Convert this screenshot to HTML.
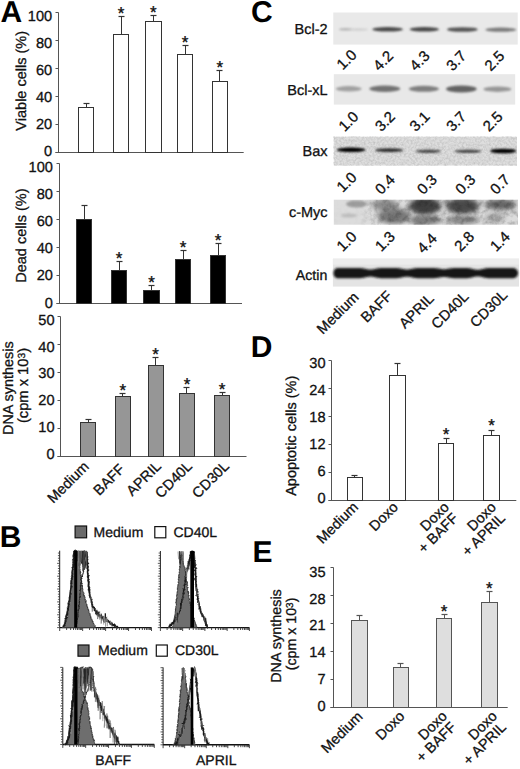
<!DOCTYPE html>
<html><head><meta charset="utf-8"><style>
html,body{margin:0;padding:0;background:#fff;overflow:hidden;}
svg{display:block;}
text{stroke:#111;stroke-width:0.3px;text-rendering:geometricPrecision;}
</style></head><body>
<svg width="520" height="769" viewBox="0 0 520 769" font-family='"Liberation Sans", sans-serif'>
<defs>
<filter id="b1" x="-20%" y="-100%" width="140%" height="300%"><feGaussianBlur stdDeviation="1.2 0.9"/></filter>
<filter id="b2" x="-20%" y="-100%" width="140%" height="300%"><feGaussianBlur stdDeviation="2.5 2"/></filter>
<filter id="b3" x="-20%" y="-50%" width="140%" height="200%"><feGaussianBlur stdDeviation="0.9"/></filter>
<filter id="nz" x="0" y="0" width="100%" height="100%"><feTurbulence type="fractalNoise" baseFrequency="0.45" numOctaves="2" seed="7"/><feColorMatrix type="matrix" values="0 0 0 0 0  0 0 0 0 0  0 0 0 0 0  1.6 0 0 0 -0.55"/></filter>
<filter id="nz2" x="0" y="0" width="100%" height="100%"><feTurbulence type="fractalNoise" baseFrequency="0.18" numOctaves="3" seed="11"/><feColorMatrix type="matrix" values="0 0 0 0 0  0 0 0 0 0  0 0 0 0 0  2.2 0 0 0 -0.85"/></filter>
</defs>
<rect width="520" height="769" fill="#fff"/>
<text x="0.5" y="22" font-size="30" font-weight="bold" fill="#000" style="stroke-width:0">A</text>
<text x="251" y="22" font-size="30" font-weight="bold" fill="#000" style="stroke-width:0">C</text>
<text x="-0.2" y="547" font-size="30" font-weight="bold" fill="#000" style="stroke-width:0">B</text>
<text x="250.8" y="357" font-size="30" font-weight="bold" fill="#000" style="stroke-width:0">D</text>
<text x="252.5" y="562" font-size="30" font-weight="bold" fill="#000" style="stroke-width:0">E</text>
<line x1="58.5" y1="12.5" x2="58.5" y2="152.5" stroke="#555" stroke-width="1"/>
<line x1="55.5" y1="152.5" x2="243.7" y2="152.5" stroke="#555" stroke-width="1"/>
<line x1="55.5" y1="152.5" x2="58.5" y2="152.5" stroke="#555" stroke-width="1"/>
<text x="52.2" y="156.1" font-size="14.6" text-anchor="end" fill="#111">0</text>
<line x1="55.5" y1="124.5" x2="58.5" y2="124.5" stroke="#555" stroke-width="1"/>
<text x="52.2" y="129.06" font-size="14.6" text-anchor="end" fill="#111">20</text>
<line x1="55.5" y1="96.5" x2="58.5" y2="96.5" stroke="#555" stroke-width="1"/>
<text x="52.2" y="102.02" font-size="14.6" text-anchor="end" fill="#111">40</text>
<line x1="55.5" y1="68.5" x2="58.5" y2="68.5" stroke="#555" stroke-width="1"/>
<text x="52.2" y="74.98" font-size="14.6" text-anchor="end" fill="#111">60</text>
<line x1="55.5" y1="40.5" x2="58.5" y2="40.5" stroke="#555" stroke-width="1"/>
<text x="52.2" y="47.94" font-size="14.6" text-anchor="end" fill="#111">80</text>
<line x1="55.5" y1="12.5" x2="58.5" y2="12.5" stroke="#555" stroke-width="1"/>
<text x="52.2" y="20.9" font-size="14.6" text-anchor="end" fill="#111">100</text>
<line x1="86.5" y1="103.5" x2="86.5" y2="107.5" stroke="#333" stroke-width="1"/>
<line x1="83.5" y1="103.5" x2="89.5" y2="103.5" stroke="#333" stroke-width="1.2"/>
<rect x="78.5" y="107.5" width="15" height="45" fill="#fff" stroke="#333" stroke-width="1.0"/>
<line x1="121.5" y1="16.5" x2="121.5" y2="34.5" stroke="#333" stroke-width="1"/>
<line x1="118.5" y1="16.5" x2="124.5" y2="16.5" stroke="#333" stroke-width="1.2"/>
<rect x="113.5" y="34.5" width="15" height="118" fill="#fff" stroke="#333" stroke-width="1.0"/>
<text x="121" y="19" font-size="17" text-anchor="middle" fill="#111" style="stroke-width:0.35px">*</text>
<line x1="153.5" y1="15.5" x2="153.5" y2="21.5" stroke="#333" stroke-width="1"/>
<line x1="150.5" y1="15.5" x2="156.5" y2="15.5" stroke="#333" stroke-width="1.2"/>
<rect x="145.5" y="21.5" width="16" height="131" fill="#fff" stroke="#333" stroke-width="1.0"/>
<text x="153.3" y="17.6" font-size="17" text-anchor="middle" fill="#111" style="stroke-width:0.35px">*</text>
<line x1="185.5" y1="45.5" x2="185.5" y2="54.5" stroke="#333" stroke-width="1"/>
<line x1="182.5" y1="45.5" x2="188.5" y2="45.5" stroke="#333" stroke-width="1.2"/>
<rect x="177.5" y="54.5" width="15" height="98" fill="#fff" stroke="#333" stroke-width="1.0"/>
<text x="185" y="47.7" font-size="17" text-anchor="middle" fill="#111" style="stroke-width:0.35px">*</text>
<line x1="219.5" y1="70.5" x2="219.5" y2="81.5" stroke="#333" stroke-width="1"/>
<line x1="216.5" y1="70.5" x2="222.5" y2="70.5" stroke="#333" stroke-width="1.2"/>
<rect x="212.5" y="81.5" width="15" height="71" fill="#fff" stroke="#333" stroke-width="1.0"/>
<text x="219.8" y="73.1" font-size="17" text-anchor="middle" fill="#111" style="stroke-width:0.35px">*</text>
<text x="26.3" y="80.8" font-size="14.5" text-anchor="middle" fill="#111" transform="rotate(-90 26.3 80.8)">Viable cells (%)</text>
<line x1="59.5" y1="163.5" x2="59.5" y2="303.5" stroke="#555" stroke-width="1"/>
<line x1="56.5" y1="303.5" x2="242" y2="303.5" stroke="#555" stroke-width="1"/>
<line x1="56.5" y1="303.5" x2="59.5" y2="303.5" stroke="#555" stroke-width="1"/>
<text x="52.9" y="307.5" font-size="14.6" text-anchor="end" fill="#111">0</text>
<line x1="56.5" y1="275.5" x2="59.5" y2="275.5" stroke="#555" stroke-width="1"/>
<text x="52.9" y="280.3" font-size="14.6" text-anchor="end" fill="#111">20</text>
<line x1="56.5" y1="247.5" x2="59.5" y2="247.5" stroke="#555" stroke-width="1"/>
<text x="52.9" y="253.1" font-size="14.6" text-anchor="end" fill="#111">40</text>
<line x1="56.5" y1="219.5" x2="59.5" y2="219.5" stroke="#555" stroke-width="1"/>
<text x="52.9" y="225.9" font-size="14.6" text-anchor="end" fill="#111">60</text>
<line x1="56.5" y1="191.5" x2="59.5" y2="191.5" stroke="#555" stroke-width="1"/>
<text x="52.9" y="198.7" font-size="14.6" text-anchor="end" fill="#111">80</text>
<line x1="56.5" y1="163.5" x2="59.5" y2="163.5" stroke="#555" stroke-width="1"/>
<text x="52.9" y="171.5" font-size="14.6" text-anchor="end" fill="#111">100</text>
<line x1="84.5" y1="205.5" x2="84.5" y2="219.5" stroke="#333" stroke-width="1"/>
<line x1="81.5" y1="205.5" x2="87.5" y2="205.5" stroke="#333" stroke-width="1.2"/>
<rect x="76.5" y="219.5" width="15" height="84" fill="#000" stroke="#333" stroke-width="1.0"/>
<line x1="119.5" y1="261.5" x2="119.5" y2="270.5" stroke="#333" stroke-width="1"/>
<line x1="116.5" y1="261.5" x2="122.5" y2="261.5" stroke="#333" stroke-width="1.2"/>
<rect x="111.5" y="270.5" width="15" height="33" fill="#000" stroke="#333" stroke-width="1.0"/>
<text x="119" y="263.6" font-size="17" text-anchor="middle" fill="#111" style="stroke-width:0.35px">*</text>
<line x1="151.5" y1="285.5" x2="151.5" y2="290.5" stroke="#333" stroke-width="1"/>
<line x1="148.5" y1="285.5" x2="154.5" y2="285.5" stroke="#333" stroke-width="1.2"/>
<rect x="143.5" y="290.5" width="16" height="13" fill="#000" stroke="#333" stroke-width="1.0"/>
<text x="151.55" y="288.1" font-size="17" text-anchor="middle" fill="#111" style="stroke-width:0.35px">*</text>
<line x1="183.5" y1="250.5" x2="183.5" y2="259.5" stroke="#333" stroke-width="1"/>
<line x1="180.5" y1="250.5" x2="186.5" y2="250.5" stroke="#333" stroke-width="1.2"/>
<rect x="175.5" y="259.5" width="15" height="44" fill="#000" stroke="#333" stroke-width="1.0"/>
<text x="183.1" y="253.3" font-size="17" text-anchor="middle" fill="#111" style="stroke-width:0.35px">*</text>
<line x1="218.5" y1="243.5" x2="218.5" y2="255.5" stroke="#333" stroke-width="1"/>
<line x1="215.5" y1="243.5" x2="221.5" y2="243.5" stroke="#333" stroke-width="1.2"/>
<rect x="210.5" y="255.5" width="15" height="48" fill="#000" stroke="#333" stroke-width="1.0"/>
<text x="218.05" y="246.3" font-size="17" text-anchor="middle" fill="#111" style="stroke-width:0.35px">*</text>
<text x="26.5" y="235.6" font-size="14.5" text-anchor="middle" fill="#111" transform="rotate(-90 26.5 235.6)">Dead cells (%)</text>
<line x1="60.5" y1="316.5" x2="60.5" y2="456.5" stroke="#555" stroke-width="1"/>
<line x1="57.5" y1="456.5" x2="246.5" y2="456.5" stroke="#555" stroke-width="1"/>
<line x1="57.5" y1="456.5" x2="60.5" y2="456.5" stroke="#555" stroke-width="1"/>
<text x="54.6" y="458.9" font-size="14.6" text-anchor="end" fill="#111">0</text>
<line x1="57.5" y1="428.5" x2="60.5" y2="428.5" stroke="#555" stroke-width="1"/>
<text x="54.6" y="432.08" font-size="14.6" text-anchor="end" fill="#111">10</text>
<line x1="57.5" y1="400.5" x2="60.5" y2="400.5" stroke="#555" stroke-width="1"/>
<text x="54.6" y="405.26" font-size="14.6" text-anchor="end" fill="#111">20</text>
<line x1="57.5" y1="372.5" x2="60.5" y2="372.5" stroke="#555" stroke-width="1"/>
<text x="54.6" y="378.44" font-size="14.6" text-anchor="end" fill="#111">30</text>
<line x1="57.5" y1="344.5" x2="60.5" y2="344.5" stroke="#555" stroke-width="1"/>
<text x="54.6" y="351.62" font-size="14.6" text-anchor="end" fill="#111">40</text>
<line x1="57.5" y1="316.5" x2="60.5" y2="316.5" stroke="#555" stroke-width="1"/>
<text x="54.6" y="324.8" font-size="14.6" text-anchor="end" fill="#111">50</text>
<line x1="88.5" y1="419.5" x2="88.5" y2="422.5" stroke="#333" stroke-width="1"/>
<line x1="85.5" y1="419.5" x2="91.5" y2="419.5" stroke="#333" stroke-width="1.2"/>
<rect x="80.5" y="422.5" width="15" height="34" fill="#969696" stroke="#333" stroke-width="1.0"/>
<line x1="122.5" y1="393.5" x2="122.5" y2="396.5" stroke="#333" stroke-width="1"/>
<line x1="119.5" y1="393.5" x2="125.5" y2="393.5" stroke="#333" stroke-width="1.2"/>
<rect x="115.5" y="396.5" width="15" height="60" fill="#969696" stroke="#333" stroke-width="1.0"/>
<text x="122.85" y="395.5" font-size="17" text-anchor="middle" fill="#111" style="stroke-width:0.35px">*</text>
<line x1="155.5" y1="357.5" x2="155.5" y2="365.5" stroke="#333" stroke-width="1"/>
<line x1="152.5" y1="357.5" x2="158.5" y2="357.5" stroke="#333" stroke-width="1.2"/>
<rect x="148.5" y="365.5" width="15" height="91" fill="#969696" stroke="#333" stroke-width="1.0"/>
<text x="155.65" y="360.1" font-size="17" text-anchor="middle" fill="#111" style="stroke-width:0.35px">*</text>
<line x1="186.5" y1="387.5" x2="186.5" y2="393.5" stroke="#333" stroke-width="1"/>
<line x1="183.5" y1="387.5" x2="189.5" y2="387.5" stroke="#333" stroke-width="1.2"/>
<rect x="179.5" y="393.5" width="15" height="63" fill="#969696" stroke="#333" stroke-width="1.0"/>
<text x="186.95" y="389.6" font-size="17" text-anchor="middle" fill="#111" style="stroke-width:0.35px">*</text>
<line x1="222.5" y1="392.5" x2="222.5" y2="395.5" stroke="#333" stroke-width="1"/>
<line x1="219.5" y1="392.5" x2="225.5" y2="392.5" stroke="#333" stroke-width="1.2"/>
<rect x="214.5" y="395.5" width="15" height="61" fill="#969696" stroke="#333" stroke-width="1.0"/>
<text x="222" y="394.7" font-size="17" text-anchor="middle" fill="#111" style="stroke-width:0.35px">*</text>
<text x="12.8" y="388.2" font-size="14.4" text-anchor="middle" fill="#111" transform="rotate(-90 12.8 388.2)">DNA synthesis</text>
<text x="27.6" y="385.5" font-size="14.7" text-anchor="middle" fill="#111" transform="rotate(-90 27.6 385.5)">(cpm x 10<tspan font-size="10.3" dy="-2.5">3</tspan><tspan dy="2.5">)</tspan></text>
<text x="89.8" y="467.5" font-size="14.5" text-anchor="end" fill="#111" transform="rotate(-45 89.8 467.5)">Medium</text>
<text x="125.5" y="470" font-size="14.5" text-anchor="end" fill="#111" transform="rotate(-45 125.5 470)">BAFF</text>
<text x="162" y="467" font-size="14.5" text-anchor="end" fill="#111" transform="rotate(-45 162 467)">APRIL</text>
<text x="193" y="467" font-size="14.5" text-anchor="end" fill="#111" transform="rotate(-45 193 467)">CD40L</text>
<text x="230" y="467" font-size="14.5" text-anchor="end" fill="#111" transform="rotate(-45 230 467)">CD30L</text>
<line x1="331.5" y1="360.5" x2="331.5" y2="500.5" stroke="#555" stroke-width="1"/>
<line x1="328.5" y1="500.5" x2="516.3" y2="500.5" stroke="#555" stroke-width="1"/>
<line x1="328.5" y1="500.5" x2="331.5" y2="500.5" stroke="#555" stroke-width="1"/>
<text x="325.6" y="503.2" font-size="14.6" text-anchor="end" fill="#111">0</text>
<line x1="328.5" y1="472.5" x2="331.5" y2="472.5" stroke="#555" stroke-width="1"/>
<text x="325.6" y="476.08" font-size="14.6" text-anchor="end" fill="#111">6</text>
<line x1="328.5" y1="444.5" x2="331.5" y2="444.5" stroke="#555" stroke-width="1"/>
<text x="325.6" y="448.96" font-size="14.6" text-anchor="end" fill="#111">12</text>
<line x1="328.5" y1="416.5" x2="331.5" y2="416.5" stroke="#555" stroke-width="1"/>
<text x="325.6" y="421.84" font-size="14.6" text-anchor="end" fill="#111">18</text>
<line x1="328.5" y1="388.5" x2="331.5" y2="388.5" stroke="#555" stroke-width="1"/>
<text x="325.6" y="394.72" font-size="14.6" text-anchor="end" fill="#111">24</text>
<line x1="328.5" y1="360.5" x2="331.5" y2="360.5" stroke="#555" stroke-width="1"/>
<text x="325.6" y="367.6" font-size="14.6" text-anchor="end" fill="#111">30</text>
<line x1="354.5" y1="475.5" x2="354.5" y2="477.5" stroke="#333" stroke-width="1"/>
<line x1="351.5" y1="475.5" x2="357.5" y2="475.5" stroke="#333" stroke-width="1.2"/>
<rect x="347.5" y="477.5" width="15" height="23" fill="#fff" stroke="#333" stroke-width="1.0"/>
<line x1="397.5" y1="363.5" x2="397.5" y2="375.5" stroke="#333" stroke-width="1"/>
<line x1="394.5" y1="363.5" x2="400.5" y2="363.5" stroke="#333" stroke-width="1.2"/>
<rect x="389.5" y="375.5" width="16" height="125" fill="#fff" stroke="#333" stroke-width="1.0"/>
<line x1="446.5" y1="438.5" x2="446.5" y2="443.5" stroke="#333" stroke-width="1"/>
<line x1="443.5" y1="438.5" x2="449.5" y2="438.5" stroke="#333" stroke-width="1.2"/>
<rect x="438.5" y="443.5" width="15" height="57" fill="#fff" stroke="#333" stroke-width="1.0"/>
<text x="446.15" y="439.8" font-size="17" text-anchor="middle" fill="#111" style="stroke-width:0.35px">*</text>
<line x1="491.5" y1="430.5" x2="491.5" y2="435.5" stroke="#333" stroke-width="1"/>
<line x1="488.5" y1="430.5" x2="494.5" y2="430.5" stroke="#333" stroke-width="1.2"/>
<rect x="483.5" y="435.5" width="16" height="65" fill="#fff" stroke="#333" stroke-width="1.0"/>
<text x="491.55" y="431.2" font-size="17" text-anchor="middle" fill="#111" style="stroke-width:0.35px">*</text>
<text x="296.3" y="435.8" font-size="14.5" text-anchor="middle" fill="#111" transform="rotate(-90 296.3 435.8)">Apoptotic cells (%)</text>
<text x="359" y="508" font-size="14.5" text-anchor="end" fill="#111" transform="rotate(-45 359 508)">Medium</text>
<text x="399" y="508" font-size="14.5" text-anchor="end" fill="#111" transform="rotate(-45 399 508)">Doxo</text>
<text x="450" y="508" font-size="14.5" text-anchor="end" fill="#111" transform="rotate(-45 450 508)">Doxo</text>
<text x="459" y="519" font-size="14.5" text-anchor="end" fill="#111" transform="rotate(-45 459 519)">+ BAFF</text>
<text x="497" y="508" font-size="14.5" text-anchor="end" fill="#111" transform="rotate(-45 497 508)">Doxo</text>
<text x="506" y="519" font-size="14.5" text-anchor="end" fill="#111" transform="rotate(-45 506 519)">+ APRIL</text>
<line x1="333.5" y1="567.5" x2="333.5" y2="707.5" stroke="#555" stroke-width="1"/>
<line x1="330.5" y1="707.5" x2="507.7" y2="707.5" stroke="#555" stroke-width="1"/>
<line x1="330.5" y1="707.5" x2="333.5" y2="707.5" stroke="#555" stroke-width="1"/>
<text x="325.6" y="710.7" font-size="14.6" text-anchor="end" fill="#111">0</text>
<line x1="330.5" y1="679.5" x2="333.5" y2="679.5" stroke="#555" stroke-width="1"/>
<text x="325.6" y="683.9" font-size="14.6" text-anchor="end" fill="#111">7</text>
<line x1="330.5" y1="651.5" x2="333.5" y2="651.5" stroke="#555" stroke-width="1"/>
<text x="325.6" y="657.1" font-size="14.6" text-anchor="end" fill="#111">14</text>
<line x1="330.5" y1="623.5" x2="333.5" y2="623.5" stroke="#555" stroke-width="1"/>
<text x="325.6" y="630.3" font-size="14.6" text-anchor="end" fill="#111">21</text>
<line x1="330.5" y1="595.5" x2="333.5" y2="595.5" stroke="#555" stroke-width="1"/>
<text x="325.6" y="603.5" font-size="14.6" text-anchor="end" fill="#111">28</text>
<line x1="330.5" y1="567.5" x2="333.5" y2="567.5" stroke="#555" stroke-width="1"/>
<text x="325.6" y="576.7" font-size="14.6" text-anchor="end" fill="#111">35</text>
<line x1="359.5" y1="615.5" x2="359.5" y2="620.5" stroke="#555" stroke-width="1"/>
<line x1="356.5" y1="615.5" x2="362.5" y2="615.5" stroke="#555" stroke-width="1.2"/>
<rect x="351.5" y="620.5" width="16" height="87" fill="#dedede" stroke="#555" stroke-width="1.0"/>
<line x1="400.5" y1="663.5" x2="400.5" y2="667.5" stroke="#555" stroke-width="1"/>
<line x1="397.5" y1="663.5" x2="403.5" y2="663.5" stroke="#555" stroke-width="1.2"/>
<rect x="393.5" y="667.5" width="15" height="40" fill="#dedede" stroke="#555" stroke-width="1.0"/>
<line x1="444.5" y1="614.5" x2="444.5" y2="618.5" stroke="#555" stroke-width="1"/>
<line x1="441.5" y1="614.5" x2="447.5" y2="614.5" stroke="#555" stroke-width="1.2"/>
<rect x="436.5" y="618.5" width="15" height="89" fill="#dedede" stroke="#555" stroke-width="1.0"/>
<text x="444" y="617.2" font-size="17" text-anchor="middle" fill="#111" style="stroke-width:0.35px">*</text>
<line x1="489.5" y1="591.5" x2="489.5" y2="602.5" stroke="#555" stroke-width="1"/>
<line x1="486.5" y1="591.5" x2="492.5" y2="591.5" stroke="#555" stroke-width="1.2"/>
<rect x="481.5" y="602.5" width="16" height="105" fill="#dedede" stroke="#555" stroke-width="1.0"/>
<text x="489.35" y="593.8" font-size="17" text-anchor="middle" fill="#111" style="stroke-width:0.35px">*</text>
<text x="281.3" y="636" font-size="14.4" text-anchor="middle" fill="#111" transform="rotate(-90 281.3 636)">DNA synthesis</text>
<text x="295.8" y="633.9" font-size="14.2" text-anchor="middle" fill="#111" transform="rotate(-90 295.8 633.9)">(cpm x 10<tspan font-size="10" dy="-2.5">3</tspan><tspan dy="2.5">)</tspan></text>
<text x="363.5" y="717.5" font-size="14.5" text-anchor="end" fill="#111" transform="rotate(-45 363.5 717.5)">Medium</text>
<text x="405.5" y="717" font-size="14.5" text-anchor="end" fill="#111" transform="rotate(-45 405.5 717)">Doxo</text>
<text x="448" y="717" font-size="14.5" text-anchor="end" fill="#111" transform="rotate(-45 448 717)">Doxo</text>
<text x="457" y="728" font-size="14.5" text-anchor="end" fill="#111" transform="rotate(-45 457 728)">+ BAFF</text>
<text x="498" y="717" font-size="14.5" text-anchor="end" fill="#111" transform="rotate(-45 498 717)">Doxo</text>
<text x="507" y="728" font-size="14.5" text-anchor="end" fill="#111" transform="rotate(-45 507 728)">+ APRIL</text>
<rect x="333.3" y="12.5" width="184.4" height="32.1" fill="#e9e9e9"/>
<g clip-path="url(#cl12)">
<ellipse cx="345.35" cy="29.3" rx="6.65" ry="1.3" fill="#b4b4b4" filter="url(#b1)"/>
<ellipse cx="358.5" cy="29.5" rx="9.5" ry="1.1" fill="#cacaca" filter="url(#b1)"/>
<ellipse cx="387.65" cy="29.3" rx="15.35" ry="2.3" fill="#4a4a4a" filter="url(#b1)"/>
<ellipse cx="424.35" cy="29.3" rx="14.65" ry="2.3" fill="#484848" filter="url(#b1)"/>
<ellipse cx="462.35" cy="29.5" rx="15.35" ry="2.3" fill="#545454" filter="url(#b1)"/>
<ellipse cx="500.8" cy="29.7" rx="15.4" ry="2.1" fill="#7a7a7a" filter="url(#b1)"/>
</g>
<clipPath id="cl12"><rect x="333.3" y="12.5" width="184.4" height="32.1"/></clipPath>
<text x="327.6" y="34.3" font-size="14.5" text-anchor="end" fill="#111">Bcl-2</text>
<rect x="333.8" y="74.2" width="181.4" height="30.4" fill="#e8e8e8"/>
<g clip-path="url(#cl74)">
<ellipse cx="348.75" cy="88.8" rx="12.95" ry="2.7" fill="#a0a0a0" filter="url(#b1)"/>
<ellipse cx="384.8" cy="88.8" rx="15.4" ry="3.2" fill="#727272" filter="url(#b1)"/>
<ellipse cx="423.9" cy="88.8" rx="15.1" ry="3" fill="#7e7e7e" filter="url(#b1)"/>
<ellipse cx="461.35" cy="89" rx="15.35" ry="3.4" fill="#646464" filter="url(#b1)"/>
<ellipse cx="497.4" cy="89.2" rx="13.9" ry="2.7" fill="#969696" filter="url(#b1)"/>
</g>
<clipPath id="cl74"><rect x="333.8" y="74.2" width="181.4" height="30.4"/></clipPath>
<text x="327.6" y="94.6" font-size="14.5" text-anchor="end" fill="#111">Bcl-xL</text>
<rect x="333.8" y="136.7" width="183.2" height="28.9" fill="#dedede"/>
<g clip-path="url(#cl136)">
<ellipse cx="351.15" cy="149.8" rx="14.45" ry="2.3" fill="#000" filter="url(#b1)"/>
<ellipse cx="389.1" cy="150.2" rx="13.9" ry="1.9" fill="#2e2e2e" filter="url(#b1)"/>
<ellipse cx="428.3" cy="151.2" rx="12.7" ry="1.7" fill="#4e4e4e" filter="url(#b1)"/>
<ellipse cx="468.05" cy="151.2" rx="13.45" ry="1.7" fill="#4e4e4e" filter="url(#b1)"/>
<ellipse cx="503.2" cy="151" rx="13" ry="2.3" fill="#050505" filter="url(#b1)"/>
</g>
<clipPath id="cl136"><rect x="333.8" y="136.7" width="183.2" height="28.9"/></clipPath>
<text x="327.6" y="155.9" font-size="14.5" text-anchor="end" fill="#111">Bax</text>
<rect x="333.8" y="136.7" width="183.2" height="28.9" filter="url(#nz)" opacity="0.14"/>
<rect x="333.8" y="199.7" width="184.2" height="25" fill="#dcdcdc"/>
<g clip-path="url(#cl199)">
<ellipse cx="356.5" cy="204" rx="10.5" ry="3.5" fill="#9c9c9c" filter="url(#b1)"/>
<ellipse cx="349" cy="215.5" rx="8" ry="2" fill="#bdbdbd" filter="url(#b1)"/>
<ellipse cx="385" cy="205" rx="13" ry="6" fill="#8c8c8c" filter="url(#b2)"/>
<ellipse cx="394" cy="216" rx="16" ry="8" fill="#787878" filter="url(#b2)"/>
<ellipse cx="425" cy="206" rx="16" ry="8.5" fill="#404040" filter="url(#b2)"/>
<ellipse cx="425" cy="220" rx="16" ry="5" fill="#7a7a7a" filter="url(#b2)"/>
<ellipse cx="462.5" cy="206" rx="16.5" ry="8" fill="#4a4a4a" filter="url(#b2)"/>
<ellipse cx="462.5" cy="220" rx="16.5" ry="4.5" fill="#8a8a8a" filter="url(#b2)"/>
<ellipse cx="500.5" cy="204.5" rx="15.5" ry="5.5" fill="#666" filter="url(#b2)"/>
<ellipse cx="495" cy="218" rx="10" ry="5" fill="#aaa" filter="url(#b2)"/>
</g>
<clipPath id="cl199"><rect x="333.8" y="199.7" width="184.2" height="25"/></clipPath>
<text x="327.6" y="216.7" font-size="14.5" text-anchor="end" fill="#111">c-Myc</text>
<linearGradient id="mg" x1="0" x2="1" y1="0" y2="0"><stop offset="0" stop-color="#fff" stop-opacity="0.08"/><stop offset="0.14" stop-color="#fff" stop-opacity="0.08"/><stop offset="0.22" stop-color="#fff" stop-opacity="1"/><stop offset="1" stop-color="#fff" stop-opacity="1"/></linearGradient><mask id="mk" maskContentUnits="userSpaceOnUse"><rect x="333.8" y="199.7" width="184.2" height="25" fill="url(#mg)"/></mask>
<rect x="333.8" y="199.7" width="184.2" height="25" filter="url(#nz2)" opacity="0.22" mask="url(#mk)"/>
<rect x="332.9" y="258.7" width="186.1" height="27.9" fill="#e4e4e4"/>
<rect x="332.9" y="258.7" width="186.1" height="6" fill="#ececec"/>
<path d="M333.5 272.02 L334.0 270.53 L334.5 269.73 L335.0 269.16 L335.5 268.73 L336.0 268.42 L336.5 268.18 L337.0 268.02 L337.5 267.93 L338.0 267.90 L338.5 267.90 L339.0 267.90 L339.5 267.90 L340.0 267.90 L340.5 267.90 L341.0 267.90 L341.5 267.90 L342.0 267.90 L342.5 267.90 L343.0 267.90 L343.5 267.90 L344.0 267.90 L344.5 267.90 L345.0 267.90 L345.5 267.90 L346.0 267.90 L346.5 267.90 L347.0 267.90 L347.5 267.90 L348.0 267.90 L348.5 267.90 L349.0 267.90 L349.5 267.90 L350.0 267.90 L350.5 267.90 L351.0 267.90 L351.5 267.90 L352.0 267.90 L352.5 267.90 L353.0 267.90 L353.5 267.90 L354.0 267.90 L354.5 267.90 L355.0 267.91 L355.5 267.91 L356.0 267.91 L356.5 267.92 L357.0 267.92 L357.5 267.93 L358.0 267.94 L358.5 267.96 L359.0 267.98 L359.5 268.00 L360.0 268.03 L360.5 268.07 L361.0 268.11 L361.5 268.16 L362.0 268.22 L362.5 268.29 L363.0 268.37 L363.5 268.45 L364.0 268.54 L364.5 268.65 L365.0 268.75 L365.5 268.86 L366.0 268.98 L366.5 269.09 L367.0 269.19 L367.5 269.29 L368.0 269.38 L368.5 269.46 L369.0 269.52 L369.5 269.57 L370.0 269.59 L370.5 269.60 L371.0 269.59 L371.5 269.55 L372.0 269.50 L372.5 269.43 L373.0 269.35 L373.5 269.25 L374.0 269.15 L374.5 269.04 L375.0 268.93 L375.5 268.82 L376.0 268.71 L376.5 268.60 L377.0 268.51 L377.5 268.42 L378.0 268.33 L378.5 268.26 L379.0 268.20 L379.5 268.14 L380.0 268.09 L380.5 268.05 L381.0 268.02 L381.5 267.99 L382.0 267.97 L382.5 267.95 L383.0 267.94 L383.5 267.93 L384.0 267.92 L384.5 267.92 L385.0 267.91 L385.5 267.91 L386.0 267.91 L386.5 267.90 L387.0 267.90 L387.5 267.90 L388.0 267.90 L388.5 267.90 L389.0 267.90 L389.5 267.90 L390.0 267.90 L390.5 267.90 L391.0 267.90 L391.5 267.91 L392.0 267.91 L392.5 267.91 L393.0 267.92 L393.5 267.92 L394.0 267.93 L394.5 267.94 L395.0 267.95 L395.5 267.97 L396.0 267.99 L396.5 268.02 L397.0 268.05 L397.5 268.09 L398.0 268.14 L398.5 268.19 L399.0 268.25 L399.5 268.32 L400.0 268.40 L400.5 268.49 L401.0 268.58 L401.5 268.68 L402.0 268.79 L402.5 268.89 L403.0 269.00 L403.5 269.10 L404.0 269.19 L404.5 269.28 L405.0 269.36 L405.5 269.42 L406.0 269.46 L406.5 269.49 L407.0 269.50 L407.5 269.49 L408.0 269.46 L408.5 269.42 L409.0 269.36 L409.5 269.28 L410.0 269.19 L410.5 269.10 L411.0 269.00 L411.5 268.89 L412.0 268.79 L412.5 268.68 L413.0 268.58 L413.5 268.49 L414.0 268.40 L414.5 268.32 L415.0 268.25 L415.5 268.19 L416.0 268.14 L416.5 268.09 L417.0 268.05 L417.5 268.02 L418.0 267.99 L418.5 267.97 L419.0 267.95 L419.5 267.94 L420.0 267.93 L420.5 267.92 L421.0 267.92 L421.5 267.91 L422.0 267.91 L422.5 267.91 L423.0 267.90 L423.5 267.90 L424.0 267.90 L424.5 267.90 L425.0 267.90 L425.5 267.90 L426.0 267.90 L426.5 267.90 L427.0 267.90 L427.5 267.90 L428.0 267.90 L428.5 267.90 L429.0 267.91 L429.5 267.91 L430.0 267.91 L430.5 267.92 L431.0 267.92 L431.5 267.93 L432.0 267.94 L432.5 267.96 L433.0 267.97 L433.5 268.00 L434.0 268.02 L434.5 268.05 L435.0 268.09 L435.5 268.14 L436.0 268.19 L436.5 268.24 L437.0 268.31 L437.5 268.38 L438.0 268.45 L438.5 268.54 L439.0 268.62 L439.5 268.70 L440.0 268.79 L440.5 268.87 L441.0 268.95 L441.5 269.02 L442.0 269.08 L442.5 269.13 L443.0 269.17 L443.5 269.19 L444.0 269.20 L444.5 269.19 L445.0 269.17 L445.5 269.13 L446.0 269.08 L446.5 269.02 L447.0 268.95 L447.5 268.87 L448.0 268.79 L448.5 268.70 L449.0 268.62 L449.5 268.54 L450.0 268.45 L450.5 268.38 L451.0 268.31 L451.5 268.24 L452.0 268.19 L452.5 268.14 L453.0 268.09 L453.5 268.05 L454.0 268.02 L454.5 268.00 L455.0 267.97 L455.5 267.96 L456.0 267.94 L456.5 267.93 L457.0 267.92 L457.5 267.92 L458.0 267.91 L458.5 267.91 L459.0 267.91 L459.5 267.91 L460.0 267.90 L460.5 267.90 L461.0 267.90 L461.5 267.90 L462.0 267.91 L462.5 267.91 L463.0 267.91 L463.5 267.92 L464.0 267.92 L464.5 267.93 L465.0 267.94 L465.5 267.96 L466.0 267.97 L466.5 268.00 L467.0 268.03 L467.5 268.06 L468.0 268.10 L468.5 268.16 L469.0 268.22 L469.5 268.29 L470.0 268.37 L470.5 268.46 L471.0 268.56 L471.5 268.66 L472.0 268.78 L472.5 268.90 L473.0 269.03 L473.5 269.15 L474.0 269.27 L474.5 269.39 L475.0 269.50 L475.5 269.59 L476.0 269.67 L476.5 269.74 L477.0 269.78 L477.5 269.80 L478.0 269.80 L478.5 269.77 L479.0 269.73 L479.5 269.66 L480.0 269.58 L480.5 269.48 L481.0 269.37 L481.5 269.25 L482.0 269.13 L482.5 269.00 L483.0 268.88 L483.5 268.76 L484.0 268.64 L484.5 268.54 L485.0 268.44 L485.5 268.35 L486.0 268.27 L486.5 268.20 L487.0 268.15 L487.5 268.10 L488.0 268.05 L488.5 268.02 L489.0 267.99 L489.5 267.97 L490.0 267.95 L490.5 267.94 L491.0 267.93 L491.5 267.92 L492.0 267.92 L492.5 267.91 L493.0 267.91 L493.5 267.91 L494.0 267.90 L494.5 267.90 L495.0 267.90 L495.5 267.90 L496.0 267.90 L496.5 267.90 L497.0 267.90 L497.5 267.90 L498.0 267.90 L498.5 267.90 L499.0 267.90 L499.5 267.90 L500.0 267.90 L500.5 267.90 L501.0 267.90 L501.5 267.90 L502.0 267.90 L502.5 267.90 L503.0 267.90 L503.5 267.90 L504.0 267.90 L504.5 267.90 L505.0 267.90 L505.5 267.90 L506.0 267.90 L506.5 267.90 L507.0 267.90 L507.5 267.90 L508.0 267.90 L508.5 267.90 L509.0 267.90 L509.5 267.90 L510.0 267.90 L510.5 267.90 L511.0 267.90 L511.5 267.90 L512.0 267.90 L512.5 267.90 L513.0 267.92 L513.5 267.98 L514.0 268.09 L514.5 268.24 L515.0 268.45 L515.5 268.71 L516.0 269.04 L516.5 269.46 L517.0 270.00 L517.5 270.76 L518.0 272.12 L518.0 274.08 L517.5 275.44 L517.0 276.20 L516.5 276.74 L516.0 277.16 L515.5 277.49 L515.0 277.75 L514.5 277.96 L514.0 278.11 L513.5 278.22 L513.0 278.28 L512.5 278.30 L512.0 278.30 L511.5 278.30 L511.0 278.30 L510.5 278.30 L510.0 278.30 L509.5 278.30 L509.0 278.30 L508.5 278.30 L508.0 278.30 L507.5 278.30 L507.0 278.30 L506.5 278.30 L506.0 278.30 L505.5 278.30 L505.0 278.30 L504.5 278.30 L504.0 278.30 L503.5 278.30 L503.0 278.30 L502.5 278.30 L502.0 278.30 L501.5 278.30 L501.0 278.30 L500.5 278.30 L500.0 278.30 L499.5 278.30 L499.0 278.30 L498.5 278.30 L498.0 278.30 L497.5 278.30 L497.0 278.30 L496.5 278.30 L496.0 278.30 L495.5 278.30 L495.0 278.30 L494.5 278.30 L494.0 278.30 L493.5 278.29 L493.0 278.29 L492.5 278.29 L492.0 278.28 L491.5 278.28 L491.0 278.27 L490.5 278.26 L490.0 278.25 L489.5 278.23 L489.0 278.21 L488.5 278.18 L488.0 278.15 L487.5 278.10 L487.0 278.05 L486.5 278.00 L486.0 277.93 L485.5 277.85 L485.0 277.76 L484.5 277.66 L484.0 277.56 L483.5 277.44 L483.0 277.32 L482.5 277.20 L482.0 277.07 L481.5 276.95 L481.0 276.83 L480.5 276.72 L480.0 276.62 L479.5 276.54 L479.0 276.47 L478.5 276.43 L478.0 276.40 L477.5 276.40 L477.0 276.42 L476.5 276.46 L476.0 276.53 L475.5 276.61 L475.0 276.70 L474.5 276.81 L474.0 276.93 L473.5 277.05 L473.0 277.17 L472.5 277.30 L472.0 277.42 L471.5 277.54 L471.0 277.64 L470.5 277.74 L470.0 277.83 L469.5 277.91 L469.0 277.98 L468.5 278.04 L468.0 278.10 L467.5 278.14 L467.0 278.17 L466.5 278.20 L466.0 278.23 L465.5 278.24 L465.0 278.26 L464.5 278.27 L464.0 278.28 L463.5 278.28 L463.0 278.29 L462.5 278.29 L462.0 278.29 L461.5 278.30 L461.0 278.30 L460.5 278.30 L460.0 278.30 L459.5 278.29 L459.0 278.29 L458.5 278.29 L458.0 278.29 L457.5 278.28 L457.0 278.28 L456.5 278.27 L456.0 278.26 L455.5 278.24 L455.0 278.23 L454.5 278.20 L454.0 278.18 L453.5 278.15 L453.0 278.11 L452.5 278.06 L452.0 278.01 L451.5 277.96 L451.0 277.89 L450.5 277.82 L450.0 277.75 L449.5 277.66 L449.0 277.58 L448.5 277.50 L448.0 277.41 L447.5 277.33 L447.0 277.25 L446.5 277.18 L446.0 277.12 L445.5 277.07 L445.0 277.03 L444.5 277.01 L444.0 277.00 L443.5 277.01 L443.0 277.03 L442.5 277.07 L442.0 277.12 L441.5 277.18 L441.0 277.25 L440.5 277.33 L440.0 277.41 L439.5 277.50 L439.0 277.58 L438.5 277.66 L438.0 277.75 L437.5 277.82 L437.0 277.89 L436.5 277.96 L436.0 278.01 L435.5 278.06 L435.0 278.11 L434.5 278.15 L434.0 278.18 L433.5 278.20 L433.0 278.23 L432.5 278.24 L432.0 278.26 L431.5 278.27 L431.0 278.28 L430.5 278.28 L430.0 278.29 L429.5 278.29 L429.0 278.29 L428.5 278.30 L428.0 278.30 L427.5 278.30 L427.0 278.30 L426.5 278.30 L426.0 278.30 L425.5 278.30 L425.0 278.30 L424.5 278.30 L424.0 278.30 L423.5 278.30 L423.0 278.30 L422.5 278.29 L422.0 278.29 L421.5 278.29 L421.0 278.28 L420.5 278.28 L420.0 278.27 L419.5 278.26 L419.0 278.25 L418.5 278.23 L418.0 278.21 L417.5 278.18 L417.0 278.15 L416.5 278.11 L416.0 278.06 L415.5 278.01 L415.0 277.95 L414.5 277.88 L414.0 277.80 L413.5 277.71 L413.0 277.62 L412.5 277.52 L412.0 277.41 L411.5 277.31 L411.0 277.20 L410.5 277.10 L410.0 277.01 L409.5 276.92 L409.0 276.84 L408.5 276.78 L408.0 276.74 L407.5 276.71 L407.0 276.70 L406.5 276.71 L406.0 276.74 L405.5 276.78 L405.0 276.84 L404.5 276.92 L404.0 277.01 L403.5 277.10 L403.0 277.20 L402.5 277.31 L402.0 277.41 L401.5 277.52 L401.0 277.62 L400.5 277.71 L400.0 277.80 L399.5 277.88 L399.0 277.95 L398.5 278.01 L398.0 278.06 L397.5 278.11 L397.0 278.15 L396.5 278.18 L396.0 278.21 L395.5 278.23 L395.0 278.25 L394.5 278.26 L394.0 278.27 L393.5 278.28 L393.0 278.28 L392.5 278.29 L392.0 278.29 L391.5 278.29 L391.0 278.30 L390.5 278.30 L390.0 278.30 L389.5 278.30 L389.0 278.30 L388.5 278.30 L388.0 278.30 L387.5 278.30 L387.0 278.30 L386.5 278.30 L386.0 278.29 L385.5 278.29 L385.0 278.29 L384.5 278.28 L384.0 278.28 L383.5 278.27 L383.0 278.26 L382.5 278.25 L382.0 278.23 L381.5 278.21 L381.0 278.18 L380.5 278.15 L380.0 278.11 L379.5 278.06 L379.0 278.00 L378.5 277.94 L378.0 277.87 L377.5 277.78 L377.0 277.69 L376.5 277.60 L376.0 277.49 L375.5 277.38 L375.0 277.27 L374.5 277.16 L374.0 277.05 L373.5 276.95 L373.0 276.85 L372.5 276.77 L372.0 276.70 L371.5 276.65 L371.0 276.61 L370.5 276.60 L370.0 276.61 L369.5 276.63 L369.0 276.68 L368.5 276.74 L368.0 276.82 L367.5 276.91 L367.0 277.01 L366.5 277.11 L366.0 277.22 L365.5 277.34 L365.0 277.45 L364.5 277.55 L364.0 277.66 L363.5 277.75 L363.0 277.83 L362.5 277.91 L362.0 277.98 L361.5 278.04 L361.0 278.09 L360.5 278.13 L360.0 278.17 L359.5 278.20 L359.0 278.22 L358.5 278.24 L358.0 278.26 L357.5 278.27 L357.0 278.28 L356.5 278.28 L356.0 278.29 L355.5 278.29 L355.0 278.29 L354.5 278.30 L354.0 278.30 L353.5 278.30 L353.0 278.30 L352.5 278.30 L352.0 278.30 L351.5 278.30 L351.0 278.30 L350.5 278.30 L350.0 278.30 L349.5 278.30 L349.0 278.30 L348.5 278.30 L348.0 278.30 L347.5 278.30 L347.0 278.30 L346.5 278.30 L346.0 278.30 L345.5 278.30 L345.0 278.30 L344.5 278.30 L344.0 278.30 L343.5 278.30 L343.0 278.30 L342.5 278.30 L342.0 278.30 L341.5 278.30 L341.0 278.30 L340.5 278.30 L340.0 278.30 L339.5 278.30 L339.0 278.30 L338.5 278.30 L338.0 278.30 L337.5 278.27 L337.0 278.18 L336.5 278.02 L336.0 277.78 L335.5 277.47 L335.0 277.04 L334.5 276.47 L334.0 275.67 L333.5 274.18Z" fill="#161616" filter="url(#b3)"/>
<text x="327.3" y="279.5" font-size="14.2" text-anchor="end" fill="#111">Actin</text>
<text x="357.6" y="55.8" font-size="15" text-anchor="end" fill="#111" transform="rotate(-45 357.6 55.8)">1.0</text>
<text x="394.1" y="56.9" font-size="15" text-anchor="end" fill="#111" transform="rotate(-45 394.1 56.9)">4.2</text>
<text x="430.6" y="56.9" font-size="15" text-anchor="end" fill="#111" transform="rotate(-45 430.6 56.9)">4.3</text>
<text x="467.2" y="56.9" font-size="15" text-anchor="end" fill="#111" transform="rotate(-45 467.2 56.9)">3.7</text>
<text x="505.5" y="56.9" font-size="15" text-anchor="end" fill="#111" transform="rotate(-45 505.5 56.9)">2.5</text>
<text x="359.4" y="117.6" font-size="15" text-anchor="end" fill="#111" transform="rotate(-45 359.4 117.6)">1.0</text>
<text x="395.9" y="117.6" font-size="15" text-anchor="end" fill="#111" transform="rotate(-45 395.9 117.6)">3.2</text>
<text x="430.6" y="117.6" font-size="15" text-anchor="end" fill="#111" transform="rotate(-45 430.6 117.6)">3.1</text>
<text x="467.2" y="117.6" font-size="15" text-anchor="end" fill="#111" transform="rotate(-45 467.2 117.6)">3.7</text>
<text x="503.7" y="117.6" font-size="15" text-anchor="end" fill="#111" transform="rotate(-45 503.7 117.6)">2.5</text>
<text x="357.6" y="178.3" font-size="15" text-anchor="end" fill="#111" transform="rotate(-45 357.6 178.3)">1.0</text>
<text x="396" y="180.5" font-size="15" text-anchor="end" fill="#111" transform="rotate(-45 396 180.5)">0.4</text>
<text x="438" y="180.5" font-size="15" text-anchor="end" fill="#111" transform="rotate(-45 438 180.5)">0.3</text>
<text x="476.3" y="180.5" font-size="15" text-anchor="end" fill="#111" transform="rotate(-45 476.3 180.5)">0.3</text>
<text x="511" y="180.5" font-size="15" text-anchor="end" fill="#111" transform="rotate(-45 511 180.5)">0.7</text>
<text x="357.6" y="237.6" font-size="15" text-anchor="end" fill="#111" transform="rotate(-45 357.6 237.6)">1.0</text>
<text x="396" y="237.6" font-size="15" text-anchor="end" fill="#111" transform="rotate(-45 396 237.6)">1.3</text>
<text x="438" y="239.4" font-size="15" text-anchor="end" fill="#111" transform="rotate(-45 438 239.4)">4.4</text>
<text x="475.2" y="237.6" font-size="15" text-anchor="end" fill="#111" transform="rotate(-45 475.2 237.6)">2.8</text>
<text x="511" y="237.6" font-size="15" text-anchor="end" fill="#111" transform="rotate(-45 511 237.6)">1.4</text>
<text x="359.5" y="298.2" font-size="14.6" text-anchor="end" fill="#111" transform="rotate(-45 359.5 298.2)">Medium</text>
<text x="393.1" y="296.9" font-size="14.6" text-anchor="end" fill="#111" transform="rotate(-45 393.1 296.9)">BAFF</text>
<text x="434.8" y="299.5" font-size="14.6" text-anchor="end" fill="#111" transform="rotate(-45 434.8 299.5)">APRIL</text>
<text x="469.5" y="297.6" font-size="14.6" text-anchor="end" fill="#111" transform="rotate(-45 469.5 297.6)">CD40L</text>
<text x="508.2" y="296.1" font-size="14.6" text-anchor="end" fill="#111" transform="rotate(-45 508.2 296.1)">CD30L</text>
<line x1="59.7" y1="550.7" x2="59.7" y2="627.6" stroke="#222" stroke-width="1"/>
<line x1="59.7" y1="627.6" x2="151.5" y2="627.6" stroke="#111" stroke-width="1.4"/>
<line x1="57.1" y1="627.6" x2="59.7" y2="627.6" stroke="#333" stroke-width="0.8"/>
<line x1="57.9" y1="625.03" x2="59.7" y2="625.03" stroke="#333" stroke-width="0.8"/>
<line x1="57.9" y1="622.46" x2="59.7" y2="622.46" stroke="#333" stroke-width="0.8"/>
<line x1="57.9" y1="619.89" x2="59.7" y2="619.89" stroke="#333" stroke-width="0.8"/>
<line x1="57.9" y1="617.32" x2="59.7" y2="617.32" stroke="#333" stroke-width="0.8"/>
<line x1="57.1" y1="614.75" x2="59.7" y2="614.75" stroke="#333" stroke-width="0.8"/>
<line x1="57.9" y1="612.18" x2="59.7" y2="612.18" stroke="#333" stroke-width="0.8"/>
<line x1="57.9" y1="609.61" x2="59.7" y2="609.61" stroke="#333" stroke-width="0.8"/>
<line x1="57.9" y1="607.04" x2="59.7" y2="607.04" stroke="#333" stroke-width="0.8"/>
<line x1="57.9" y1="604.47" x2="59.7" y2="604.47" stroke="#333" stroke-width="0.8"/>
<line x1="57.1" y1="601.9" x2="59.7" y2="601.9" stroke="#333" stroke-width="0.8"/>
<line x1="57.9" y1="599.33" x2="59.7" y2="599.33" stroke="#333" stroke-width="0.8"/>
<line x1="57.9" y1="596.76" x2="59.7" y2="596.76" stroke="#333" stroke-width="0.8"/>
<line x1="57.9" y1="594.19" x2="59.7" y2="594.19" stroke="#333" stroke-width="0.8"/>
<line x1="57.9" y1="591.62" x2="59.7" y2="591.62" stroke="#333" stroke-width="0.8"/>
<line x1="57.1" y1="589.05" x2="59.7" y2="589.05" stroke="#333" stroke-width="0.8"/>
<line x1="57.9" y1="586.48" x2="59.7" y2="586.48" stroke="#333" stroke-width="0.8"/>
<line x1="57.9" y1="583.91" x2="59.7" y2="583.91" stroke="#333" stroke-width="0.8"/>
<line x1="57.9" y1="581.34" x2="59.7" y2="581.34" stroke="#333" stroke-width="0.8"/>
<line x1="57.9" y1="578.77" x2="59.7" y2="578.77" stroke="#333" stroke-width="0.8"/>
<line x1="57.1" y1="576.2" x2="59.7" y2="576.2" stroke="#333" stroke-width="0.8"/>
<line x1="57.9" y1="573.63" x2="59.7" y2="573.63" stroke="#333" stroke-width="0.8"/>
<line x1="57.9" y1="571.06" x2="59.7" y2="571.06" stroke="#333" stroke-width="0.8"/>
<line x1="57.9" y1="568.49" x2="59.7" y2="568.49" stroke="#333" stroke-width="0.8"/>
<line x1="57.9" y1="565.92" x2="59.7" y2="565.92" stroke="#333" stroke-width="0.8"/>
<line x1="57.1" y1="563.35" x2="59.7" y2="563.35" stroke="#333" stroke-width="0.8"/>
<line x1="57.9" y1="560.78" x2="59.7" y2="560.78" stroke="#333" stroke-width="0.8"/>
<line x1="57.9" y1="558.21" x2="59.7" y2="558.21" stroke="#333" stroke-width="0.8"/>
<line x1="57.9" y1="555.64" x2="59.7" y2="555.64" stroke="#333" stroke-width="0.8"/>
<line x1="57.9" y1="553.07" x2="59.7" y2="553.07" stroke="#333" stroke-width="0.8"/>
<line x1="59.7" y1="627.6" x2="59.7" y2="631" stroke="#333" stroke-width="0.9"/>
<line x1="66.61" y1="627.6" x2="66.61" y2="630" stroke="#333" stroke-width="0.9"/>
<line x1="70.65" y1="627.6" x2="70.65" y2="630" stroke="#333" stroke-width="0.9"/>
<line x1="73.52" y1="627.6" x2="73.52" y2="630" stroke="#333" stroke-width="0.9"/>
<line x1="75.74" y1="627.6" x2="75.74" y2="630" stroke="#333" stroke-width="0.9"/>
<line x1="77.56" y1="627.6" x2="77.56" y2="630" stroke="#333" stroke-width="0.9"/>
<line x1="79.1" y1="627.6" x2="79.1" y2="630" stroke="#333" stroke-width="0.9"/>
<line x1="80.43" y1="627.6" x2="80.43" y2="630" stroke="#333" stroke-width="0.9"/>
<line x1="81.6" y1="627.6" x2="81.6" y2="630" stroke="#333" stroke-width="0.9"/>
<line x1="82.65" y1="627.6" x2="82.65" y2="631" stroke="#333" stroke-width="0.9"/>
<line x1="89.56" y1="627.6" x2="89.56" y2="630" stroke="#333" stroke-width="0.9"/>
<line x1="93.6" y1="627.6" x2="93.6" y2="630" stroke="#333" stroke-width="0.9"/>
<line x1="96.47" y1="627.6" x2="96.47" y2="630" stroke="#333" stroke-width="0.9"/>
<line x1="98.69" y1="627.6" x2="98.69" y2="630" stroke="#333" stroke-width="0.9"/>
<line x1="100.51" y1="627.6" x2="100.51" y2="630" stroke="#333" stroke-width="0.9"/>
<line x1="102.05" y1="627.6" x2="102.05" y2="630" stroke="#333" stroke-width="0.9"/>
<line x1="103.38" y1="627.6" x2="103.38" y2="630" stroke="#333" stroke-width="0.9"/>
<line x1="104.55" y1="627.6" x2="104.55" y2="630" stroke="#333" stroke-width="0.9"/>
<line x1="105.6" y1="627.6" x2="105.6" y2="631" stroke="#333" stroke-width="0.9"/>
<line x1="112.51" y1="627.6" x2="112.51" y2="630" stroke="#333" stroke-width="0.9"/>
<line x1="116.55" y1="627.6" x2="116.55" y2="630" stroke="#333" stroke-width="0.9"/>
<line x1="119.42" y1="627.6" x2="119.42" y2="630" stroke="#333" stroke-width="0.9"/>
<line x1="121.64" y1="627.6" x2="121.64" y2="630" stroke="#333" stroke-width="0.9"/>
<line x1="123.46" y1="627.6" x2="123.46" y2="630" stroke="#333" stroke-width="0.9"/>
<line x1="125" y1="627.6" x2="125" y2="630" stroke="#333" stroke-width="0.9"/>
<line x1="126.33" y1="627.6" x2="126.33" y2="630" stroke="#333" stroke-width="0.9"/>
<line x1="127.5" y1="627.6" x2="127.5" y2="630" stroke="#333" stroke-width="0.9"/>
<line x1="128.55" y1="627.6" x2="128.55" y2="631" stroke="#333" stroke-width="0.9"/>
<line x1="135.46" y1="627.6" x2="135.46" y2="630" stroke="#333" stroke-width="0.9"/>
<line x1="139.5" y1="627.6" x2="139.5" y2="630" stroke="#333" stroke-width="0.9"/>
<line x1="142.37" y1="627.6" x2="142.37" y2="630" stroke="#333" stroke-width="0.9"/>
<line x1="144.59" y1="627.6" x2="144.59" y2="630" stroke="#333" stroke-width="0.9"/>
<line x1="146.41" y1="627.6" x2="146.41" y2="630" stroke="#333" stroke-width="0.9"/>
<line x1="147.95" y1="627.6" x2="147.95" y2="630" stroke="#333" stroke-width="0.9"/>
<line x1="149.28" y1="627.6" x2="149.28" y2="630" stroke="#333" stroke-width="0.9"/>
<line x1="150.45" y1="627.6" x2="150.45" y2="630" stroke="#333" stroke-width="0.9"/>
<line x1="151.5" y1="627.6" x2="151.5" y2="631" stroke="#333" stroke-width="0.9"/>
<path d="M62.5 627.6 L63.1 627.5 L63.2 626.6 L63.0 626.7 L63.3 627.1 L63.4 626.0 L63.9 625.6 L64.0 625.2 L64.3 624.2 L63.8 624.5 L64.7 623.7 L64.4 623.0 L64.7 623.0 L64.6 622.5 L64.7 622.7 L65.0 621.9 L65.2 621.2 L65.1 622.0 L65.2 621.3 L65.5 621.1 L65.2 620.3 L65.2 619.5 L65.8 618.9 L65.6 618.6 L65.4 619.0 L65.8 618.1 L66.0 616.7 L65.9 617.2 L65.9 616.0 L66.3 616.5 L66.6 615.3 L66.4 614.8 L66.4 615.3 L66.7 614.8 L66.9 613.4 L66.7 614.4 L67.0 614.9 L67.2 612.3 L67.0 613.9 L66.9 612.0 L67.3 611.7 L67.3 611.5 L67.6 610.3 L67.1 611.6 L67.4 610.7 L67.4 609.5 L67.2 609.4 L67.8 608.3 L68.0 608.6 L67.7 609.0 L68.3 607.0 L68.3 607.3 L68.3 607.3 L68.3 607.4 L68.5 607.2 L68.0 605.7 L68.5 605.2 L68.6 605.5 L68.0 604.6 L68.6 604.2 L68.5 604.6 L68.9 604.6 L68.6 603.4 L68.8 602.7 L68.9 602.7 L68.7 600.9 L69.1 601.6 L69.0 600.6 L69.2 602.2 L69.0 600.8 L69.5 600.1 L69.4 599.5 L69.3 597.7 L69.5 599.2 L69.8 599.4 L69.9 597.6 L69.2 598.0 L69.8 597.6 L69.8 595.9 L69.7 597.0 L69.5 596.8 L70.1 595.7 L69.5 595.2 L70.0 595.3 L70.3 593.5 L69.6 594.1 L70.0 594.2 L69.8 592.5 L70.2 593.4 L70.6 592.1 L70.8 590.8 L69.9 591.5 L70.2 590.6 L70.6 591.0 L70.8 589.7 L70.6 590.6 L70.4 589.2 L70.7 589.4 L70.6 588.4 L70.6 588.2 L70.5 588.7 L70.8 587.7 L70.9 587.0 L70.8 586.0 L70.8 587.1 L70.6 586.4 L70.8 585.4 L71.3 585.3 L71.0 584.2 L70.7 583.8 L71.4 583.5 L71.3 583.8 L71.7 583.4 L71.2 582.4 L71.1 582.8 L70.9 582.5 L71.7 581.7 L72.0 581.8 L71.2 580.6 L71.3 580.3 L71.6 580.3 L71.3 579.6 L71.5 579.7 L71.5 578.0 L71.7 579.3 L71.9 577.5 L71.7 577.5 L72.0 576.4 L71.7 577.2 L71.9 577.2 L71.3 576.6 L71.5 576.1 L72.1 574.3 L71.8 574.3 L72.1 574.1 L72.1 573.4 L72.4 574.3 L72.3 573.3 L72.4 572.8 L72.1 572.7 L72.0 571.4 L72.0 571.1 L72.1 570.7 L72.0 571.1 L72.2 570.6 L72.3 570.3 L72.4 570.2 L72.3 568.4 L72.0 568.5 L72.4 568.5 L72.6 567.2 L72.8 567.3 L72.7 567.8 L72.4 567.5 L72.5 567.0 L73.2 566.0 L72.9 565.5 L73.2 565.8 L73.3 564.6 L72.6 564.6 L72.9 564.8 L73.0 563.4 L73.0 562.8 L73.1 562.8 L73.0 562.8 L73.0 562.3 L72.7 561.7 L73.0 561.5 L72.9 559.8 L73.2 559.9 L73.0 560.1 L73.4 559.0 L73.4 558.4 L73.3 558.1 L73.4 557.8 L73.4 557.9 L73.3 557.0 L73.4 557.3 L73.3 557.8 L73.6 556.3 L73.5 556.8 L73.7 555.8 L73.3 554.5 L73.8 554.6 L73.5 553.7 L73.5 554.4 L73.7 552.8 L73.7 553.9 L73.9 553.0 L73.7 551.0 L73.6 552.3 L73.7 552.3 L74.3 550.7 L74.4 551.6 L74.6 550.7 L75.3 551.2 L75.4 550.7 L76.6 551.3 L76.2 550.7 L77.2 550.7 L77.6 551.2 L77.2 552.8 L77.7 551.5 L78.0 552.7 L78.0 552.7 L78.0 552.9 L78.2 553.9 L78.1 554.9 L78.3 553.6 L78.2 555.1 L78.5 555.4 L78.2 554.7 L78.7 557.0 L78.4 557.6 L78.3 556.2 L78.7 558.3 L79.1 557.7 L79.0 557.9 L78.6 559.4 L79.0 559.0 L78.8 559.5 L78.9 560.6 L79.0 560.9 L78.4 561.0 L79.1 560.1 L78.8 560.4 L79.0 562.4 L78.8 561.6 L78.8 562.6 L79.0 562.3 L79.5 563.3 L79.8 563.0 L79.4 565.2 L79.7 564.0 L79.4 564.9 L79.1 565.3 L79.6 566.5 L79.7 565.3 L79.6 566.6 L79.8 566.9 L79.9 567.7 L79.6 568.1 L79.5 567.9 L79.8 568.7 L79.8 568.8 L79.9 569.7 L80.2 569.7 L80.5 569.8 L80.0 570.6 L80.3 571.2 L80.4 572.8 L80.4 571.5 L80.5 572.4 L80.2 573.5 L80.5 571.8 L80.8 572.4 L80.6 573.1 L80.3 574.1 L80.6 576.1 L80.8 575.2 L80.7 576.1 L80.5 575.7 L81.1 574.7 L80.4 575.2 L80.9 577.6 L80.9 577.5 L80.6 577.0 L81.3 578.9 L81.1 577.7 L80.8 579.7 L81.3 580.3 L81.1 579.3 L80.8 579.5 L81.2 581.1 L81.5 580.3 L81.6 581.9 L81.6 581.1 L81.6 582.7 L81.8 582.7 L81.6 582.7 L82.1 582.9 L81.9 583.9 L82.0 583.1 L82.1 584.4 L81.7 584.8 L81.9 585.8 L82.5 585.0 L82.3 587.2 L82.2 586.4 L82.5 586.3 L82.3 588.2 L82.6 588.8 L82.4 588.1 L82.7 588.1 L82.4 589.0 L83.2 589.0 L82.8 589.6 L82.6 591.1 L83.0 590.8 L83.0 591.1 L83.2 591.6 L83.0 591.8 L83.4 592.7 L84.3 593.1 L83.2 592.8 L83.7 593.5 L83.6 595.2 L83.8 594.4 L83.4 594.4 L83.7 596.2 L84.2 595.3 L84.2 595.1 L84.7 596.5 L84.2 596.0 L84.5 596.6 L85.3 597.5 L84.5 597.6 L84.6 597.6 L84.9 598.1 L85.0 598.5 L85.3 599.9 L85.2 599.2 L85.1 599.7 L85.5 601.6 L86.2 600.5 L86.0 602.1 L85.1 602.4 L85.8 601.9 L85.8 601.5 L86.2 603.1 L86.2 603.6 L86.8 604.2 L86.7 604.0 L86.8 605.1 L86.7 605.6 L86.8 604.6 L87.0 606.5 L87.3 606.1 L87.3 606.1 L87.2 606.6 L87.7 608.3 L87.6 608.2 L87.6 606.9 L87.6 608.5 L87.8 608.7 L87.9 609.1 L87.5 609.3 L88.6 609.1 L88.6 610.9 L88.5 610.2 L89.0 611.0 L89.0 611.2 L89.1 611.6 L88.5 612.8 L89.2 613.0 L89.5 612.8 L89.9 613.0 L90.1 613.7 L90.2 615.0 L89.6 614.9 L89.5 615.3 L90.3 615.4 L90.3 615.8 L90.7 616.5 L90.6 615.7 L90.8 618.2 L90.5 617.1 L91.1 617.7 L91.1 619.2 L91.4 618.9 L91.6 619.2 L91.7 619.2 L92.0 618.9 L92.0 620.4 L92.4 621.3 L92.5 620.5 L92.4 622.2 L92.6 621.1 L93.3 621.8 L93.0 622.9 L93.4 623.0 L93.5 623.8 L93.4 623.4 L93.5 623.6 L93.9 623.5 L94.1 624.3 L94.4 624.7 L94.1 624.9 L94.5 626.3 L94.8 626.1 L95.5 625.7 L94.7 627.6 L95.5 627.6Z" fill="#6e6e6e" stroke="#3a3a3a" stroke-width="0.8"/>
<path d="M63.0 627.6 L63.6 627.0 L63.8 627.2 L63.1 625.2 L63.2 627.4 L63.6 626.5 L64.5 626.3 L64.2 626.4 L64.2 624.3 L64.6 619.8 L65.2 624.6 L64.5 625.2 L64.9 624.7 L64.7 622.8 L66.0 622.9 L65.9 616.3 L65.7 620.6 L65.4 621.3 L65.8 621.0 L64.9 622.7 L65.8 620.3 L65.3 621.9 L65.4 620.2 L65.7 618.3 L65.9 621.5 L66.3 618.3 L66.4 619.4 L66.3 620.0 L66.0 617.6 L66.6 616.7 L66.4 618.4 L67.0 617.1 L66.3 615.6 L65.7 615.4 L66.6 615.7 L67.6 616.6 L67.1 615.1 L66.9 615.6 L67.4 616.1 L67.3 615.4 L67.3 615.2 L67.1 614.7 L67.3 611.8 L67.4 614.0 L67.2 610.6 L67.1 612.1 L67.6 610.8 L67.9 610.0 L67.9 610.1 L67.9 610.7 L67.9 609.4 L68.7 609.3 L68.0 609.2 L68.3 610.0 L68.7 608.7 L68.1 608.5 L68.2 612.0 L68.5 607.7 L68.8 608.1 L68.4 606.3 L68.5 607.2 L68.4 606.6 L68.0 606.3 L68.9 605.4 L68.5 604.5 L68.0 604.8 L68.7 604.3 L68.2 605.3 L68.5 604.9 L68.9 602.6 L68.6 603.9 L69.4 602.6 L68.5 603.1 L69.2 601.9 L69.3 600.6 L69.7 602.5 L69.6 601.6 L69.4 599.8 L69.4 598.8 L69.4 599.7 L69.8 598.7 L69.3 599.1 L69.7 599.7 L69.6 600.1 L69.7 598.1 L69.6 599.3 L70.5 598.7 L69.5 596.0 L69.9 595.5 L70.0 597.4 L70.1 596.8 L70.1 598.0 L70.2 596.8 L70.4 595.9 L69.6 603.5 L70.2 593.5 L69.8 594.3 L70.3 594.6 L69.9 595.8 L70.0 593.6 L70.4 590.0 L70.9 593.6 L70.7 591.2 L70.6 592.4 L71.1 590.9 L70.3 591.2 L69.9 591.2 L70.5 590.4 L70.6 589.1 L71.2 590.8 L71.6 589.6 L70.4 588.8 L71.7 589.1 L71.5 589.3 L71.2 589.5 L71.1 587.7 L71.9 587.4 L71.1 587.1 L70.9 585.6 L71.2 585.0 L70.7 585.9 L71.4 585.7 L71.2 586.2 L71.4 585.1 L71.5 583.3 L71.0 584.4 L71.9 584.4 L71.1 584.2 L71.8 583.2 L71.0 581.5 L71.7 583.3 L71.3 581.2 L71.6 582.0 L71.4 579.8 L70.9 581.5 L71.4 579.8 L71.8 581.1 L72.0 581.4 L71.3 580.5 L71.1 578.0 L71.6 577.9 L71.9 577.6 L71.8 578.6 L71.8 578.0 L72.4 577.4 L72.4 577.2 L72.4 577.1 L71.8 573.2 L72.2 577.4 L72.2 575.5 L71.8 575.4 L72.6 573.1 L72.4 573.3 L72.2 573.5 L72.9 572.7 L72.7 573.6 L72.8 574.0 L72.9 572.3 L72.8 571.9 L72.1 571.5 L72.5 571.7 L73.0 570.8 L72.4 571.3 L72.7 570.8 L72.9 570.5 L73.3 570.5 L73.3 569.5 L73.2 569.2 L72.8 570.3 L73.2 568.4 L73.1 568.8 L72.9 567.7 L73.5 566.9 L73.2 566.6 L72.8 565.9 L73.5 566.3 L73.0 565.4 L73.4 565.2 L72.7 566.3 L73.2 564.7 L72.9 565.5 L73.0 564.4 L72.7 564.6 L74.1 562.9 L73.4 563.2 L73.5 565.1 L73.9 563.1 L73.5 562.9 L73.7 561.9 L73.1 562.1 L73.7 559.9 L73.5 559.8 L73.8 560.6 L73.8 560.6 L73.3 559.2 L73.1 559.0 L73.4 558.5 L74.1 558.3 L74.0 557.1 L74.0 556.5 L73.2 557.4 L73.0 555.5 L73.8 555.9 L73.9 555.8 L73.9 555.1 L74.2 555.9 L74.1 554.9 L73.8 554.9 L73.9 553.7 L74.3 553.6 L74.3 554.4 L74.3 553.9 L75.1 552.8 L74.3 553.2 L74.4 552.7 L74.1 552.3 L74.3 553.3 L74.7 551.1 L75.0 552.0 L75.1 552.2 L75.6 551.8 L75.8 551.2 L75.4 553.0 L75.2 552.8 L77.5 552.8 L77.3 553.0 L77.2 553.3 L76.8 552.8 L77.2 554.1 L78.3 552.5 L77.0 554.4 L78.1 553.4 L78.7 554.7 L78.7 556.0 L79.1 555.4 L79.0 555.5 L79.9 556.1 L78.8 555.0 L78.8 554.5 L79.5 554.1 L80.0 555.0 L79.5 554.4 L80.0 553.8 L79.5 552.0 L79.4 553.2 L80.4 551.2 L80.5 552.4 L80.6 551.3 L80.1 554.4 L79.9 551.4 L80.0 554.4 L80.5 554.3 L80.9 552.3 L81.0 554.1 L80.4 553.2 L81.1 556.0 L81.1 553.8 L81.3 555.1 L81.3 554.9 L81.4 555.4 L81.8 556.0 L81.7 558.6 L81.9 557.4 L81.6 557.4 L82.1 557.6 L82.0 558.2 L81.4 550.7 L82.4 556.1 L82.3 557.9 L82.8 555.2 L82.5 555.6 L82.6 555.9 L82.8 556.7 L82.8 554.5 L82.7 554.7 L82.3 555.2 L83.7 554.3 L82.6 554.4 L83.1 553.9 L83.6 552.9 L83.5 552.9 L83.7 552.8 L83.9 552.2 L84.2 554.0 L84.0 551.2 L85.0 552.4 L83.8 554.9 L84.3 554.3 L84.2 553.7 L84.3 554.9 L84.7 555.9 L85.3 554.8 L84.6 556.3 L84.8 555.8 L85.4 555.5 L85.4 555.2 L86.1 555.9 L85.9 553.6 L85.7 553.9 L85.6 554.5 L86.0 552.5 L85.9 551.9 L85.6 553.5 L86.3 552.6 L86.3 552.1 L86.4 552.1 L86.4 551.4 L87.2 555.3 L86.9 552.1 L87.0 553.0 L86.5 552.5 L86.4 553.8 L86.7 555.9 L86.9 554.9 L86.7 555.8 L86.8 555.1 L87.2 557.6 L87.0 556.5 L86.6 555.5 L86.9 557.7 L86.8 557.1 L87.1 558.3 L86.7 558.3 L87.1 558.7 L87.4 559.0 L87.2 558.4 L86.9 558.2 L87.1 560.8 L87.4 560.2 L87.5 560.9 L87.6 560.6 L87.3 559.6 L86.9 560.6 L87.9 563.3 L87.5 561.7 L87.6 562.5 L87.6 561.8 L87.1 563.0 L87.4 563.5 L87.6 556.8 L87.9 564.5 L87.6 564.4 L86.5 564.8 L87.5 565.6 L87.7 566.3 L88.1 566.2 L87.9 568.3 L88.5 567.3 L88.2 567.6 L88.2 567.2 L88.0 569.1 L87.2 567.6 L88.0 567.4 L88.0 568.3 L87.6 570.1 L88.0 568.9 L88.0 571.5 L87.7 570.6 L87.8 569.6 L87.8 571.2 L88.0 573.3 L87.8 574.3 L88.1 571.3 L87.3 573.3 L87.9 574.3 L87.4 574.4 L87.8 573.6 L88.2 574.4 L88.0 574.9 L88.0 576.0 L88.1 577.2 L88.6 575.6 L87.7 577.2 L88.4 576.1 L87.6 577.3 L88.0 576.2 L88.2 576.7 L87.9 578.2 L88.3 577.3 L88.5 579.3 L87.8 578.4 L88.2 579.3 L88.2 579.5 L87.6 579.6 L88.3 580.4 L88.1 581.6 L88.8 583.8 L88.1 580.3 L89.0 582.0 L88.3 581.9 L89.2 581.6 L88.7 583.1 L88.7 582.4 L88.8 583.4 L88.9 585.0 L89.1 580.6 L89.2 584.8 L88.5 585.3 L88.2 584.4 L87.8 586.1 L88.6 586.3 L89.0 586.1 L88.9 587.8 L88.8 585.9 L88.7 588.0 L88.6 587.6 L88.8 587.2 L89.0 588.3 L88.3 588.5 L89.2 590.0 L88.5 588.2 L88.9 589.8 L88.8 589.9 L89.0 592.0 L88.8 590.0 L88.9 592.3 L89.2 590.1 L89.0 592.3 L90.3 592.2 L89.4 593.1 L89.4 592.4 L89.5 591.7 L89.3 592.4 L88.9 595.3 L89.8 594.6 L90.0 594.0 L89.4 596.0 L90.0 594.8 L89.7 595.2 L90.2 595.1 L90.4 597.6 L90.5 598.6 L90.5 596.4 L90.2 597.8 L90.8 598.8 L90.4 600.2 L90.8 596.5 L91.0 599.1 L90.7 599.9 L90.5 598.3 L91.2 600.4 L90.7 600.5 L90.8 601.4 L90.9 600.5 L91.6 601.8 L91.3 601.2 L90.7 602.6 L91.8 602.6 L92.4 602.4 L92.4 601.9 L91.6 605.0 L91.9 604.8 L92.2 605.0 L92.4 603.9 L92.2 604.6 L91.8 606.7 L92.6 606.2 L92.6 605.1 L92.1 606.3 L92.6 606.7 L93.0 606.7 L93.0 606.3 L93.4 608.6 L93.6 608.3 L93.7 607.9 L93.7 607.0 L93.4 608.2 L94.2 609.0 L94.7 610.1 L95.0 609.3 L94.5 611.0 L94.7 610.4 L95.3 609.9 L95.5 608.4 L95.4 610.1 L95.8 610.1 L95.6 611.5 L96.3 612.2 L96.1 613.4 L96.6 612.4 L96.9 611.6 L97.0 615.0 L96.7 613.5 L97.5 613.2 L98.1 613.4 L98.3 612.7 L98.4 614.8 L99.0 614.8 L99.4 616.1 L99.7 615.9 L99.4 615.9 L100.0 616.5 L100.1 615.4 L100.2 615.5 L100.3 616.0 L101.0 615.2 L101.0 616.4 L102.4 616.5 L101.9 617.6 L102.1 617.2 L102.3 615.8 L103.4 617.7 L102.7 619.2 L103.2 616.5 L103.3 617.7 L103.9 618.6 L104.2 617.6 L104.9 618.5 L104.3 619.2 L105.1 618.2 L106.0 619.8 L105.5 620.1 L105.9 618.8 L106.0 620.2 L105.7 621.3 L106.9 620.4 L107.6 621.1 L107.3 621.5 L107.1 621.0 L108.2 622.3 L108.4 621.9 L109.0 620.9 L109.3 622.5 L109.1 623.0 L109.7 623.1 L109.2 622.1 L110.5 623.3 L110.5 624.3 L111.1 623.5 L111.4 624.0 L111.2 624.8 L111.6 623.8 L111.7 624.6 L111.6 623.9 L112.6 625.3 L113.0 624.5 L112.9 624.2 L113.9 624.9 L114.0 625.0 L114.4 625.6 L114.3 625.9 L114.3 624.6 L115.5 625.2 L115.8 626.3 L115.9 626.6 L116.0 626.5 L116.4 627.6 L116.7 627.6 L116.9 626.9 L116.7 627.6 L118.0 627.6 L118.0 627.6" fill="none" stroke="#8a8a8a" stroke-width="0.8"/>
<path d="M63.0 627.6 L63.0 627.6 L63.6 626.1 L63.6 626.8 L63.6 626.1 L64.4 625.0 L64.1 626.1 L64.2 625.2 L64.8 625.3 L64.1 626.4 L65.0 625.3 L64.7 624.8 L64.8 623.4 L64.9 622.5 L65.3 623.9 L65.3 622.4 L65.5 622.3 L65.5 621.7 L66.0 621.7 L66.1 620.3 L65.9 620.7 L66.0 620.3 L65.7 620.3 L65.6 620.1 L66.2 618.6 L66.1 617.9 L66.4 618.4 L65.7 618.3 L67.1 617.5 L66.0 617.0 L66.5 616.7 L66.8 616.8 L66.2 616.6 L66.5 615.2 L66.2 615.6 L66.4 615.9 L66.3 615.2 L67.0 614.0 L67.1 614.4 L67.0 614.3 L67.6 614.5 L67.7 612.4 L67.3 613.7 L67.3 612.5 L67.3 612.7 L67.3 612.6 L67.9 611.2 L67.7 610.9 L67.5 611.0 L67.6 611.3 L67.9 610.0 L67.7 609.0 L68.0 609.2 L67.9 609.6 L68.4 609.8 L68.4 608.3 L67.7 608.0 L68.1 607.8 L68.5 607.5 L68.2 606.5 L68.6 606.5 L68.5 606.7 L68.7 606.2 L68.5 605.8 L68.7 604.7 L68.8 604.7 L68.3 604.2 L68.5 605.1 L68.5 605.1 L69.4 603.9 L69.0 604.5 L69.1 602.8 L69.1 602.4 L68.9 601.3 L68.9 602.1 L69.5 601.2 L69.1 601.3 L69.8 601.2 L69.4 600.3 L69.4 599.3 L69.4 599.7 L69.5 599.4 L69.5 599.1 L70.0 599.2 L70.3 596.2 L69.3 597.8 L69.8 598.9 L70.0 598.1 L69.6 596.9 L69.7 595.9 L69.8 595.9 L69.2 596.2 L70.2 596.1 L70.1 596.9 L70.1 594.6 L70.2 594.6 L70.3 593.9 L71.0 593.8 L70.4 593.1 L70.6 592.3 L70.2 593.4 L70.6 592.4 L70.4 592.9 L70.5 591.3 L70.3 591.5 L70.4 591.4 L70.8 589.3 L70.9 589.3 L70.9 590.4 L70.6 589.6 L70.9 587.9 L70.1 588.3 L71.2 587.8 L70.9 587.8 L71.0 588.9 L71.3 587.0 L70.9 588.5 L71.4 586.6 L71.0 585.9 L71.3 587.2 L71.1 586.4 L71.3 586.3 L71.7 586.4 L71.1 585.4 L71.1 585.2 L71.3 582.7 L71.5 583.0 L72.3 583.6 L71.3 583.1 L70.9 583.1 L71.4 581.9 L71.1 582.7 L71.5 583.0 L71.7 581.6 L71.4 581.4 L71.5 580.8 L71.2 580.8 L71.9 579.9 L71.6 579.1 L72.2 579.2 L72.3 578.8 L71.7 577.3 L71.9 578.2 L72.1 577.7 L72.3 577.5 L71.6 576.6 L72.1 577.0 L72.7 576.7 L72.2 575.4 L72.3 575.8 L72.3 575.7 L72.0 575.4 L72.6 573.8 L72.5 573.4 L72.5 573.8 L72.7 572.7 L72.7 574.8 L71.9 572.1 L72.7 571.8 L72.4 570.6 L72.7 571.3 L72.4 569.6 L72.4 570.8 L73.0 569.8 L72.7 569.8 L72.7 568.7 L72.7 568.8 L72.9 569.0 L72.9 568.7 L72.2 567.6 L72.7 567.5 L72.9 567.1 L73.2 567.4 L73.5 566.8 L72.8 565.7 L73.7 566.7 L73.2 565.4 L73.3 565.8 L73.1 564.5 L73.1 565.0 L73.7 564.4 L73.3 564.1 L73.3 564.1 L73.7 563.7 L73.9 563.1 L73.0 562.8 L73.4 561.4 L73.5 561.9 L74.1 560.1 L74.3 559.7 L73.6 560.7 L73.8 560.4 L74.0 561.3 L74.1 560.3 L73.7 560.3 L74.1 565.5 L73.6 559.1 L73.1 559.3 L73.5 558.5 L74.0 558.0 L74.2 557.5 L73.3 556.4 L73.5 556.1 L74.1 555.4 L73.1 556.3 L74.3 555.5 L74.5 554.8 L73.3 555.2 L74.5 550.7 L74.2 555.0 L74.7 555.3 L74.4 553.9 L74.3 552.7 L74.4 551.8 L74.7 554.0 L74.5 552.5 L74.5 551.0 L74.1 552.2 L75.0 550.7 L75.2 551.5 L76.0 551.9 L75.8 550.7 L76.1 551.6 L76.2 554.3 L76.9 552.5 L77.0 553.3 L77.0 553.3 L77.9 552.4 L78.2 553.5 L77.7 554.3 L77.7 555.1 L78.6 554.5 L78.2 555.3 L79.5 555.1 L78.8 561.4 L79.3 554.2 L78.7 556.1 L79.2 554.8 L79.6 554.5 L79.5 552.5 L79.3 553.4 L80.3 554.2 L79.9 555.1 L79.7 552.6 L79.7 552.2 L79.9 552.7 L80.5 552.2 L79.9 551.9 L80.3 552.5 L80.1 552.7 L80.9 553.8 L80.6 554.2 L81.0 555.3 L81.0 555.0 L80.8 555.1 L81.3 555.1 L81.4 556.0 L80.9 555.0 L81.6 557.5 L82.6 556.5 L81.5 563.6 L81.9 556.4 L81.4 558.1 L82.1 558.0 L81.9 557.9 L82.4 557.2 L82.2 556.7 L82.0 558.2 L82.7 557.5 L82.4 556.3 L82.3 556.0 L82.7 555.0 L82.5 553.9 L83.0 553.5 L82.9 554.0 L82.9 550.7 L83.3 552.9 L82.8 554.0 L83.6 553.4 L82.8 552.8 L83.9 559.3 L83.6 551.8 L83.6 552.3 L83.6 551.8 L84.1 551.4 L84.0 554.7 L84.1 554.1 L84.6 553.7 L84.3 559.8 L84.5 550.7 L84.8 555.3 L85.1 555.5 L84.9 556.2 L85.1 557.1 L85.2 555.7 L85.5 555.2 L85.9 555.4 L85.3 552.6 L85.6 554.4 L85.8 553.7 L86.1 553.7 L86.5 553.2 L86.2 553.2 L86.4 552.7 L86.8 552.4 L86.2 551.9 L86.3 552.7 L86.5 552.4 L86.7 553.8 L86.8 552.2 L86.6 554.0 L87.3 554.5 L86.6 553.6 L86.8 554.6 L87.2 556.2 L87.1 555.5 L86.9 555.4 L87.1 554.2 L87.3 557.0 L87.1 557.2 L87.3 557.9 L86.8 559.3 L87.2 558.2 L86.7 558.6 L87.0 558.4 L86.9 559.2 L87.7 559.6 L87.2 560.5 L87.5 560.8 L87.1 560.2 L87.3 560.7 L87.3 562.4 L87.2 561.1 L87.7 562.7 L87.0 563.7 L87.7 563.3 L88.3 563.4 L87.3 564.6 L87.5 564.2 L87.1 564.3 L87.6 564.5 L87.1 565.8 L87.8 565.9 L87.5 566.8 L87.1 565.8 L87.3 566.2 L87.2 566.5 L87.6 567.3 L88.0 567.0 L87.6 568.5 L87.4 568.5 L87.5 567.9 L87.8 566.8 L87.0 568.0 L88.0 570.7 L87.9 570.0 L87.1 570.5 L88.2 570.4 L87.4 571.4 L87.8 570.0 L88.3 570.3 L87.4 571.0 L87.4 572.5 L87.6 573.4 L87.6 573.6 L88.0 573.5 L87.8 573.0 L87.9 574.9 L87.9 574.4 L88.0 575.0 L87.8 575.3 L88.2 575.4 L88.1 575.5 L87.8 576.0 L88.7 575.9 L87.8 577.3 L88.4 577.4 L88.0 578.6 L88.3 576.9 L88.4 586.6 L88.5 578.9 L88.7 579.2 L88.0 579.1 L89.2 579.4 L88.5 579.3 L88.1 581.4 L88.0 580.9 L89.1 581.9 L88.9 582.4 L88.5 581.8 L88.7 582.3 L88.9 582.6 L88.6 584.0 L88.4 583.7 L88.6 584.0 L88.9 584.8 L88.7 584.6 L88.3 586.5 L88.9 584.7 L88.2 586.6 L88.5 587.1 L89.2 585.6 L88.9 587.4 L88.9 587.3 L88.9 588.1 L89.2 587.0 L88.9 588.4 L88.3 587.9 L89.0 588.7 L88.0 590.3 L88.4 589.5 L89.5 588.4 L89.4 589.3 L89.0 589.9 L89.2 591.8 L89.3 590.9 L89.7 590.6 L89.2 592.9 L89.2 592.6 L89.4 593.0 L89.7 592.6 L89.8 594.5 L89.6 593.7 L90.0 592.8 L89.6 593.7 L89.9 594.3 L89.8 595.1 L89.8 596.1 L90.5 595.4 L90.1 595.8 L90.0 598.2 L90.3 597.0 L90.1 596.9 L90.6 597.7 L90.8 597.1 L90.9 598.7 L90.4 599.4 L90.7 598.6 L91.4 600.1 L90.9 599.5 L91.4 600.3 L91.6 599.9 L90.8 600.2 L91.6 600.1 L91.6 601.6 L91.7 601.6 L92.0 602.0 L91.7 601.7 L91.7 602.0 L91.9 602.8 L91.7 603.9 L92.1 604.1 L91.4 603.8 L92.6 604.8 L92.0 606.2 L92.4 605.4 L92.4 607.1 L92.5 606.3 L92.6 607.3 L92.8 606.2 L92.4 607.8 L92.9 606.4 L93.6 607.7 L93.1 607.6 L93.2 606.7 L94.4 607.5 L94.3 609.6 L94.5 609.5 L94.2 610.4 L94.5 609.9 L94.8 608.0 L94.9 610.6 L94.8 610.3 L94.6 610.6 L95.1 610.9 L95.1 610.9 L96.3 611.1 L96.0 612.9 L96.3 612.6 L96.8 612.0 L96.9 612.4 L97.4 613.7 L97.3 613.5 L97.3 613.6 L98.6 612.9 L98.1 613.7 L98.4 613.4 L98.6 613.1 L99.0 615.4 L99.4 614.8 L99.9 614.9 L99.6 614.8 L100.3 616.2 L100.3 617.4 L101.2 616.6 L100.7 617.0 L101.4 615.7 L101.8 617.0 L101.5 617.2 L102.2 618.4 L102.5 617.5 L102.5 617.1 L102.9 617.9 L103.6 617.9 L103.7 619.4 L103.8 619.1 L104.1 619.0 L104.6 619.1 L105.2 619.8 L105.3 613.2 L105.6 618.9 L106.2 618.4 L105.5 620.8 L105.9 620.6 L105.9 620.9 L107.2 620.6 L106.5 622.0 L107.5 620.3 L108.0 622.1 L107.7 620.8 L108.2 621.3 L108.6 620.9 L109.2 622.1 L108.8 622.0 L109.6 622.8 L110.0 622.2 L110.2 624.6 L110.5 623.5 L111.1 624.2 L111.1 624.0 L111.3 623.6 L111.6 624.1 L112.2 622.8 L112.2 624.0 L112.8 625.2 L113.0 624.9 L113.6 624.1 L113.4 625.5 L114.0 625.0 L114.4 625.8 L114.7 624.4 L115.3 625.2 L115.4 626.0 L115.9 626.2 L116.5 626.6 L116.5 626.4 L116.2 626.4 L116.4 627.1 L117.3 627.6 L117.3 626.1 L117.8 627.2 L118.0 627.6" fill="none" stroke="#1a1a1a" stroke-width="1.25"/>
<path d="M76.0 627.0 L75.6 626.5 L76.4 626.5 L76.4 625.9 L76.3 625.1 L76.5 624.2 L76.4 625.2 L76.5 623.7 L76.3 623.5 L76.9 623.8 L76.8 622.8 L76.8 623.1 L76.8 621.4 L77.0 622.1 L76.7 620.4 L77.1 619.9 L77.0 619.8 L77.7 620.1 L77.1 619.2 L77.3 618.4 L77.4 619.5 L77.7 617.8 L77.7 617.9 L77.6 617.7 L78.3 616.9 L77.7 617.0 L77.8 616.7 L78.6 615.9 L77.5 616.2 L78.1 614.8 L78.0 614.1 L77.5 614.4 L77.8 613.3 L78.3 613.7 L77.6 613.0 L78.1 612.4 L78.4 612.6 L78.1 612.2 L78.3 609.7 L78.1 610.9 L78.2 610.8 L78.2 610.6 L78.3 609.5 L78.7 608.8 L78.6 609.1 L79.2 609.1 L78.8 607.0 L78.8 606.9 L79.4 607.1 L78.7 605.5 L78.6 606.3 L78.9 606.7 L78.6 605.2 L79.1 605.5 L79.4 604.5 L79.2 604.8 L79.0 604.6 L79.1 604.6 L79.3 603.4 L79.5 603.6 L79.1 602.8 L79.1 601.9 L79.6 602.7 L79.4 601.0 L79.5 601.1 L79.6 602.0 L79.2 600.7 L79.4 599.3 L79.8 599.5 L79.5 598.6 L79.5 598.5 L79.7 597.2 L79.8 597.9 L80.5 596.4 L79.5 597.2 L79.8 596.8 L80.4 596.6 L79.9 597.1 L80.0 594.3 L79.5 594.2 L80.3 593.9 L80.3 593.8 L80.3 594.2 L80.0 593.1 L80.2 592.6 L80.1 591.8 L80.4 591.7 L80.2 591.4 L80.5 591.2 L79.9 590.0 L80.2 590.4 L79.5 590.4 L80.4 589.9 L80.7 588.5 L80.4 589.4 L81.2 588.9 L80.3 588.2 L80.5 586.9 L80.4 586.4 L80.5 586.9 L80.6 585.8 L80.3 585.2 L80.5 586.2 L81.4 585.8 L80.8 585.2 L81.2 585.2 L80.6 584.6 L80.9 582.9 L81.2 583.9 L81.0 582.9 L80.9 582.7 L81.1 583.0 L81.2 581.9 L81.4 582.2 L81.6 580.8 L80.9 580.2 L80.7 579.6 L81.3 579.5 L81.5 578.2 L81.8 578.8 L82.0 578.3 L81.5 577.7 L82.4 576.3 L82.0 575.9 L81.5 577.2 L82.4 575.8 L82.3 576.8 L82.4 575.2 L81.9 575.4 L82.4 573.9 L82.6 574.0 L82.6 573.9 L82.9 573.9 L83.2 574.2 L83.3 573.4 L83.3 571.5 L83.0 572.0 L83.7 571.5 L83.3 570.8 L83.6 571.2 L83.3 571.3 L83.1 569.7 L83.0 570.3 L83.9 570.0 L83.8 568.2 L84.2 569.5 L84.7 569.0 L84.1 567.8 L84.2 568.2 L85.0 567.0 L85.2 567.1 L85.2 566.4 L85.2 565.1 L85.0 565.4 L85.5 564.7 L85.4 564.1 L85.8 563.3 L86.1 563.1 L85.7 562.5 L86.1 563.5 L86.1 561.2 L86.3 562.0 L86.6 561.2 L86.5 560.5 L86.6 561.2 L86.7 559.9 L86.4 560.7 L86.5 559.5 L86.7 559.4 L87.0 558.7 L87.0 558.7 L87.3 558.5 L86.4 557.3 L86.7 557.1 L86.2 557.8 L86.6 555.9 L86.3 557.0 L87.2 555.2 L87.1 554.7 L86.6 553.6 L87.0 553.7 L87.2 552.8 L87.5 553.1 L87.0 553.0" fill="none" stroke="#222" stroke-width="0.9"/>
<line x1="107.69" y1="618.38" x2="107.42" y2="626.4" stroke="#8a8a8a" stroke-width="0.7"/>
<line x1="78.73" y1="553.68" x2="78.37" y2="557.55" stroke="#2a2a2a" stroke-width="0.7"/>
<line x1="91.08" y1="596.85" x2="90.58" y2="602.36" stroke="#8a8a8a" stroke-width="0.7"/>
<line x1="98.29" y1="611.64" x2="97.64" y2="619.08" stroke="#2a2a2a" stroke-width="0.7"/>
<line x1="84.11" y1="550.93" x2="83.97" y2="555.96" stroke="#2a2a2a" stroke-width="0.7"/>
<line x1="103.9" y1="617.37" x2="104.09" y2="622.89" stroke="#2a2a2a" stroke-width="0.7"/>
<line x1="99.98" y1="612.52" x2="100.02" y2="618.13" stroke="#8a8a8a" stroke-width="0.7"/>
<line x1="106.46" y1="617.26" x2="106.33" y2="621.87" stroke="#8a8a8a" stroke-width="0.7"/>
<line x1="77.54" y1="552" x2="77.59" y2="561.2" stroke="#2a2a2a" stroke-width="0.7"/>
<line x1="111.67" y1="621.77" x2="111.97" y2="625.89" stroke="#2a2a2a" stroke-width="0.7"/>
<line x1="78.97" y1="552.34" x2="78.72" y2="560.92" stroke="#2a2a2a" stroke-width="0.7"/>
<line x1="92.17" y1="601.26" x2="92.26" y2="611.67" stroke="#2a2a2a" stroke-width="0.7"/>
<line x1="98.07" y1="613.46" x2="97.95" y2="617.52" stroke="#8a8a8a" stroke-width="0.7"/>
<line x1="82.69" y1="553.34" x2="82.12" y2="558.98" stroke="#2a2a2a" stroke-width="0.7"/>
<line x1="85.13" y1="552.32" x2="84.79" y2="557.23" stroke="#2a2a2a" stroke-width="0.7"/>
<line x1="99.92" y1="614.86" x2="99.94" y2="618.07" stroke="#2a2a2a" stroke-width="0.7"/>
<line x1="110.77" y1="622.1" x2="111.38" y2="626.67" stroke="#8a8a8a" stroke-width="0.7"/>
<line x1="105.9" y1="619.78" x2="105.7" y2="626.04" stroke="#8a8a8a" stroke-width="0.7"/>
<line x1="103.52" y1="616.04" x2="103.7" y2="624.67" stroke="#8a8a8a" stroke-width="0.7"/>
<line x1="86.22" y1="550.73" x2="86.26" y2="553.81" stroke="#8a8a8a" stroke-width="0.7"/>
<line x1="78.38" y1="554.33" x2="78.19" y2="557.96" stroke="#2a2a2a" stroke-width="0.7"/>
<line x1="103.86" y1="617.46" x2="104.16" y2="619.9" stroke="#8a8a8a" stroke-width="0.7"/>
<line x1="105.76" y1="618.31" x2="105.59" y2="627.42" stroke="#8a8a8a" stroke-width="0.7"/>
<line x1="101.09" y1="614.01" x2="102.22" y2="621.01" stroke="#8a8a8a" stroke-width="0.7"/>
<line x1="103.07" y1="615.75" x2="103.85" y2="622.13" stroke="#2a2a2a" stroke-width="0.7"/>
<line x1="96.85" y1="609.7" x2="96.34" y2="615.07" stroke="#2a2a2a" stroke-width="0.7"/>
<line x1="100.02" y1="614.14" x2="99.77" y2="620.02" stroke="#8a8a8a" stroke-width="0.7"/>
<line x1="95.81" y1="610.71" x2="95.44" y2="613.74" stroke="#2a2a2a" stroke-width="0.7"/>
<line x1="101.44" y1="613.59" x2="101.17" y2="623.59" stroke="#2a2a2a" stroke-width="0.7"/>
<line x1="97.54" y1="610.52" x2="97.1" y2="616.2" stroke="#2a2a2a" stroke-width="0.7"/>
<line x1="103.77" y1="616.97" x2="103.69" y2="619.42" stroke="#8a8a8a" stroke-width="0.7"/>
<line x1="100.91" y1="615.94" x2="100.01" y2="618.94" stroke="#8a8a8a" stroke-width="0.7"/>
<line x1="78.85" y1="554.48" x2="78.94" y2="559.17" stroke="#8a8a8a" stroke-width="0.7"/>
<line x1="76.34" y1="552.37" x2="76.47" y2="558.88" stroke="#8a8a8a" stroke-width="0.7"/>
<line x1="80.63" y1="550.7" x2="80.36" y2="557.76" stroke="#8a8a8a" stroke-width="0.7"/>
<line x1="98.78" y1="611.81" x2="98.97" y2="616.64" stroke="#2a2a2a" stroke-width="0.7"/>
<line x1="104.08" y1="616.29" x2="104.26" y2="622.28" stroke="#8a8a8a" stroke-width="0.7"/>
<line x1="104.63" y1="616.01" x2="104.77" y2="623.12" stroke="#8a8a8a" stroke-width="0.7"/>
<line x1="86.47" y1="550.7" x2="86.55" y2="555.37" stroke="#8a8a8a" stroke-width="0.7"/>
<line x1="82.85" y1="553.33" x2="83.2" y2="559.07" stroke="#2a2a2a" stroke-width="0.7"/>
<line x1="84.94" y1="551.24" x2="84.16" y2="557.95" stroke="#888" stroke-width="0.8"/>
<line x1="83.36" y1="551.63" x2="83.41" y2="568.32" stroke="#888" stroke-width="0.8"/>
<line x1="82.32" y1="551.21" x2="82.71" y2="566.93" stroke="#222" stroke-width="0.8"/>
<line x1="84.49" y1="551.81" x2="84.35" y2="569.75" stroke="#222" stroke-width="0.8"/>
<line x1="83.48" y1="552.11" x2="83.48" y2="558.45" stroke="#888" stroke-width="0.8"/>
<line x1="78.86" y1="550.77" x2="78.56" y2="562.8" stroke="#555" stroke-width="0.8"/>
<line x1="79.23" y1="551.5" x2="78.85" y2="568.8" stroke="#888" stroke-width="0.8"/>
<line x1="86.27" y1="551.14" x2="86.84" y2="564.46" stroke="#222" stroke-width="0.8"/>
<line x1="77.87" y1="551.93" x2="78.62" y2="566.32" stroke="#555" stroke-width="0.8"/>
<line x1="79.1" y1="552.36" x2="78.79" y2="558.24" stroke="#222" stroke-width="0.8"/>
<line x1="86.96" y1="551.12" x2="86.47" y2="565.33" stroke="#555" stroke-width="0.8"/>
<line x1="86.14" y1="551.7" x2="86.09" y2="562.28" stroke="#555" stroke-width="0.8"/>
<line x1="84.63" y1="551.36" x2="85.91" y2="568.58" stroke="#222" stroke-width="0.8"/>
<line x1="81.45" y1="551.5" x2="80.71" y2="562.49" stroke="#555" stroke-width="0.8"/>
<line x1="82.08" y1="552.65" x2="82.52" y2="570.55" stroke="#555" stroke-width="0.8"/>
<line x1="81.28" y1="551.16" x2="82.18" y2="558.27" stroke="#222" stroke-width="0.8"/>
<line x1="81.67" y1="550.86" x2="80.94" y2="562.15" stroke="#555" stroke-width="0.8"/>
<line x1="86.02" y1="551.98" x2="86.67" y2="563.31" stroke="#555" stroke-width="0.8"/>
<line x1="83.94" y1="552.57" x2="84.51" y2="570.09" stroke="#555" stroke-width="0.8"/>
<line x1="80.94" y1="551.06" x2="80.73" y2="558.18" stroke="#888" stroke-width="0.8"/>
<line x1="78.66" y1="551.31" x2="79.3" y2="568.92" stroke="#888" stroke-width="0.8"/>
<line x1="79.08" y1="551.71" x2="78.68" y2="562.59" stroke="#888" stroke-width="0.8"/>
<line x1="84.2" y1="551.3" x2="83.12" y2="558.93" stroke="#888" stroke-width="0.8"/>
<line x1="83.78" y1="551.5" x2="83.75" y2="568.64" stroke="#222" stroke-width="0.8"/>
<line x1="83" y1="551.49" x2="82.54" y2="564.69" stroke="#222" stroke-width="0.8"/>
<line x1="80.64" y1="551.51" x2="80.57" y2="558.8" stroke="#888" stroke-width="0.8"/>
<line x1="80.59" y1="551.22" x2="80.6" y2="559.19" stroke="#555" stroke-width="0.8"/>
<line x1="80.08" y1="552.13" x2="79.59" y2="568.59" stroke="#555" stroke-width="0.8"/>
<line x1="80.12" y1="550.87" x2="80.59" y2="561.78" stroke="#555" stroke-width="0.8"/>
<line x1="79.81" y1="550.77" x2="80.3" y2="565.4" stroke="#555" stroke-width="0.8"/>
<rect x="74.2" y="550.7" width="3" height="76.9" fill="#000"/>
<line x1="160.4" y1="551" x2="160.4" y2="627.6" stroke="#222" stroke-width="1"/>
<line x1="160.4" y1="627.6" x2="249.4" y2="627.6" stroke="#111" stroke-width="1.4"/>
<line x1="157.8" y1="627.6" x2="160.4" y2="627.6" stroke="#333" stroke-width="0.8"/>
<line x1="158.6" y1="625.03" x2="160.4" y2="625.03" stroke="#333" stroke-width="0.8"/>
<line x1="158.6" y1="622.46" x2="160.4" y2="622.46" stroke="#333" stroke-width="0.8"/>
<line x1="158.6" y1="619.89" x2="160.4" y2="619.89" stroke="#333" stroke-width="0.8"/>
<line x1="158.6" y1="617.32" x2="160.4" y2="617.32" stroke="#333" stroke-width="0.8"/>
<line x1="157.8" y1="614.75" x2="160.4" y2="614.75" stroke="#333" stroke-width="0.8"/>
<line x1="158.6" y1="612.18" x2="160.4" y2="612.18" stroke="#333" stroke-width="0.8"/>
<line x1="158.6" y1="609.61" x2="160.4" y2="609.61" stroke="#333" stroke-width="0.8"/>
<line x1="158.6" y1="607.04" x2="160.4" y2="607.04" stroke="#333" stroke-width="0.8"/>
<line x1="158.6" y1="604.47" x2="160.4" y2="604.47" stroke="#333" stroke-width="0.8"/>
<line x1="157.8" y1="601.9" x2="160.4" y2="601.9" stroke="#333" stroke-width="0.8"/>
<line x1="158.6" y1="599.33" x2="160.4" y2="599.33" stroke="#333" stroke-width="0.8"/>
<line x1="158.6" y1="596.76" x2="160.4" y2="596.76" stroke="#333" stroke-width="0.8"/>
<line x1="158.6" y1="594.19" x2="160.4" y2="594.19" stroke="#333" stroke-width="0.8"/>
<line x1="158.6" y1="591.62" x2="160.4" y2="591.62" stroke="#333" stroke-width="0.8"/>
<line x1="157.8" y1="589.05" x2="160.4" y2="589.05" stroke="#333" stroke-width="0.8"/>
<line x1="158.6" y1="586.48" x2="160.4" y2="586.48" stroke="#333" stroke-width="0.8"/>
<line x1="158.6" y1="583.91" x2="160.4" y2="583.91" stroke="#333" stroke-width="0.8"/>
<line x1="158.6" y1="581.34" x2="160.4" y2="581.34" stroke="#333" stroke-width="0.8"/>
<line x1="158.6" y1="578.77" x2="160.4" y2="578.77" stroke="#333" stroke-width="0.8"/>
<line x1="157.8" y1="576.2" x2="160.4" y2="576.2" stroke="#333" stroke-width="0.8"/>
<line x1="158.6" y1="573.63" x2="160.4" y2="573.63" stroke="#333" stroke-width="0.8"/>
<line x1="158.6" y1="571.06" x2="160.4" y2="571.06" stroke="#333" stroke-width="0.8"/>
<line x1="158.6" y1="568.49" x2="160.4" y2="568.49" stroke="#333" stroke-width="0.8"/>
<line x1="158.6" y1="565.92" x2="160.4" y2="565.92" stroke="#333" stroke-width="0.8"/>
<line x1="157.8" y1="563.35" x2="160.4" y2="563.35" stroke="#333" stroke-width="0.8"/>
<line x1="158.6" y1="560.78" x2="160.4" y2="560.78" stroke="#333" stroke-width="0.8"/>
<line x1="158.6" y1="558.21" x2="160.4" y2="558.21" stroke="#333" stroke-width="0.8"/>
<line x1="158.6" y1="555.64" x2="160.4" y2="555.64" stroke="#333" stroke-width="0.8"/>
<line x1="158.6" y1="553.07" x2="160.4" y2="553.07" stroke="#333" stroke-width="0.8"/>
<line x1="160.4" y1="627.6" x2="160.4" y2="631" stroke="#333" stroke-width="0.9"/>
<line x1="167.1" y1="627.6" x2="167.1" y2="630" stroke="#333" stroke-width="0.9"/>
<line x1="171.02" y1="627.6" x2="171.02" y2="630" stroke="#333" stroke-width="0.9"/>
<line x1="173.8" y1="627.6" x2="173.8" y2="630" stroke="#333" stroke-width="0.9"/>
<line x1="175.95" y1="627.6" x2="175.95" y2="630" stroke="#333" stroke-width="0.9"/>
<line x1="177.71" y1="627.6" x2="177.71" y2="630" stroke="#333" stroke-width="0.9"/>
<line x1="179.2" y1="627.6" x2="179.2" y2="630" stroke="#333" stroke-width="0.9"/>
<line x1="180.49" y1="627.6" x2="180.49" y2="630" stroke="#333" stroke-width="0.9"/>
<line x1="181.63" y1="627.6" x2="181.63" y2="630" stroke="#333" stroke-width="0.9"/>
<line x1="182.65" y1="627.6" x2="182.65" y2="631" stroke="#333" stroke-width="0.9"/>
<line x1="189.35" y1="627.6" x2="189.35" y2="630" stroke="#333" stroke-width="0.9"/>
<line x1="193.27" y1="627.6" x2="193.27" y2="630" stroke="#333" stroke-width="0.9"/>
<line x1="196.05" y1="627.6" x2="196.05" y2="630" stroke="#333" stroke-width="0.9"/>
<line x1="198.2" y1="627.6" x2="198.2" y2="630" stroke="#333" stroke-width="0.9"/>
<line x1="199.96" y1="627.6" x2="199.96" y2="630" stroke="#333" stroke-width="0.9"/>
<line x1="201.45" y1="627.6" x2="201.45" y2="630" stroke="#333" stroke-width="0.9"/>
<line x1="202.74" y1="627.6" x2="202.74" y2="630" stroke="#333" stroke-width="0.9"/>
<line x1="203.88" y1="627.6" x2="203.88" y2="630" stroke="#333" stroke-width="0.9"/>
<line x1="204.9" y1="627.6" x2="204.9" y2="631" stroke="#333" stroke-width="0.9"/>
<line x1="211.6" y1="627.6" x2="211.6" y2="630" stroke="#333" stroke-width="0.9"/>
<line x1="215.52" y1="627.6" x2="215.52" y2="630" stroke="#333" stroke-width="0.9"/>
<line x1="218.3" y1="627.6" x2="218.3" y2="630" stroke="#333" stroke-width="0.9"/>
<line x1="220.45" y1="627.6" x2="220.45" y2="630" stroke="#333" stroke-width="0.9"/>
<line x1="222.21" y1="627.6" x2="222.21" y2="630" stroke="#333" stroke-width="0.9"/>
<line x1="223.7" y1="627.6" x2="223.7" y2="630" stroke="#333" stroke-width="0.9"/>
<line x1="224.99" y1="627.6" x2="224.99" y2="630" stroke="#333" stroke-width="0.9"/>
<line x1="226.13" y1="627.6" x2="226.13" y2="630" stroke="#333" stroke-width="0.9"/>
<line x1="227.15" y1="627.6" x2="227.15" y2="631" stroke="#333" stroke-width="0.9"/>
<line x1="233.85" y1="627.6" x2="233.85" y2="630" stroke="#333" stroke-width="0.9"/>
<line x1="237.77" y1="627.6" x2="237.77" y2="630" stroke="#333" stroke-width="0.9"/>
<line x1="240.55" y1="627.6" x2="240.55" y2="630" stroke="#333" stroke-width="0.9"/>
<line x1="242.7" y1="627.6" x2="242.7" y2="630" stroke="#333" stroke-width="0.9"/>
<line x1="244.46" y1="627.6" x2="244.46" y2="630" stroke="#333" stroke-width="0.9"/>
<line x1="245.95" y1="627.6" x2="245.95" y2="630" stroke="#333" stroke-width="0.9"/>
<line x1="247.24" y1="627.6" x2="247.24" y2="630" stroke="#333" stroke-width="0.9"/>
<line x1="248.38" y1="627.6" x2="248.38" y2="630" stroke="#333" stroke-width="0.9"/>
<line x1="249.4" y1="627.6" x2="249.4" y2="631" stroke="#333" stroke-width="0.9"/>
<path d="M172.0 627.6 L172.4 627.2 L172.5 627.5 L172.7 626.6 L173.1 626.6 L172.6 626.3 L172.9 625.6 L172.9 625.6 L173.4 625.2 L173.9 623.5 L173.8 623.8 L174.0 623.5 L173.4 623.0 L174.0 621.8 L173.8 622.0 L174.5 622.2 L174.3 621.7 L174.4 622.1 L174.2 620.4 L174.4 620.1 L174.5 619.6 L174.3 619.3 L174.3 618.7 L174.5 617.6 L174.4 618.5 L174.5 618.5 L174.6 618.1 L174.5 616.4 L175.0 616.5 L174.4 617.3 L175.1 615.8 L174.8 615.6 L174.9 614.9 L174.7 615.2 L175.0 614.8 L175.1 615.2 L175.2 613.7 L175.1 613.3 L175.3 611.9 L175.7 612.0 L175.4 611.4 L175.2 611.2 L175.6 610.2 L175.4 611.3 L175.6 609.6 L175.7 610.0 L175.5 608.6 L175.1 609.2 L175.6 609.6 L175.8 607.7 L175.6 608.0 L175.9 607.4 L176.0 607.2 L175.7 606.9 L176.2 605.8 L176.3 605.7 L176.2 605.0 L176.3 604.5 L176.3 603.9 L176.6 604.8 L176.2 603.4 L176.2 603.8 L176.4 603.3 L176.0 602.0 L175.9 602.8 L176.1 601.3 L176.5 601.8 L176.5 601.9 L176.1 600.2 L176.0 599.6 L176.4 599.2 L176.5 600.8 L176.6 598.8 L176.8 597.8 L177.0 598.7 L176.8 597.7 L176.9 597.4 L176.5 596.4 L176.5 595.3 L176.9 595.8 L177.1 595.2 L177.1 594.4 L177.1 594.3 L177.2 594.0 L177.3 594.7 L176.7 594.2 L177.0 593.7 L177.3 592.7 L177.4 591.8 L176.9 592.4 L177.6 592.1 L177.3 592.0 L177.3 591.0 L177.5 590.5 L177.7 590.4 L177.2 589.2 L177.8 588.9 L177.6 589.4 L177.4 587.8 L177.6 588.1 L177.2 588.3 L177.6 587.5 L177.8 587.3 L177.7 585.9 L177.8 586.1 L177.9 585.6 L178.0 585.8 L178.3 585.3 L178.0 584.6 L178.0 585.3 L178.3 584.1 L178.7 583.2 L178.1 582.6 L178.4 582.6 L177.9 581.9 L178.7 582.8 L178.5 581.8 L178.7 580.8 L178.4 580.2 L178.2 579.6 L178.7 579.6 L178.7 580.2 L178.4 579.5 L178.3 578.6 L178.8 578.3 L178.7 576.7 L179.4 577.9 L178.6 576.9 L178.7 577.4 L178.9 576.1 L178.5 575.5 L178.7 575.5 L179.4 574.6 L179.0 575.4 L178.9 574.4 L178.8 574.0 L179.3 573.6 L179.4 572.8 L179.3 572.9 L179.2 572.3 L179.4 572.9 L179.5 571.5 L179.2 571.3 L179.6 570.4 L179.0 570.0 L179.2 569.7 L179.5 570.2 L179.6 569.1 L179.3 569.2 L179.8 568.1 L180.0 567.6 L179.9 566.3 L179.9 567.5 L180.0 567.9 L180.0 566.1 L179.6 566.7 L179.9 566.0 L180.3 564.6 L179.8 565.1 L180.1 563.7 L180.0 563.7 L180.0 564.2 L180.0 563.1 L180.3 561.9 L180.4 563.0 L180.4 561.1 L180.0 561.3 L180.4 560.8 L180.6 560.5 L180.8 559.6 L180.8 558.8 L180.8 560.4 L181.0 558.4 L180.9 558.0 L180.6 556.6 L180.8 557.7 L180.7 558.1 L180.3 557.7 L180.5 558.1 L181.5 557.0 L180.8 555.9 L180.6 555.3 L181.2 555.7 L181.8 554.4 L181.5 554.2 L181.7 553.9 L181.6 554.9 L181.8 556.4 L182.2 555.6 L182.2 556.3 L182.1 555.0 L182.4 557.7 L182.6 557.5 L182.3 558.5 L182.6 558.2 L182.6 558.0 L182.5 558.1 L183.0 559.6 L182.7 559.7 L182.6 559.5 L182.4 560.5 L182.6 560.5 L183.4 561.8 L182.7 561.5 L183.2 561.4 L183.1 562.5 L183.3 562.6 L183.4 564.3 L183.1 563.5 L183.3 563.4 L183.5 564.6 L183.5 564.8 L183.6 565.5 L183.7 565.9 L184.1 565.5 L184.4 566.5 L184.3 566.8 L184.1 566.6 L184.6 567.3 L184.6 568.2 L184.9 567.5 L185.3 568.2 L185.0 568.9 L185.2 569.5 L185.1 570.3 L185.3 569.5 L185.2 570.9 L185.8 571.5 L185.5 572.5 L185.3 571.7 L186.0 571.8 L185.2 571.8 L185.8 573.5 L185.9 574.3 L185.8 573.5 L185.6 574.6 L185.7 575.3 L185.7 575.7 L186.0 575.3 L185.2 576.4 L185.7 576.3 L185.9 576.2 L185.8 577.3 L185.5 577.8 L185.9 577.4 L185.9 578.7 L186.4 580.0 L186.6 578.3 L186.3 580.1 L185.9 580.6 L186.4 580.5 L186.3 581.1 L186.8 581.1 L187.1 582.5 L186.8 581.6 L187.3 582.5 L187.3 581.8 L187.2 583.5 L186.9 584.0 L187.2 583.2 L186.9 584.1 L187.6 585.3 L187.4 585.1 L187.8 585.1 L187.6 584.7 L187.0 586.8 L187.7 588.1 L187.9 587.1 L188.1 588.0 L187.5 588.4 L187.6 588.5 L187.9 589.0 L187.6 589.4 L187.6 589.2 L187.7 591.7 L188.7 592.2 L187.9 591.2 L187.9 592.4 L188.1 591.3 L188.2 592.0 L188.6 593.2 L188.6 592.3 L188.6 592.6 L188.5 594.0 L188.5 593.0 L188.4 595.7 L188.2 595.5 L189.2 595.6 L188.6 596.3 L189.0 595.7 L188.8 596.1 L188.9 597.6 L188.9 598.1 L188.7 598.0 L189.1 598.3 L189.2 598.4 L189.4 600.0 L189.4 598.7 L189.6 599.5 L189.5 600.1 L189.5 599.9 L189.1 600.5 L189.6 601.0 L190.2 602.7 L190.0 603.6 L190.2 603.1 L190.1 602.4 L190.1 603.4 L190.8 604.1 L190.5 604.4 L190.9 604.8 L190.8 605.7 L190.6 604.6 L190.3 605.9 L190.9 606.7 L190.6 607.4 L190.6 607.6 L191.5 607.8 L191.5 608.1 L191.6 608.2 L191.5 609.1 L191.6 609.3 L191.8 609.4 L191.9 610.9 L191.9 611.3 L192.2 610.8 L191.5 611.8 L192.4 612.5 L192.2 612.4 L192.6 612.7 L192.8 613.3 L192.4 612.4 L192.9 613.0 L193.0 614.5 L192.7 614.8 L192.9 615.8 L193.1 615.1 L192.7 616.5 L193.2 616.8 L193.5 617.8 L193.4 616.5 L193.3 617.1 L193.7 617.9 L194.3 618.3 L194.3 617.9 L194.1 618.6 L194.0 618.5 L194.3 621.1 L194.4 620.0 L194.4 620.5 L194.6 620.5 L194.9 621.3 L195.1 622.1 L194.4 621.8 L195.4 622.4 L195.3 624.1 L195.7 623.8 L195.6 623.8 L195.8 623.8 L196.3 624.4 L195.3 624.4 L196.5 625.4 L196.3 625.2 L196.0 625.6 L195.9 626.2 L196.8 626.2 L196.6 627.3 L197.0 627.6Z" fill="#6e6e6e" stroke="#3a3a3a" stroke-width="0.8"/>
<path d="M168.5 627.6 L168.2 627.6 L169.3 627.4 L169.2 627.6 L170.2 626.1 L169.9 625.3 L170.3 626.0 L170.0 623.9 L169.9 626.3 L170.7 625.7 L171.2 622.6 L170.9 623.8 L170.9 624.0 L171.5 624.3 L171.8 623.1 L172.1 622.7 L172.5 623.3 L173.6 623.4 L173.0 622.4 L173.1 623.7 L173.1 624.5 L174.0 622.8 L173.4 621.8 L174.7 621.4 L174.4 622.8 L174.0 621.3 L174.8 621.3 L174.9 620.6 L175.5 619.6 L174.8 621.2 L175.5 619.3 L175.7 619.3 L176.2 616.9 L175.6 618.7 L176.0 618.9 L177.1 617.8 L176.8 616.9 L176.3 616.7 L177.1 615.4 L176.8 617.1 L177.0 615.5 L177.0 616.4 L177.9 616.1 L177.5 617.1 L177.9 615.2 L178.0 614.9 L177.6 614.8 L178.0 613.4 L178.7 613.4 L178.0 613.6 L178.8 614.1 L178.8 613.3 L179.2 612.1 L179.4 613.1 L179.5 611.3 L179.4 610.0 L179.6 612.4 L179.4 610.7 L179.6 610.0 L180.3 608.9 L179.8 609.3 L180.5 610.9 L180.5 609.0 L180.0 610.7 L180.5 608.4 L180.1 609.0 L180.6 607.7 L180.3 606.9 L180.7 606.6 L180.7 606.4 L180.4 605.2 L181.5 604.8 L181.2 605.9 L180.4 606.4 L181.1 605.0 L180.9 604.6 L181.9 603.4 L181.2 604.9 L181.4 604.5 L181.3 602.1 L181.7 602.9 L181.3 602.2 L181.3 600.8 L181.5 603.3 L181.6 602.5 L182.0 601.4 L181.9 602.1 L181.8 600.0 L181.8 600.3 L181.7 601.0 L182.2 601.0 L181.5 599.3 L182.2 597.8 L182.7 598.9 L182.3 599.1 L182.2 596.8 L182.6 596.6 L182.3 596.9 L182.4 597.9 L183.0 595.8 L182.6 595.2 L183.6 592.5 L183.1 596.3 L183.0 593.5 L182.9 594.4 L183.1 595.4 L182.4 593.8 L183.4 591.7 L183.7 593.9 L183.6 591.3 L183.4 594.3 L183.8 592.5 L183.9 591.4 L183.7 591.5 L183.9 591.0 L184.2 590.5 L184.1 589.3 L183.9 589.8 L184.0 588.1 L184.1 590.5 L183.6 587.9 L184.2 587.9 L184.2 587.5 L183.5 588.5 L183.7 587.3 L185.0 588.4 L184.4 586.4 L184.9 586.6 L184.4 586.0 L185.1 585.4 L184.8 586.4 L184.4 586.1 L184.8 585.8 L185.3 583.0 L185.6 584.2 L185.0 582.6 L184.7 582.2 L184.6 581.2 L185.2 581.6 L185.4 582.7 L185.1 583.0 L185.1 583.0 L185.4 580.3 L185.4 580.2 L185.4 580.6 L184.8 580.1 L185.2 579.8 L186.1 577.7 L185.5 578.8 L186.4 579.1 L185.7 578.5 L185.6 577.8 L185.8 574.0 L186.0 577.1 L185.6 578.3 L186.0 577.0 L185.8 577.1 L186.5 577.3 L185.9 574.5 L186.2 575.7 L185.7 575.2 L185.8 575.6 L186.3 573.8 L186.1 573.5 L186.3 572.7 L186.6 573.1 L186.8 572.4 L186.2 572.1 L186.6 572.2 L187.0 571.2 L186.6 570.4 L186.5 570.5 L186.8 570.0 L187.6 570.5 L187.1 570.9 L187.8 569.1 L187.2 566.8 L187.8 569.2 L186.9 568.3 L187.4 567.1 L187.6 567.4 L188.3 568.9 L187.9 565.6 L188.2 565.5 L187.8 566.1 L187.9 563.0 L188.6 565.1 L188.7 566.0 L188.7 565.3 L188.8 564.8 L188.3 563.8 L189.3 563.6 L188.7 565.8 L189.2 563.2 L189.1 563.9 L188.3 561.2 L188.3 562.2 L188.5 561.9 L189.1 561.4 L189.6 559.0 L189.2 560.2 L189.7 561.5 L189.0 560.3 L189.3 558.8 L189.3 559.9 L189.7 557.1 L189.4 559.0 L189.8 558.4 L190.1 557.2 L189.8 556.5 L189.8 555.5 L190.0 556.5 L189.8 557.9 L189.9 556.7 L190.7 556.0 L190.6 556.1 L190.1 554.4 L190.6 555.1 L190.9 551.6 L191.1 553.4 L191.2 553.1 L191.4 553.1 L191.1 552.7 L191.2 553.0 L191.2 551.6 L191.8 552.6 L191.8 551.2 L192.5 552.2 L192.7 551.6 L192.4 552.2 L192.6 551.9 L193.0 551.0 L193.2 552.0 L193.8 551.0 L193.1 552.5 L193.0 553.2 L193.6 553.0 L194.0 553.4 L194.1 554.8 L194.4 555.4 L193.9 555.9 L193.7 554.5 L193.8 555.0 L193.5 556.4 L193.8 556.8 L194.5 554.8 L194.9 558.5 L194.6 558.1 L194.3 556.3 L194.2 558.9 L194.4 557.8 L193.7 558.4 L194.6 558.0 L194.7 558.5 L194.4 559.3 L194.5 560.0 L193.9 559.3 L194.8 560.6 L194.9 560.4 L193.6 560.9 L194.4 560.9 L194.8 561.5 L195.3 563.9 L194.4 561.4 L194.8 562.0 L195.3 563.5 L195.0 563.4 L194.8 563.3 L194.8 565.0 L195.0 560.3 L194.7 565.3 L195.4 566.5 L194.7 566.5 L195.3 566.1 L195.4 566.7 L195.6 567.3 L195.2 568.0 L195.2 562.2 L195.4 569.3 L195.3 569.2 L195.7 570.6 L195.3 570.0 L196.1 570.5 L196.4 567.3 L195.2 569.9 L195.6 572.3 L195.1 571.4 L195.7 571.0 L195.6 572.4 L195.4 572.2 L195.2 572.8 L195.5 572.2 L196.3 573.6 L196.1 574.9 L195.7 574.1 L195.4 574.6 L195.6 574.0 L195.3 575.4 L195.2 572.7 L195.3 574.4 L195.9 575.6 L195.8 576.2 L195.7 577.2 L195.3 578.0 L195.2 577.3 L196.1 577.5 L195.6 578.7 L196.2 577.7 L195.5 578.6 L196.1 579.0 L195.9 579.4 L195.7 579.4 L195.7 581.8 L196.5 581.5 L196.2 580.9 L195.8 580.1 L195.9 581.3 L195.4 582.6 L196.5 580.7 L196.4 585.0 L195.8 583.1 L196.1 583.5 L195.0 584.5 L196.3 582.9 L196.2 584.7 L196.1 584.9 L196.3 585.9 L196.2 584.7 L195.8 586.6 L195.9 587.4 L196.2 587.0 L196.6 586.6 L196.3 590.7 L196.1 586.1 L196.5 587.6 L196.0 588.9 L197.2 590.1 L196.7 590.1 L196.3 590.6 L196.7 589.4 L197.1 589.8 L196.9 589.2 L197.5 590.3 L196.3 590.2 L197.4 591.4 L196.9 592.5 L197.3 592.2 L197.6 592.3 L196.6 593.6 L196.6 594.7 L197.0 594.7 L196.6 587.5 L196.5 596.0 L197.3 596.7 L197.8 593.8 L197.2 595.1 L197.6 596.7 L198.8 593.7 L197.7 597.7 L197.5 594.2 L197.6 597.7 L197.8 596.3 L197.6 597.4 L198.0 597.2 L197.9 599.6 L198.2 598.2 L198.0 599.6 L197.9 599.0 L197.7 598.5 L197.6 601.1 L198.1 601.7 L198.1 602.4 L198.4 600.8 L198.4 601.7 L198.3 602.6 L199.4 602.7 L198.8 602.9 L199.2 605.2 L198.4 603.0 L199.2 604.5 L199.4 603.6 L199.2 605.7 L198.8 604.5 L199.6 604.2 L199.0 606.1 L198.8 605.8 L198.9 605.8 L199.5 603.4 L199.4 606.3 L200.0 607.6 L200.0 607.8 L200.3 609.4 L200.0 607.6 L200.0 609.8 L200.1 609.4 L199.9 607.9 L200.0 610.9 L200.1 608.3 L200.5 610.7 L200.2 608.9 L200.5 611.2 L201.0 610.9 L199.9 611.4 L200.5 610.2 L200.6 611.6 L201.1 613.7 L200.8 613.5 L201.2 613.2 L202.4 613.5 L201.3 613.3 L201.9 615.6 L202.1 614.5 L202.1 615.9 L202.0 613.9 L202.9 614.1 L202.0 617.1 L202.5 615.4 L202.9 616.3 L203.0 617.3 L203.8 618.0 L203.4 618.1 L204.3 620.5 L203.8 619.6 L204.5 618.7 L204.3 619.6 L204.2 619.1 L204.4 619.6 L205.0 621.4 L204.6 619.8 L204.9 618.1 L204.7 620.8 L204.4 621.2 L205.4 623.0 L205.6 621.4 L205.0 621.0 L205.8 624.0 L205.6 624.4 L205.2 622.7 L205.6 624.5 L206.3 624.1 L206.5 624.6 L206.4 623.6 L207.4 626.5 L206.7 624.2 L206.4 625.3 L206.2 625.0 L207.4 627.0 L206.8 625.7 L207.0 626.4 L207.0 624.9 L207.1 626.4 L207.5 627.6" fill="none" stroke="#8a8a8a" stroke-width="0.8"/>
<path d="M168.5 627.6 L168.6 627.6 L169.1 626.3 L169.5 627.6 L169.5 626.8 L169.5 626.7 L170.5 624.8 L170.2 624.7 L170.2 624.9 L170.9 625.7 L171.4 625.6 L171.4 624.2 L171.1 624.7 L171.8 624.3 L172.1 623.3 L172.4 622.9 L172.1 622.1 L172.4 622.4 L173.1 622.4 L173.2 623.6 L173.6 623.1 L174.1 622.1 L173.6 622.2 L173.8 621.0 L174.2 619.6 L175.0 621.2 L174.7 621.1 L175.2 619.8 L174.4 620.9 L175.4 620.5 L175.8 620.0 L176.1 617.7 L175.7 618.8 L176.7 618.9 L176.0 617.5 L176.9 617.5 L177.1 618.2 L176.8 618.7 L176.6 617.5 L177.8 616.8 L177.4 615.9 L177.1 615.2 L177.7 615.0 L177.4 615.6 L177.9 614.6 L177.7 615.6 L177.5 613.3 L178.5 613.1 L178.2 613.6 L178.5 613.5 L178.7 613.1 L178.8 611.9 L178.8 611.8 L179.2 612.7 L179.5 611.4 L179.5 611.0 L179.5 611.5 L179.7 611.0 L180.3 610.3 L180.4 611.2 L180.0 608.7 L180.3 609.6 L180.4 608.5 L180.5 609.3 L180.4 607.6 L180.6 608.4 L180.4 607.3 L180.8 609.1 L180.8 607.1 L180.9 608.2 L181.0 605.7 L181.0 605.4 L180.7 605.8 L180.6 603.9 L181.1 604.2 L181.0 605.6 L181.4 604.9 L181.1 603.6 L181.2 604.3 L181.0 603.4 L181.4 603.1 L181.4 601.7 L181.9 602.8 L181.7 601.3 L182.2 602.5 L181.6 600.3 L181.4 602.5 L182.3 599.9 L182.2 599.0 L182.6 598.9 L182.0 599.6 L181.7 599.2 L182.8 598.1 L182.5 598.8 L182.3 599.3 L183.2 597.7 L182.6 597.8 L182.4 597.6 L182.9 597.2 L182.7 594.8 L182.6 597.0 L183.1 595.5 L183.0 595.3 L183.0 600.1 L183.1 592.6 L182.8 594.8 L183.5 594.1 L183.9 594.7 L183.5 593.4 L183.9 593.8 L184.2 593.3 L183.6 591.3 L183.5 591.7 L183.5 590.9 L183.7 591.0 L184.1 590.1 L183.9 589.3 L184.4 590.0 L183.9 589.5 L184.6 589.7 L184.1 590.2 L184.2 588.3 L184.3 588.1 L184.3 588.8 L184.3 588.2 L184.6 586.0 L184.4 586.8 L184.6 585.4 L184.3 585.5 L184.4 585.4 L184.2 585.2 L184.9 584.8 L184.5 584.8 L184.9 584.5 L184.9 585.0 L184.9 584.1 L184.9 582.4 L185.1 583.8 L185.2 582.7 L185.5 581.3 L185.0 581.1 L185.0 581.4 L184.8 581.1 L185.9 580.9 L185.1 579.2 L185.6 579.7 L185.6 581.1 L185.1 580.9 L185.3 577.9 L185.8 578.6 L185.6 578.4 L185.3 577.4 L185.8 577.6 L186.3 577.1 L186.0 576.2 L186.1 576.4 L186.4 575.9 L186.7 576.0 L186.1 575.9 L186.0 574.4 L186.2 574.6 L186.2 573.6 L185.9 573.7 L186.4 573.7 L186.2 573.8 L186.9 572.4 L186.6 573.0 L185.9 572.2 L186.4 571.7 L186.9 571.4 L186.7 570.7 L186.7 571.1 L186.8 569.6 L186.8 570.4 L187.3 569.3 L187.1 570.4 L187.0 568.7 L187.6 568.9 L187.1 568.8 L187.6 568.5 L187.3 568.7 L187.5 568.4 L187.6 566.8 L187.5 566.2 L187.8 567.2 L188.5 566.2 L187.8 565.4 L188.8 565.2 L188.5 565.4 L188.8 569.5 L188.3 562.6 L188.9 563.2 L188.7 563.0 L189.3 562.3 L188.7 566.9 L189.3 563.2 L188.8 561.9 L189.5 562.7 L189.0 561.1 L188.9 562.0 L188.9 561.2 L189.2 560.5 L189.9 560.3 L189.1 559.3 L189.4 560.1 L189.6 558.7 L189.8 559.0 L189.9 557.7 L190.4 557.3 L189.9 557.6 L189.6 557.3 L190.4 557.7 L190.1 556.3 L190.2 556.4 L190.4 556.1 L190.9 556.9 L190.9 555.2 L190.7 553.9 L190.6 553.3 L191.0 553.7 L190.7 553.7 L190.5 552.5 L190.9 552.1 L191.5 551.9 L191.1 552.2 L191.2 552.3 L191.9 551.0 L192.3 551.0 L192.7 552.4 L192.5 552.7 L193.2 551.9 L193.9 551.1 L193.8 551.4 L193.5 552.7 L193.6 551.3 L193.4 551.7 L193.5 553.9 L193.9 552.5 L193.9 553.4 L193.6 555.7 L194.1 554.3 L194.0 555.9 L194.3 555.1 L193.8 554.9 L194.1 556.4 L193.4 556.3 L194.4 557.3 L194.3 551.5 L194.5 557.8 L194.3 558.0 L194.3 558.8 L194.3 558.7 L194.7 558.2 L194.1 560.2 L194.4 560.3 L194.7 560.6 L194.4 560.8 L194.3 561.0 L194.5 560.6 L194.7 560.1 L195.1 560.6 L194.5 562.0 L194.1 567.0 L195.1 562.4 L194.8 563.8 L195.0 562.9 L194.8 565.2 L194.9 563.0 L194.3 565.1 L195.1 563.6 L194.7 565.5 L195.2 566.8 L194.5 565.8 L195.4 565.5 L195.1 565.9 L194.4 567.5 L195.2 568.1 L195.2 568.1 L195.3 567.8 L194.9 567.7 L196.0 568.3 L195.2 568.5 L195.7 568.4 L194.6 570.7 L195.6 571.2 L195.6 571.6 L195.4 572.2 L195.8 570.9 L195.3 570.4 L195.6 572.2 L195.5 572.2 L195.6 572.0 L195.2 573.4 L195.7 573.2 L195.7 574.3 L195.6 574.5 L195.7 573.9 L195.5 574.9 L195.4 574.9 L195.6 575.9 L195.7 575.9 L195.3 575.6 L195.6 577.0 L196.1 576.9 L195.9 577.3 L195.4 577.8 L196.1 579.7 L195.2 578.7 L195.7 578.7 L196.1 578.7 L196.0 578.3 L195.9 579.9 L195.5 580.3 L195.3 580.2 L196.0 581.5 L195.9 581.6 L196.4 582.2 L195.7 581.9 L195.6 583.5 L195.7 583.2 L195.4 582.7 L195.8 583.5 L195.9 584.6 L195.9 583.8 L196.5 585.5 L196.5 584.6 L195.9 584.0 L195.9 586.1 L196.5 585.6 L196.5 586.3 L195.9 586.6 L196.0 587.8 L196.1 587.4 L196.0 588.3 L196.2 587.4 L196.1 588.5 L196.7 588.3 L196.7 589.1 L196.1 591.0 L196.4 590.2 L196.5 590.4 L197.1 590.2 L196.6 591.1 L197.1 590.6 L197.4 591.1 L196.7 590.7 L197.1 593.1 L197.0 592.6 L197.3 593.1 L196.7 592.3 L197.0 594.7 L196.7 594.8 L197.5 594.1 L196.7 594.9 L197.4 594.8 L196.9 596.0 L197.2 594.2 L197.2 596.2 L197.6 596.6 L197.7 597.4 L198.0 596.4 L198.1 596.9 L197.7 597.1 L197.4 598.8 L198.2 598.8 L197.5 599.6 L197.9 599.8 L197.7 600.1 L197.8 599.1 L198.1 600.1 L197.8 601.6 L198.2 601.2 L198.3 600.6 L198.7 601.1 L198.8 601.7 L198.8 602.2 L198.7 602.8 L199.2 603.1 L199.1 603.7 L198.5 604.5 L199.1 604.6 L199.2 603.7 L198.9 606.2 L199.3 605.0 L199.2 605.0 L199.1 606.6 L199.5 607.2 L199.3 606.9 L199.2 607.8 L199.7 607.1 L199.2 607.5 L200.2 607.1 L199.8 609.0 L200.0 608.7 L200.4 610.1 L200.5 609.1 L200.2 610.4 L200.4 610.1 L200.7 611.5 L200.9 610.7 L200.3 612.0 L200.7 610.7 L200.4 611.4 L200.5 611.7 L200.9 613.1 L201.1 611.2 L201.0 612.2 L201.2 613.5 L201.6 613.6 L201.3 614.0 L202.0 614.6 L201.7 614.5 L202.7 615.4 L202.4 616.2 L202.8 614.9 L202.6 616.8 L203.2 615.7 L203.2 615.6 L203.4 616.8 L203.4 617.1 L203.7 617.6 L203.6 617.0 L204.0 618.0 L203.9 618.0 L204.1 619.5 L204.4 619.1 L204.5 618.9 L204.6 618.9 L204.6 620.0 L204.8 621.7 L205.3 619.4 L205.2 620.5 L205.4 622.2 L205.2 622.3 L205.9 621.8 L205.6 618.4 L205.9 622.3 L205.8 621.0 L206.3 623.1 L205.6 624.0 L205.6 624.2 L206.2 623.2 L205.7 624.5 L206.3 624.5 L206.4 626.1 L206.7 624.6 L207.1 625.1 L206.6 625.3 L207.3 626.8 L207.6 627.6 L207.9 627.1 L207.5 627.6" fill="none" stroke="#1a1a1a" stroke-width="1.25"/>
<line x1="186.64" y1="568.68" x2="186.09" y2="577.33" stroke="#8a8a8a" stroke-width="0.7"/>
<line x1="178.4" y1="612.68" x2="177.97" y2="616.34" stroke="#2a2a2a" stroke-width="0.7"/>
<line x1="205.29" y1="617.67" x2="205.14" y2="623.71" stroke="#2a2a2a" stroke-width="0.7"/>
<line x1="190.33" y1="552.9" x2="190.14" y2="556" stroke="#2a2a2a" stroke-width="0.7"/>
<line x1="182.74" y1="594.21" x2="183.19" y2="599.74" stroke="#8a8a8a" stroke-width="0.7"/>
<line x1="186.75" y1="570.05" x2="186.82" y2="577.34" stroke="#8a8a8a" stroke-width="0.7"/>
<line x1="185.92" y1="574.25" x2="185.42" y2="575.91" stroke="#2a2a2a" stroke-width="0.7"/>
<line x1="195.96" y1="576.15" x2="196.25" y2="582.81" stroke="#2a2a2a" stroke-width="0.7"/>
<line x1="183.19" y1="591.87" x2="182.99" y2="598.32" stroke="#2a2a2a" stroke-width="0.7"/>
<line x1="202.31" y1="612.76" x2="201.83" y2="616.89" stroke="#2a2a2a" stroke-width="0.7"/>
<line x1="178.56" y1="611.27" x2="178.79" y2="617.99" stroke="#8a8a8a" stroke-width="0.7"/>
<line x1="191.27" y1="551.06" x2="190.86" y2="557.69" stroke="#2a2a2a" stroke-width="0.7"/>
<line x1="187.7" y1="563.24" x2="188.29" y2="570.71" stroke="#8a8a8a" stroke-width="0.7"/>
<line x1="177.81" y1="613.06" x2="178.03" y2="617.57" stroke="#2a2a2a" stroke-width="0.7"/>
<line x1="178.12" y1="613.15" x2="178.04" y2="615.23" stroke="#2a2a2a" stroke-width="0.7"/>
<line x1="204.35" y1="615.95" x2="204.31" y2="621.48" stroke="#8a8a8a" stroke-width="0.7"/>
<line x1="204.71" y1="616.53" x2="205.21" y2="622.07" stroke="#2a2a2a" stroke-width="0.7"/>
<line x1="182.51" y1="595.89" x2="183.12" y2="598.02" stroke="#2a2a2a" stroke-width="0.7"/>
<line x1="176.34" y1="614.74" x2="175.53" y2="620.89" stroke="#2a2a2a" stroke-width="0.7"/>
<line x1="203.13" y1="614.12" x2="203.24" y2="617.24" stroke="#2a2a2a" stroke-width="0.7"/>
<line x1="201.65" y1="612.76" x2="201.75" y2="614.86" stroke="#2a2a2a" stroke-width="0.7"/>
<line x1="196.88" y1="587.43" x2="196.9" y2="596.26" stroke="#8a8a8a" stroke-width="0.7"/>
<line x1="205.75" y1="620.66" x2="205.88" y2="626.05" stroke="#2a2a2a" stroke-width="0.7"/>
<line x1="176.05" y1="617.86" x2="175.94" y2="624.37" stroke="#8a8a8a" stroke-width="0.7"/>
<line x1="191.76" y1="551" x2="191.32" y2="554.61" stroke="#8a8a8a" stroke-width="0.7"/>
<line x1="198.78" y1="601.53" x2="198.58" y2="606.38" stroke="#8a8a8a" stroke-width="0.7"/>
<line x1="194.02" y1="552.84" x2="193.63" y2="558.8" stroke="#8a8a8a" stroke-width="0.7"/>
<line x1="176.57" y1="614.37" x2="177.07" y2="618.73" stroke="#8a8a8a" stroke-width="0.7"/>
<line x1="200.85" y1="608.32" x2="200.89" y2="612.44" stroke="#2a2a2a" stroke-width="0.7"/>
<line x1="177.12" y1="613.37" x2="177.72" y2="622.61" stroke="#2a2a2a" stroke-width="0.7"/>
<line x1="178.01" y1="551.56" x2="178.61" y2="559.32" stroke="#888" stroke-width="0.8"/>
<line x1="181.31" y1="551.27" x2="181.42" y2="555.69" stroke="#555" stroke-width="0.8"/>
<line x1="179.95" y1="552.23" x2="180.09" y2="564.07" stroke="#222" stroke-width="0.8"/>
<line x1="183.54" y1="552.85" x2="183.05" y2="565.57" stroke="#555" stroke-width="0.8"/>
<line x1="182.05" y1="551.23" x2="182.33" y2="555.8" stroke="#222" stroke-width="0.8"/>
<line x1="179.99" y1="551.18" x2="180.35" y2="563.8" stroke="#222" stroke-width="0.8"/>
<line x1="179.38" y1="551.03" x2="179.81" y2="562.9" stroke="#222" stroke-width="0.8"/>
<line x1="182.93" y1="551.4" x2="183.27" y2="561.56" stroke="#888" stroke-width="0.8"/>
<line x1="182.95" y1="551.62" x2="183.42" y2="558.62" stroke="#888" stroke-width="0.8"/>
<line x1="183.44" y1="551.5" x2="183.34" y2="558.94" stroke="#888" stroke-width="0.8"/>
<rect x="190.3" y="551" width="3.7" height="76.6" fill="#000"/>
<line x1="62.8" y1="667.4" x2="62.8" y2="744.5" stroke="#222" stroke-width="1"/>
<line x1="62.8" y1="744.5" x2="154.3" y2="744.5" stroke="#111" stroke-width="1.4"/>
<line x1="60.2" y1="744.5" x2="62.8" y2="744.5" stroke="#333" stroke-width="0.8"/>
<line x1="61" y1="741.93" x2="62.8" y2="741.93" stroke="#333" stroke-width="0.8"/>
<line x1="61" y1="739.36" x2="62.8" y2="739.36" stroke="#333" stroke-width="0.8"/>
<line x1="61" y1="736.79" x2="62.8" y2="736.79" stroke="#333" stroke-width="0.8"/>
<line x1="61" y1="734.22" x2="62.8" y2="734.22" stroke="#333" stroke-width="0.8"/>
<line x1="60.2" y1="731.65" x2="62.8" y2="731.65" stroke="#333" stroke-width="0.8"/>
<line x1="61" y1="729.08" x2="62.8" y2="729.08" stroke="#333" stroke-width="0.8"/>
<line x1="61" y1="726.51" x2="62.8" y2="726.51" stroke="#333" stroke-width="0.8"/>
<line x1="61" y1="723.94" x2="62.8" y2="723.94" stroke="#333" stroke-width="0.8"/>
<line x1="61" y1="721.37" x2="62.8" y2="721.37" stroke="#333" stroke-width="0.8"/>
<line x1="60.2" y1="718.8" x2="62.8" y2="718.8" stroke="#333" stroke-width="0.8"/>
<line x1="61" y1="716.23" x2="62.8" y2="716.23" stroke="#333" stroke-width="0.8"/>
<line x1="61" y1="713.66" x2="62.8" y2="713.66" stroke="#333" stroke-width="0.8"/>
<line x1="61" y1="711.09" x2="62.8" y2="711.09" stroke="#333" stroke-width="0.8"/>
<line x1="61" y1="708.52" x2="62.8" y2="708.52" stroke="#333" stroke-width="0.8"/>
<line x1="60.2" y1="705.95" x2="62.8" y2="705.95" stroke="#333" stroke-width="0.8"/>
<line x1="61" y1="703.38" x2="62.8" y2="703.38" stroke="#333" stroke-width="0.8"/>
<line x1="61" y1="700.81" x2="62.8" y2="700.81" stroke="#333" stroke-width="0.8"/>
<line x1="61" y1="698.24" x2="62.8" y2="698.24" stroke="#333" stroke-width="0.8"/>
<line x1="61" y1="695.67" x2="62.8" y2="695.67" stroke="#333" stroke-width="0.8"/>
<line x1="60.2" y1="693.1" x2="62.8" y2="693.1" stroke="#333" stroke-width="0.8"/>
<line x1="61" y1="690.53" x2="62.8" y2="690.53" stroke="#333" stroke-width="0.8"/>
<line x1="61" y1="687.96" x2="62.8" y2="687.96" stroke="#333" stroke-width="0.8"/>
<line x1="61" y1="685.39" x2="62.8" y2="685.39" stroke="#333" stroke-width="0.8"/>
<line x1="61" y1="682.82" x2="62.8" y2="682.82" stroke="#333" stroke-width="0.8"/>
<line x1="60.2" y1="680.25" x2="62.8" y2="680.25" stroke="#333" stroke-width="0.8"/>
<line x1="61" y1="677.68" x2="62.8" y2="677.68" stroke="#333" stroke-width="0.8"/>
<line x1="61" y1="675.11" x2="62.8" y2="675.11" stroke="#333" stroke-width="0.8"/>
<line x1="61" y1="672.54" x2="62.8" y2="672.54" stroke="#333" stroke-width="0.8"/>
<line x1="61" y1="669.97" x2="62.8" y2="669.97" stroke="#333" stroke-width="0.8"/>
<line x1="60.2" y1="667.4" x2="62.8" y2="667.4" stroke="#333" stroke-width="0.8"/>
<line x1="62.8" y1="744.5" x2="62.8" y2="747.9" stroke="#333" stroke-width="0.9"/>
<line x1="69.69" y1="744.5" x2="69.69" y2="746.9" stroke="#333" stroke-width="0.9"/>
<line x1="73.71" y1="744.5" x2="73.71" y2="746.9" stroke="#333" stroke-width="0.9"/>
<line x1="76.57" y1="744.5" x2="76.57" y2="746.9" stroke="#333" stroke-width="0.9"/>
<line x1="78.79" y1="744.5" x2="78.79" y2="746.9" stroke="#333" stroke-width="0.9"/>
<line x1="80.6" y1="744.5" x2="80.6" y2="746.9" stroke="#333" stroke-width="0.9"/>
<line x1="82.13" y1="744.5" x2="82.13" y2="746.9" stroke="#333" stroke-width="0.9"/>
<line x1="83.46" y1="744.5" x2="83.46" y2="746.9" stroke="#333" stroke-width="0.9"/>
<line x1="84.63" y1="744.5" x2="84.63" y2="746.9" stroke="#333" stroke-width="0.9"/>
<line x1="85.67" y1="744.5" x2="85.67" y2="747.9" stroke="#333" stroke-width="0.9"/>
<line x1="92.56" y1="744.5" x2="92.56" y2="746.9" stroke="#333" stroke-width="0.9"/>
<line x1="96.59" y1="744.5" x2="96.59" y2="746.9" stroke="#333" stroke-width="0.9"/>
<line x1="99.45" y1="744.5" x2="99.45" y2="746.9" stroke="#333" stroke-width="0.9"/>
<line x1="101.66" y1="744.5" x2="101.66" y2="746.9" stroke="#333" stroke-width="0.9"/>
<line x1="103.48" y1="744.5" x2="103.48" y2="746.9" stroke="#333" stroke-width="0.9"/>
<line x1="105.01" y1="744.5" x2="105.01" y2="746.9" stroke="#333" stroke-width="0.9"/>
<line x1="106.33" y1="744.5" x2="106.33" y2="746.9" stroke="#333" stroke-width="0.9"/>
<line x1="107.5" y1="744.5" x2="107.5" y2="746.9" stroke="#333" stroke-width="0.9"/>
<line x1="108.55" y1="744.5" x2="108.55" y2="747.9" stroke="#333" stroke-width="0.9"/>
<line x1="115.44" y1="744.5" x2="115.44" y2="746.9" stroke="#333" stroke-width="0.9"/>
<line x1="119.46" y1="744.5" x2="119.46" y2="746.9" stroke="#333" stroke-width="0.9"/>
<line x1="122.32" y1="744.5" x2="122.32" y2="746.9" stroke="#333" stroke-width="0.9"/>
<line x1="124.54" y1="744.5" x2="124.54" y2="746.9" stroke="#333" stroke-width="0.9"/>
<line x1="126.35" y1="744.5" x2="126.35" y2="746.9" stroke="#333" stroke-width="0.9"/>
<line x1="127.88" y1="744.5" x2="127.88" y2="746.9" stroke="#333" stroke-width="0.9"/>
<line x1="129.21" y1="744.5" x2="129.21" y2="746.9" stroke="#333" stroke-width="0.9"/>
<line x1="130.38" y1="744.5" x2="130.38" y2="746.9" stroke="#333" stroke-width="0.9"/>
<line x1="131.43" y1="744.5" x2="131.43" y2="747.9" stroke="#333" stroke-width="0.9"/>
<line x1="138.31" y1="744.5" x2="138.31" y2="746.9" stroke="#333" stroke-width="0.9"/>
<line x1="142.34" y1="744.5" x2="142.34" y2="746.9" stroke="#333" stroke-width="0.9"/>
<line x1="145.2" y1="744.5" x2="145.2" y2="746.9" stroke="#333" stroke-width="0.9"/>
<line x1="147.41" y1="744.5" x2="147.41" y2="746.9" stroke="#333" stroke-width="0.9"/>
<line x1="149.23" y1="744.5" x2="149.23" y2="746.9" stroke="#333" stroke-width="0.9"/>
<line x1="150.76" y1="744.5" x2="150.76" y2="746.9" stroke="#333" stroke-width="0.9"/>
<line x1="152.08" y1="744.5" x2="152.08" y2="746.9" stroke="#333" stroke-width="0.9"/>
<line x1="153.25" y1="744.5" x2="153.25" y2="746.9" stroke="#333" stroke-width="0.9"/>
<line x1="154.3" y1="744.5" x2="154.3" y2="747.9" stroke="#333" stroke-width="0.9"/>
<path d="M66.5 744.5 L65.9 743.4 L67.1 744.5 L67.1 743.6 L67.5 742.3 L67.5 742.2 L68.0 743.2 L67.8 741.5 L67.8 741.8 L68.2 741.4 L68.3 741.3 L68.2 740.6 L68.3 739.7 L68.7 739.0 L68.7 737.9 L68.5 738.6 L68.7 738.3 L68.4 737.6 L69.4 737.3 L69.0 736.3 L69.5 737.9 L69.3 735.9 L69.8 735.2 L69.8 735.0 L69.6 734.9 L69.9 735.0 L69.4 732.7 L70.0 734.1 L69.3 733.0 L69.8 732.9 L70.1 733.2 L69.9 732.7 L69.8 731.4 L69.8 731.3 L69.9 732.1 L70.3 731.4 L70.3 730.7 L70.1 729.8 L69.9 730.0 L70.4 729.2 L70.0 728.3 L70.3 727.6 L70.3 728.1 L70.7 727.6 L70.6 727.7 L70.7 726.3 L70.7 727.0 L70.5 725.6 L70.9 726.2 L71.2 725.3 L70.8 724.3 L71.0 723.6 L70.9 723.7 L71.2 723.2 L71.2 723.5 L71.2 722.1 L71.1 721.3 L71.5 721.7 L71.0 722.5 L71.1 721.9 L71.1 720.2 L71.4 720.0 L71.1 719.9 L71.2 718.9 L71.5 718.8 L71.7 718.3 L71.6 717.5 L70.8 717.3 L71.3 717.0 L71.3 717.0 L71.3 715.8 L71.5 716.1 L72.1 715.1 L71.6 714.8 L71.6 714.2 L71.9 716.8 L71.8 714.8 L71.9 714.4 L71.7 713.7 L71.9 712.7 L72.1 712.4 L71.5 712.2 L71.6 711.9 L72.3 711.6 L72.3 711.7 L72.0 708.6 L71.9 709.7 L72.1 710.0 L71.9 709.0 L72.1 708.7 L72.7 709.3 L72.3 708.1 L72.6 708.7 L72.3 707.2 L72.4 706.9 L72.7 705.8 L72.1 704.8 L72.3 705.3 L72.4 705.2 L72.6 704.6 L72.9 703.6 L72.7 704.4 L72.2 703.6 L72.5 703.2 L72.4 702.3 L72.4 703.4 L73.2 702.9 L72.4 701.8 L72.8 701.1 L72.6 701.0 L73.0 701.4 L72.9 701.7 L72.9 699.6 L72.8 698.9 L73.1 697.7 L72.6 700.1 L72.7 697.3 L72.6 698.1 L73.3 697.5 L72.9 697.6 L72.7 695.8 L72.9 695.0 L73.6 695.6 L73.0 695.4 L73.3 695.4 L73.2 693.3 L73.1 693.6 L72.9 693.4 L73.0 692.3 L73.1 692.6 L72.6 692.8 L73.8 691.9 L73.4 690.6 L73.2 691.3 L73.2 691.2 L73.1 690.6 L73.5 690.3 L73.2 688.5 L73.4 689.3 L73.0 689.0 L73.4 688.0 L73.9 687.8 L73.3 687.0 L73.6 687.8 L73.4 686.4 L73.7 685.7 L73.7 685.9 L73.5 685.5 L73.4 685.4 L73.6 684.1 L73.5 683.8 L73.4 684.0 L73.7 684.7 L73.7 683.3 L73.4 681.8 L73.6 682.3 L74.4 681.3 L73.9 680.2 L73.7 680.5 L74.3 680.2 L73.6 680.4 L73.1 680.5 L73.3 680.0 L73.4 679.4 L73.8 678.3 L74.0 678.2 L73.3 677.7 L74.1 678.2 L73.5 676.5 L73.9 676.2 L74.0 677.0 L74.0 676.0 L73.9 675.0 L74.0 675.0 L73.6 674.6 L74.0 674.2 L74.2 674.2 L74.2 673.5 L74.7 672.7 L74.3 672.2 L74.2 671.0 L74.5 671.4 L74.1 671.9 L73.8 671.0 L73.5 670.0 L74.4 669.9 L74.3 669.1 L74.4 669.4 L74.1 670.0 L74.3 669.5 L74.7 668.7 L74.7 668.5 L74.7 667.9 L75.3 667.4 L76.1 668.0 L75.9 667.7 L76.0 668.5 L76.4 668.1 L77.1 667.7 L78.0 668.3 L78.2 669.8 L78.1 667.9 L78.0 669.5 L78.3 669.6 L78.3 669.6 L78.3 669.6 L78.4 670.5 L78.3 671.0 L79.0 671.8 L78.0 672.1 L78.7 672.3 L78.5 672.1 L78.9 673.1 L78.8 673.1 L79.0 673.1 L79.0 674.7 L79.0 674.2 L79.2 674.3 L78.7 675.5 L79.4 674.6 L79.1 676.2 L79.3 676.9 L79.7 676.8 L79.6 677.5 L79.9 679.1 L78.9 679.1 L79.3 679.2 L79.8 679.4 L79.4 679.1 L79.7 679.7 L80.2 680.0 L80.1 680.6 L79.7 681.1 L80.1 680.9 L80.2 682.8 L80.1 681.6 L80.1 682.8 L80.2 683.6 L79.9 683.4 L80.4 683.4 L80.1 684.2 L80.5 685.8 L80.6 685.4 L80.4 685.2 L80.9 686.1 L80.9 686.0 L80.9 685.4 L81.2 687.1 L81.1 688.0 L81.2 688.4 L81.4 688.1 L81.5 687.7 L81.9 689.6 L81.1 689.2 L81.8 690.1 L81.4 690.7 L81.9 690.6 L82.2 690.8 L82.3 690.8 L82.6 691.3 L82.6 692.0 L82.0 692.1 L82.5 693.0 L83.3 692.0 L83.5 692.9 L83.3 693.9 L83.0 693.9 L84.1 694.4 L83.2 694.4 L83.9 695.9 L84.0 696.8 L84.2 695.6 L84.0 697.3 L84.4 696.1 L84.9 697.4 L84.7 696.5 L84.6 698.4 L85.1 698.5 L85.3 698.9 L85.3 700.0 L85.3 700.0 L85.8 700.0 L85.8 699.9 L85.7 700.8 L86.2 700.7 L86.3 701.2 L86.5 702.7 L86.2 702.8 L86.5 702.8 L87.0 703.4 L87.2 702.5 L87.1 703.9 L87.1 703.2 L87.4 704.2 L87.5 705.2 L87.8 705.7 L87.5 706.3 L87.3 706.3 L87.7 706.7 L87.1 707.1 L87.7 708.3 L87.7 708.7 L87.8 707.4 L88.0 708.8 L88.0 709.9 L87.7 709.4 L88.0 710.1 L88.0 710.0 L88.3 710.0 L88.4 711.2 L88.2 711.3 L88.7 711.9 L88.9 711.5 L88.5 712.1 L88.8 713.1 L88.4 713.3 L88.6 714.3 L89.1 713.7 L88.5 715.2 L88.8 715.5 L88.8 715.6 L89.3 716.4 L89.4 716.3 L89.0 716.7 L89.3 717.2 L88.6 716.8 L89.6 718.0 L89.5 718.9 L89.8 717.9 L88.9 719.6 L89.7 719.2 L89.5 719.8 L89.0 720.5 L89.6 721.0 L89.8 722.1 L90.0 721.6 L90.0 723.1 L89.8 722.5 L90.1 723.2 L90.0 723.7 L90.0 723.3 L89.9 723.4 L90.3 724.6 L90.3 725.3 L90.8 725.8 L90.3 725.5 L90.9 727.2 L90.7 726.4 L91.0 726.5 L90.5 728.0 L90.6 728.4 L90.9 727.5 L91.2 729.0 L91.1 728.1 L91.4 729.3 L91.3 731.0 L91.6 730.9 L91.4 730.9 L91.3 731.3 L91.7 730.8 L91.7 731.9 L92.2 732.3 L91.8 731.9 L91.9 733.0 L91.9 733.6 L92.3 733.8 L92.3 734.3 L92.3 734.3 L92.0 734.2 L92.0 735.3 L92.5 734.5 L92.7 735.6 L93.0 737.1 L92.3 737.9 L92.8 737.4 L92.5 736.1 L92.8 738.8 L93.1 738.7 L93.5 738.6 L93.3 739.6 L93.3 739.8 L93.6 739.2 L94.1 739.5 L94.5 741.3 L93.6 739.7 L94.0 741.8 L94.1 742.0 L94.6 742.8 L94.5 743.6 L94.9 743.8 L94.4 744.3 L94.8 744.3 L94.8 744.5 L95.0 744.5Z" fill="#6e6e6e" stroke="#3a3a3a" stroke-width="0.8"/>
<path d="M65.0 744.5 L64.9 743.4 L65.4 744.5 L65.1 744.5 L65.7 743.8 L66.9 743.0 L66.5 742.0 L66.5 742.5 L66.6 743.7 L66.4 742.1 L66.9 744.2 L67.0 744.0 L67.3 741.8 L67.4 738.8 L67.5 740.0 L67.0 741.3 L68.2 739.0 L68.0 738.5 L67.9 738.9 L67.9 741.5 L68.3 737.7 L68.7 735.7 L68.5 737.8 L68.0 737.6 L68.1 737.6 L67.8 736.5 L68.8 736.4 L69.1 735.2 L69.3 736.4 L69.1 735.0 L69.3 735.2 L68.8 733.5 L69.3 735.5 L69.1 728.4 L69.0 732.8 L68.7 733.0 L69.7 731.4 L68.6 731.6 L69.6 732.8 L69.2 732.2 L69.7 732.1 L69.4 731.6 L69.9 730.2 L69.6 730.2 L69.3 731.9 L69.6 729.3 L69.2 727.4 L69.9 728.7 L70.2 727.9 L70.1 727.9 L70.0 727.7 L70.5 726.2 L69.7 727.4 L70.3 726.4 L70.2 726.9 L70.0 725.1 L70.4 724.5 L69.9 724.7 L70.3 726.7 L70.5 722.5 L70.0 725.3 L70.4 723.7 L70.7 733.4 L70.9 722.7 L70.3 723.2 L71.0 722.8 L70.6 724.4 L70.8 734.0 L70.6 721.6 L71.1 717.7 L70.7 721.0 L71.1 719.5 L71.1 719.8 L71.3 720.0 L70.7 719.9 L71.4 717.9 L71.1 717.6 L71.7 719.5 L71.1 717.3 L71.0 717.7 L71.3 716.8 L71.2 715.1 L71.3 716.3 L70.9 716.0 L70.7 717.7 L70.9 713.3 L71.3 714.5 L71.7 715.4 L71.4 713.8 L71.3 711.6 L71.6 714.3 L71.7 713.5 L72.7 712.0 L72.2 711.5 L71.8 711.5 L71.3 712.1 L71.8 711.4 L71.8 710.5 L72.1 711.2 L72.7 711.7 L72.0 709.5 L71.3 711.5 L72.0 709.5 L71.5 709.8 L72.4 709.2 L72.5 709.0 L72.3 708.3 L71.7 705.2 L72.2 706.3 L72.7 708.0 L72.0 705.5 L72.2 706.4 L72.5 704.2 L72.6 704.9 L72.5 706.9 L72.6 705.2 L72.6 703.6 L72.3 703.5 L72.5 702.0 L72.7 704.0 L72.2 702.8 L72.7 703.5 L72.7 703.2 L72.9 711.1 L72.8 700.6 L72.4 700.0 L72.3 700.5 L72.9 700.6 L72.8 701.7 L72.9 698.8 L72.7 700.0 L72.4 698.0 L73.0 698.1 L72.9 699.3 L73.2 698.6 L73.4 697.1 L73.4 696.6 L73.4 698.2 L72.7 696.4 L72.3 695.9 L72.9 694.8 L72.7 698.3 L72.7 697.2 L73.4 695.4 L72.6 696.9 L73.5 694.7 L73.6 693.4 L74.2 694.0 L73.6 694.7 L74.0 691.5 L73.1 693.8 L73.1 693.4 L73.7 693.3 L72.9 691.9 L73.8 692.2 L73.4 688.8 L72.8 690.2 L74.1 691.1 L73.1 690.2 L74.4 689.5 L73.0 687.5 L73.2 688.4 L73.6 686.3 L73.6 687.6 L73.0 687.8 L73.6 686.6 L73.7 687.3 L73.8 686.4 L73.1 687.0 L73.4 685.3 L73.6 683.6 L73.9 683.6 L73.7 683.8 L73.6 684.3 L73.5 684.0 L74.2 682.8 L73.4 683.4 L73.8 682.2 L73.0 683.2 L74.3 680.7 L73.9 683.1 L73.2 681.8 L74.0 680.7 L74.3 679.6 L74.1 681.0 L73.8 679.4 L74.1 680.4 L73.6 681.4 L73.8 679.2 L73.7 679.0 L73.9 678.9 L73.5 677.4 L74.4 679.8 L73.9 677.1 L73.5 677.7 L73.9 677.0 L74.1 675.6 L74.0 677.4 L74.3 676.0 L73.8 674.5 L73.7 674.2 L74.2 672.4 L74.5 673.0 L73.7 674.8 L73.5 674.4 L73.8 672.1 L74.0 673.5 L73.7 673.5 L74.1 672.9 L73.8 673.1 L74.4 669.3 L73.7 671.3 L73.8 669.6 L74.2 671.1 L74.4 669.2 L74.5 669.7 L73.9 670.2 L74.2 667.4 L74.4 667.4 L74.7 667.4 L74.2 668.2 L74.4 667.4 L75.4 669.3 L75.5 670.6 L76.4 668.3 L76.3 669.2 L76.7 667.4 L76.7 667.5 L77.4 669.6 L78.1 669.3 L77.9 669.8 L77.7 670.9 L78.6 669.9 L78.3 669.8 L78.5 669.9 L78.4 670.9 L79.1 668.7 L78.7 673.0 L78.9 671.4 L79.2 670.3 L79.3 672.4 L78.7 673.7 L79.8 673.6 L79.3 675.0 L79.9 673.2 L79.9 673.3 L80.1 674.3 L80.0 672.1 L80.0 673.2 L80.5 673.2 L80.6 672.7 L81.0 669.8 L81.0 671.4 L80.6 669.1 L81.4 671.9 L81.9 670.2 L81.5 671.4 L81.3 671.4 L81.1 667.4 L81.6 670.3 L81.2 669.4 L82.0 670.3 L81.7 667.4 L81.8 667.4 L82.2 667.5 L81.7 667.4 L81.6 669.2 L82.2 668.6 L82.9 669.9 L82.2 670.5 L82.9 671.3 L82.0 669.3 L82.7 671.9 L83.0 672.3 L83.6 670.7 L82.4 671.5 L83.1 670.9 L82.9 674.2 L83.4 674.7 L83.2 672.6 L83.5 673.8 L83.3 674.7 L83.4 675.3 L83.9 674.8 L84.3 677.1 L84.0 674.6 L84.0 676.9 L83.9 675.7 L84.7 675.6 L83.6 674.1 L83.7 672.7 L84.2 673.6 L84.7 674.4 L85.0 672.6 L85.0 671.3 L85.2 672.6 L85.0 672.4 L84.9 671.0 L84.8 671.6 L85.4 671.9 L85.1 671.3 L85.6 671.7 L85.8 671.7 L85.5 670.0 L85.6 668.8 L85.7 667.4 L86.2 670.1 L86.2 667.4 L86.2 670.7 L86.7 669.0 L87.3 667.4 L87.1 669.6 L87.2 669.8 L87.2 669.5 L87.3 671.1 L87.8 672.2 L88.0 672.8 L88.0 671.9 L88.7 671.0 L88.4 673.2 L88.6 672.3 L88.9 671.4 L89.2 670.1 L88.5 671.0 L89.4 668.5 L89.9 667.6 L89.3 669.3 L90.0 668.5 L89.8 669.1 L89.9 667.4 L90.6 668.8 L90.7 667.6 L90.3 668.6 L91.0 669.7 L91.8 669.4 L91.5 668.7 L91.7 668.4 L91.9 669.9 L91.9 669.7 L92.4 669.5 L91.8 671.5 L91.8 670.8 L92.4 673.5 L92.6 674.7 L92.5 674.0 L92.6 676.2 L92.1 672.2 L91.9 672.0 L92.2 674.1 L92.4 672.7 L91.9 675.1 L92.4 676.3 L92.8 676.5 L92.4 677.1 L93.3 676.2 L92.9 676.7 L92.3 677.4 L92.4 677.4 L92.5 678.8 L93.1 677.7 L93.0 678.5 L92.7 678.1 L93.0 680.3 L93.2 679.7 L93.2 671.4 L92.5 679.8 L92.7 678.7 L92.8 680.5 L92.6 679.0 L93.5 681.7 L93.0 680.8 L93.1 683.9 L93.1 682.1 L93.5 684.4 L93.7 683.0 L93.7 682.6 L94.0 682.6 L93.3 681.8 L94.2 684.2 L94.5 683.1 L93.6 686.9 L93.7 684.6 L94.0 685.7 L94.3 686.7 L93.8 686.9 L93.7 688.7 L94.7 687.7 L93.9 687.6 L93.2 688.4 L94.3 690.6 L94.5 691.1 L94.8 687.5 L94.9 689.7 L95.5 689.3 L94.3 690.6 L94.3 691.6 L94.2 691.3 L95.5 692.3 L94.8 693.8 L94.5 690.4 L94.5 692.6 L95.4 693.0 L95.3 693.8 L95.7 693.7 L95.4 701.8 L95.5 694.3 L96.0 695.1 L95.9 693.3 L96.3 695.5 L96.2 694.3 L96.3 696.6 L96.7 698.2 L96.5 696.6 L96.9 697.5 L97.1 698.1 L96.9 699.2 L97.2 698.8 L97.4 702.4 L97.7 697.4 L97.7 698.9 L97.8 696.1 L98.0 702.1 L97.9 698.7 L98.3 701.3 L98.1 700.8 L97.9 701.1 L98.8 700.1 L98.1 701.6 L98.9 702.1 L99.7 702.8 L99.6 702.3 L99.1 703.3 L99.9 702.3 L99.9 705.0 L99.7 703.3 L100.1 708.3 L100.1 719.3 L100.3 704.3 L100.6 705.6 L100.1 705.5 L101.1 707.2 L101.6 707.7 L101.0 706.0 L100.9 706.3 L101.2 706.6 L101.9 708.2 L101.4 709.1 L101.9 709.1 L102.7 708.6 L101.7 709.1 L102.2 710.1 L102.1 711.1 L102.3 701.0 L102.6 711.7 L102.4 710.4 L103.0 711.3 L103.0 712.6 L103.5 710.8 L103.5 710.2 L103.5 711.2 L104.1 712.6 L103.6 711.9 L104.1 713.3 L103.8 715.2 L104.6 706.0 L104.0 715.8 L104.8 715.7 L104.3 727.6 L104.8 716.4 L104.5 716.7 L104.7 717.1 L104.9 716.6 L105.5 717.0 L105.7 716.5 L105.9 716.4 L106.0 717.7 L105.9 718.8 L106.4 717.7 L106.9 720.5 L106.4 718.6 L106.4 719.8 L107.1 718.3 L107.7 721.8 L107.1 721.2 L107.2 722.2 L107.1 719.8 L107.3 723.0 L107.4 722.3 L107.5 721.4 L108.3 722.0 L108.5 721.1 L108.3 722.9 L108.4 724.4 L108.8 722.9 L108.6 724.5 L108.8 723.1 L109.1 728.6 L109.0 724.9 L109.7 728.5 L110.5 727.1 L109.6 725.3 L109.9 727.7 L109.7 727.8 L110.0 727.4 L110.4 726.9 L110.7 728.7 L110.7 727.8 L110.5 727.8 L111.2 729.7 L111.1 728.1 L111.6 729.9 L111.6 731.1 L111.8 729.0 L112.0 730.3 L111.5 731.0 L112.8 728.8 L112.2 730.5 L112.8 730.8 L113.1 731.1 L112.9 734.6 L112.7 733.8 L113.6 731.7 L113.2 732.9 L113.7 734.0 L114.0 735.4 L113.9 732.3 L113.6 732.9 L114.1 733.5 L114.7 734.7 L114.4 736.4 L115.2 741.8 L114.5 736.2 L114.9 738.0 L114.8 736.3 L115.2 737.2 L116.2 739.5 L116.1 738.5 L115.9 737.4 L116.0 737.6 L116.8 739.9 L116.5 737.8 L116.3 738.4 L117.4 740.6 L116.6 741.5 L117.2 742.2 L117.6 739.6 L117.8 741.6 L118.3 737.7 L118.1 740.7 L117.7 736.8 L118.5 742.5 L118.4 744.5 L118.0 741.9 L118.2 741.9 L118.5 744.5 L118.1 743.7 L119.2 743.4 L119.2 744.5" fill="none" stroke="#8a8a8a" stroke-width="0.8"/>
<path d="M65.0 744.5 L65.3 744.5 L65.4 743.4 L65.5 744.4 L66.1 744.3 L66.1 743.5 L66.5 741.6 L67.0 744.5 L67.2 742.9 L66.6 740.5 L67.5 741.8 L66.9 743.8 L66.8 740.8 L68.1 739.4 L67.6 741.0 L67.5 739.5 L67.6 739.5 L68.1 737.7 L68.5 738.3 L68.4 739.7 L68.1 740.1 L67.9 737.2 L68.3 737.4 L68.7 737.3 L68.7 737.6 L68.2 737.0 L68.8 736.9 L69.0 734.6 L68.7 735.0 L69.3 733.3 L69.5 736.0 L69.4 733.8 L68.9 733.6 L69.1 735.2 L69.2 734.0 L69.2 732.6 L69.6 732.3 L69.4 737.7 L69.5 732.6 L69.6 734.1 L69.4 729.9 L69.2 732.1 L69.7 731.5 L69.6 729.7 L69.9 730.0 L69.8 729.6 L69.7 728.4 L70.2 728.2 L69.9 729.6 L69.6 728.4 L70.5 727.3 L70.4 729.3 L70.1 726.9 L69.7 726.7 L69.9 727.0 L70.5 727.3 L70.3 725.6 L70.2 724.5 L70.5 725.2 L70.3 724.7 L70.3 723.7 L70.9 724.5 L70.7 723.4 L70.8 723.5 L70.8 722.8 L71.0 722.9 L71.0 722.7 L70.6 720.9 L70.8 722.2 L71.4 721.1 L71.0 719.3 L71.5 720.1 L70.9 721.1 L70.7 721.0 L71.1 718.8 L71.0 719.2 L71.0 717.5 L71.0 718.7 L70.6 716.0 L71.4 716.1 L71.3 717.6 L71.1 717.3 L70.9 716.0 L71.6 716.6 L71.5 717.2 L71.7 715.4 L71.6 715.7 L71.8 714.1 L71.6 713.3 L71.2 715.7 L71.7 713.9 L72.0 712.9 L71.3 711.6 L71.6 713.2 L72.2 713.1 L71.5 713.2 L72.3 711.5 L71.6 712.1 L71.4 711.0 L71.8 709.8 L71.8 700.5 L72.3 709.4 L71.4 708.8 L71.8 708.7 L71.8 709.6 L71.8 708.6 L72.2 707.5 L72.1 707.7 L72.2 707.3 L72.2 707.0 L72.6 706.9 L72.2 705.8 L72.4 707.3 L72.7 704.7 L72.6 704.9 L72.5 703.8 L72.8 704.3 L72.7 703.9 L72.7 704.2 L72.6 702.3 L72.9 703.5 L73.0 706.7 L72.5 703.6 L72.9 701.7 L72.9 702.9 L73.0 702.8 L72.6 700.1 L72.5 702.5 L72.8 700.5 L73.2 698.1 L72.6 699.9 L73.2 699.5 L72.9 700.5 L73.0 696.9 L73.0 695.5 L72.9 697.8 L73.0 697.1 L73.2 696.3 L73.5 696.8 L73.2 698.0 L73.3 696.0 L72.9 696.5 L73.1 694.7 L73.5 693.8 L73.5 694.2 L73.2 695.9 L73.3 695.1 L73.2 694.3 L73.1 692.9 L73.5 702.2 L73.2 693.1 L73.8 690.8 L72.8 691.5 L72.9 693.2 L73.1 689.9 L73.5 690.9 L73.4 689.9 L73.3 689.7 L72.6 690.5 L73.6 688.6 L73.1 689.6 L74.0 688.6 L73.6 689.2 L73.4 687.1 L73.5 688.6 L74.1 687.2 L73.5 686.3 L73.3 685.8 L72.9 684.3 L73.6 686.6 L73.4 684.7 L74.0 686.1 L73.7 686.8 L74.0 682.9 L73.6 684.2 L73.4 683.0 L74.0 683.3 L73.7 683.3 L73.5 681.4 L73.7 683.1 L74.1 681.7 L73.6 682.9 L74.4 681.1 L73.9 680.9 L73.4 680.4 L73.5 682.6 L73.8 679.3 L73.7 677.2 L73.7 679.9 L73.8 678.7 L74.0 679.1 L73.8 679.0 L73.7 678.9 L73.3 677.4 L74.4 677.3 L74.0 677.5 L74.1 677.4 L74.0 674.6 L74.3 677.2 L74.0 674.1 L74.4 674.9 L73.8 675.4 L73.9 673.6 L74.2 673.2 L74.2 674.7 L74.4 674.3 L73.9 671.3 L74.2 672.2 L73.9 672.3 L73.7 672.9 L74.4 671.6 L74.1 671.7 L73.8 670.9 L73.9 670.9 L74.3 672.2 L74.2 670.0 L74.1 669.5 L74.4 667.4 L74.2 667.5 L73.7 667.4 L74.8 668.1 L74.7 667.9 L75.1 667.6 L74.9 669.0 L75.0 667.4 L76.3 668.7 L76.5 668.5 L77.0 667.4 L77.4 668.0 L77.9 668.5 L78.4 669.7 L78.5 670.2 L78.0 668.3 L78.2 670.1 L78.6 669.7 L79.1 671.5 L79.1 672.1 L78.8 672.1 L78.7 672.2 L79.3 672.6 L79.3 670.8 L79.7 673.1 L79.8 673.3 L79.8 679.6 L79.6 673.0 L79.6 672.9 L80.0 672.9 L80.4 672.8 L80.3 670.7 L80.7 672.6 L80.4 672.5 L81.0 673.4 L80.9 673.1 L80.8 671.8 L80.8 671.1 L81.1 670.7 L81.3 671.1 L81.8 671.0 L81.5 668.3 L81.8 670.1 L81.1 668.6 L82.1 668.7 L81.9 668.0 L81.7 668.4 L81.4 667.5 L81.9 668.8 L82.7 667.7 L82.6 670.3 L82.7 670.5 L82.4 669.8 L82.8 670.4 L82.9 670.3 L82.9 671.8 L82.6 672.0 L82.8 671.5 L83.0 672.0 L84.0 672.8 L82.6 672.2 L83.8 673.5 L83.8 674.1 L83.5 676.1 L83.8 674.6 L83.8 674.1 L83.9 676.1 L83.7 675.7 L83.3 675.3 L84.8 676.8 L84.6 675.2 L83.8 676.6 L84.6 675.7 L84.3 674.4 L84.6 674.3 L84.3 675.8 L84.4 673.4 L85.4 672.9 L84.8 673.6 L85.0 672.7 L85.3 672.1 L85.6 672.5 L85.2 669.8 L85.6 671.3 L85.7 672.1 L85.4 667.4 L85.5 669.5 L86.0 669.8 L85.9 670.1 L86.5 668.8 L85.7 669.8 L86.6 670.1 L86.6 668.4 L86.4 670.9 L87.0 670.6 L86.8 670.7 L87.3 670.9 L87.9 669.5 L87.6 671.7 L88.2 672.9 L88.3 672.9 L88.2 671.5 L88.4 667.7 L88.7 670.4 L88.9 671.5 L88.9 667.4 L89.1 669.8 L89.6 667.4 L89.2 669.3 L89.3 670.1 L89.9 667.4 L90.1 667.4 L89.6 667.4 L90.5 668.7 L91.2 670.8 L91.3 670.0 L91.1 667.9 L91.6 668.4 L91.3 670.3 L92.2 669.8 L92.1 668.9 L92.3 671.0 L92.1 670.3 L92.3 671.9 L92.1 672.3 L92.5 672.4 L92.4 671.6 L91.8 672.1 L91.8 673.1 L92.5 673.0 L92.7 674.9 L92.8 675.3 L92.3 669.2 L92.6 675.8 L92.5 676.7 L92.4 674.9 L92.5 675.7 L93.0 678.1 L92.6 676.6 L93.3 676.7 L92.4 677.6 L92.7 678.3 L93.0 676.9 L93.0 678.6 L92.9 679.8 L92.4 678.9 L92.9 679.2 L93.4 680.8 L93.3 679.7 L93.3 679.6 L93.3 680.9 L93.2 682.0 L93.2 681.5 L93.1 679.8 L93.7 682.0 L93.5 683.2 L93.5 684.7 L93.5 683.5 L93.5 686.1 L93.1 683.4 L93.6 684.1 L93.5 685.1 L93.5 686.0 L93.8 685.4 L94.2 686.6 L93.5 686.2 L93.9 687.2 L94.4 687.6 L93.6 687.6 L94.2 688.0 L93.9 688.0 L94.3 688.0 L94.6 691.5 L94.2 688.5 L94.6 690.9 L94.4 691.0 L95.0 690.4 L93.5 690.7 L94.4 690.4 L94.7 691.6 L94.9 690.7 L95.5 692.0 L95.4 694.1 L95.1 696.9 L94.9 691.8 L95.8 693.5 L95.6 693.4 L95.6 692.8 L96.0 695.4 L96.4 693.1 L96.1 695.5 L96.6 697.0 L95.8 697.1 L96.7 695.0 L97.3 696.2 L97.1 696.6 L96.6 697.0 L96.6 698.2 L97.2 698.3 L97.0 699.7 L97.2 697.9 L97.0 699.1 L97.3 700.2 L97.9 699.9 L97.7 698.1 L97.8 700.2 L97.8 700.6 L98.3 700.8 L98.6 700.3 L98.7 702.1 L98.0 701.8 L99.0 701.4 L98.9 702.9 L99.3 702.7 L99.2 702.6 L100.0 702.8 L100.4 702.8 L100.3 704.1 L100.7 703.9 L100.3 705.7 L100.3 705.0 L99.9 706.0 L100.5 705.0 L100.7 705.6 L101.4 706.4 L100.8 707.3 L101.2 707.8 L101.5 707.5 L101.5 707.9 L101.6 708.5 L102.1 709.1 L101.6 709.6 L102.0 707.6 L102.2 710.1 L102.8 709.6 L102.8 710.1 L102.7 712.7 L103.0 711.4 L102.2 712.1 L103.1 712.4 L103.0 714.7 L102.8 710.7 L103.6 713.5 L103.4 712.3 L103.5 709.3 L103.3 714.2 L104.0 711.8 L104.5 714.9 L104.3 713.9 L104.6 716.4 L104.9 715.1 L104.7 714.8 L104.7 715.8 L104.8 715.3 L105.1 715.8 L105.2 717.1 L105.5 717.1 L105.5 716.3 L106.2 717.3 L105.7 719.6 L106.6 717.2 L106.2 719.2 L106.4 721.2 L106.9 718.7 L106.6 720.4 L106.4 720.1 L107.4 719.5 L107.7 721.4 L106.8 721.6 L107.7 721.3 L107.5 721.0 L107.7 722.9 L108.4 722.9 L107.7 722.4 L108.0 722.2 L108.7 723.1 L108.5 723.2 L108.7 723.5 L108.5 725.4 L108.6 724.6 L108.8 726.3 L109.2 726.4 L109.2 726.5 L109.7 726.4 L110.5 726.2 L109.4 726.5 L110.2 728.7 L110.3 728.2 L110.2 727.2 L110.7 728.5 L110.6 727.7 L110.6 728.4 L111.2 727.9 L111.9 728.3 L111.6 728.5 L111.9 730.0 L111.8 731.0 L111.9 730.4 L111.9 731.0 L112.5 730.8 L112.8 730.9 L112.3 731.9 L112.4 731.0 L113.3 733.3 L113.1 733.4 L113.0 733.3 L113.8 733.4 L113.7 733.2 L113.9 735.4 L114.1 734.2 L114.1 734.2 L115.3 734.1 L114.0 734.7 L114.7 738.5 L115.1 735.7 L115.3 736.9 L115.0 736.3 L115.4 736.3 L115.6 737.8 L116.2 737.0 L116.5 739.6 L116.6 737.2 L116.4 738.6 L116.9 738.3 L116.8 739.6 L116.8 740.9 L116.9 739.6 L117.4 738.9 L117.4 740.9 L117.3 741.0 L117.4 741.9 L117.5 740.9 L118.4 741.4 L118.0 741.6 L118.3 742.1 L118.9 742.8 L119.0 744.4 L119.0 743.9 L119.0 743.5 L118.9 742.9 L119.2 744.5" fill="none" stroke="#1a1a1a" stroke-width="1.25"/>
<path d="M78.0 744.0 L78.3 743.6 L78.2 742.8 L78.6 742.2 L78.1 742.2 L77.5 741.4 L78.4 741.3 L78.4 741.0 L78.5 741.5 L78.0 740.1 L78.6 740.4 L78.5 739.1 L78.1 740.9 L78.1 738.1 L78.7 738.3 L79.2 738.1 L78.7 737.5 L78.3 737.7 L78.7 737.2 L78.4 736.5 L78.6 737.1 L78.8 735.3 L78.7 735.2 L79.1 734.7 L78.3 734.5 L78.9 734.2 L79.2 733.6 L78.9 732.9 L79.2 732.5 L78.9 732.2 L79.2 731.5 L78.7 731.2 L79.1 730.5 L79.0 729.5 L79.3 730.8 L79.0 729.4 L79.2 730.2 L78.2 728.6 L79.1 729.0 L79.5 727.7 L79.7 728.7 L79.5 727.1 L79.4 726.3 L80.0 726.5 L79.5 725.8 L79.4 727.7 L79.6 724.9 L79.5 725.6 L79.3 723.3 L79.1 724.8 L79.3 723.2 L79.8 723.3 L79.9 722.5 L79.9 723.1 L79.6 721.9 L79.7 722.1 L80.1 721.9 L79.7 721.6 L79.8 720.7 L80.4 721.2 L80.0 720.8 L79.9 719.2 L79.9 719.4 L80.5 719.4 L80.2 719.7 L80.4 717.6 L80.4 718.1 L79.9 717.4 L80.2 716.3 L80.6 716.5 L80.6 715.2 L80.8 715.5 L80.5 716.6 L80.6 715.4 L81.0 715.3 L81.5 714.4 L80.8 713.5 L81.1 712.7 L80.9 711.7 L80.8 711.7 L81.3 713.4 L81.3 711.3 L80.7 711.4 L81.3 711.6 L81.3 709.8 L81.2 710.4 L81.4 709.0 L82.3 709.3 L81.1 708.1 L81.4 709.6 L82.2 708.4 L82.1 708.6 L82.2 706.8 L82.1 707.2 L82.2 706.0 L82.1 707.8 L82.7 705.6 L81.8 705.6 L82.6 705.5 L82.0 704.3 L82.0 704.6 L82.8 703.7 L83.4 703.5 L83.2 702.5 L83.2 703.1 L83.9 703.0 L83.4 700.9 L83.4 701.5 L83.9 700.8 L83.4 700.7 L84.6 700.7 L84.2 699.7 L84.2 699.4 L84.1 699.0 L84.7 698.5 L85.1 698.6 L84.5 697.1 L84.8 697.3 L85.0 697.2 L84.8 697.3 L85.6 697.4 L85.5 696.0 L85.4 695.6 L85.9 694.5 L85.6 694.2 L86.1 694.6 L86.2 693.9 L86.1 694.0 L86.3 691.8 L86.7 692.6 L86.3 692.7 L87.0 692.0 L87.3 691.6 L87.3 690.9 L87.5 690.9 L87.2 690.4 L87.7 690.0 L87.9 690.0 L88.2 690.0 L88.2 689.1 L88.5 688.1 L88.3 689.2 L88.5 687.5 L88.7 687.6 L88.5 687.4 L89.0 686.8 L88.2 685.6 L88.4 685.6 L89.2 684.7 L88.4 686.1 L88.8 684.2 L88.9 685.4 L89.3 684.4 L89.0 684.0 L89.1 683.2 L90.1 682.2 L89.4 682.2 L89.6 681.9 L89.9 682.9 L89.8 681.4 L89.7 680.1 L89.6 680.3 L89.8 681.0 L90.2 679.8 L90.2 679.4 L90.4 678.6 L90.4 677.6 L90.9 679.0 L90.7 678.4 L90.3 676.3 L90.4 676.8 L90.4 676.2 L90.4 676.8 L90.5 675.6 L90.6 674.5 L90.4 675.9 L90.3 674.5 L90.4 674.3 L90.8 673.8 L91.0 673.5 L90.8 672.0 L90.8 671.1 L91.0 672.2 L90.8 672.1 L91.0 671.3 L91.2 671.8 L90.5 670.2 L91.0 670.0" fill="none" stroke="#222" stroke-width="0.9"/>
<line x1="80.21" y1="668.38" x2="80.89" y2="673.73" stroke="#2a2a2a" stroke-width="0.7"/>
<line x1="82.58" y1="668.06" x2="82.76" y2="676.14" stroke="#8a8a8a" stroke-width="0.7"/>
<line x1="100.27" y1="703.4" x2="100.32" y2="709.76" stroke="#2a2a2a" stroke-width="0.7"/>
<line x1="110.84" y1="723.22" x2="110.63" y2="732.25" stroke="#8a8a8a" stroke-width="0.7"/>
<line x1="113.05" y1="727.28" x2="112.95" y2="742.58" stroke="#8a8a8a" stroke-width="0.7"/>
<line x1="102.59" y1="705.79" x2="102.83" y2="721.17" stroke="#8a8a8a" stroke-width="0.7"/>
<line x1="81.14" y1="667.4" x2="81.18" y2="677.57" stroke="#8a8a8a" stroke-width="0.7"/>
<line x1="93.9" y1="683.99" x2="94.09" y2="692.07" stroke="#8a8a8a" stroke-width="0.7"/>
<line x1="104.54" y1="711.49" x2="104.83" y2="725.89" stroke="#8a8a8a" stroke-width="0.7"/>
<line x1="86.8" y1="669.82" x2="88.08" y2="671.9" stroke="#8a8a8a" stroke-width="0.7"/>
<line x1="101.81" y1="703.62" x2="100.98" y2="712.74" stroke="#2a2a2a" stroke-width="0.7"/>
<line x1="80.27" y1="668.87" x2="80.74" y2="681.23" stroke="#8a8a8a" stroke-width="0.7"/>
<line x1="117.82" y1="736.56" x2="117.91" y2="744.5" stroke="#2a2a2a" stroke-width="0.7"/>
<line x1="95.14" y1="686.63" x2="95.17" y2="698.22" stroke="#8a8a8a" stroke-width="0.7"/>
<line x1="114.24" y1="732.01" x2="114.1" y2="736.72" stroke="#8a8a8a" stroke-width="0.7"/>
<line x1="93.66" y1="681.51" x2="94.12" y2="687.61" stroke="#8a8a8a" stroke-width="0.7"/>
<line x1="114.42" y1="733.56" x2="114.42" y2="744.5" stroke="#2a2a2a" stroke-width="0.7"/>
<line x1="99.16" y1="699.75" x2="98.96" y2="705.06" stroke="#2a2a2a" stroke-width="0.7"/>
<line x1="98.12" y1="697.11" x2="98.32" y2="706.07" stroke="#2a2a2a" stroke-width="0.7"/>
<line x1="86.89" y1="668.58" x2="86.74" y2="676.93" stroke="#8a8a8a" stroke-width="0.7"/>
<line x1="86.83" y1="667.4" x2="86.65" y2="680.52" stroke="#8a8a8a" stroke-width="0.7"/>
<line x1="108.83" y1="720.52" x2="108.84" y2="727.36" stroke="#8a8a8a" stroke-width="0.7"/>
<line x1="104.45" y1="712.44" x2="104.25" y2="718.63" stroke="#2a2a2a" stroke-width="0.7"/>
<line x1="82.8" y1="668.88" x2="83.3" y2="674.94" stroke="#2a2a2a" stroke-width="0.7"/>
<line x1="107.64" y1="715.64" x2="108.1" y2="728.46" stroke="#2a2a2a" stroke-width="0.7"/>
<line x1="77.61" y1="668.08" x2="77.65" y2="673.37" stroke="#2a2a2a" stroke-width="0.7"/>
<line x1="92.48" y1="668.64" x2="92.02" y2="682.64" stroke="#8a8a8a" stroke-width="0.7"/>
<line x1="92.74" y1="668.99" x2="92.26" y2="679.47" stroke="#2a2a2a" stroke-width="0.7"/>
<line x1="97.23" y1="693.89" x2="97.91" y2="707.87" stroke="#2a2a2a" stroke-width="0.7"/>
<line x1="95.25" y1="690.79" x2="95.3" y2="696.12" stroke="#2a2a2a" stroke-width="0.7"/>
<line x1="115.84" y1="736.67" x2="116.17" y2="743.19" stroke="#2a2a2a" stroke-width="0.7"/>
<line x1="111.74" y1="728.13" x2="111.85" y2="733.28" stroke="#2a2a2a" stroke-width="0.7"/>
<line x1="88.6" y1="667.4" x2="88.78" y2="674.32" stroke="#8a8a8a" stroke-width="0.7"/>
<line x1="80.59" y1="669.48" x2="80.94" y2="677.65" stroke="#2a2a2a" stroke-width="0.7"/>
<line x1="87.66" y1="667.4" x2="87.94" y2="682.11" stroke="#2a2a2a" stroke-width="0.7"/>
<line x1="81.81" y1="667.4" x2="82.11" y2="677.91" stroke="#2a2a2a" stroke-width="0.7"/>
<line x1="89.8" y1="667.4" x2="89.32" y2="671.4" stroke="#8a8a8a" stroke-width="0.7"/>
<line x1="85.13" y1="667.4" x2="84.81" y2="675.58" stroke="#8a8a8a" stroke-width="0.7"/>
<line x1="91.4" y1="667.53" x2="91.49" y2="672.48" stroke="#2a2a2a" stroke-width="0.7"/>
<line x1="114.95" y1="729.77" x2="115.93" y2="738.27" stroke="#2a2a2a" stroke-width="0.7"/>
<line x1="83.64" y1="671.6" x2="83.62" y2="683.2" stroke="#2a2a2a" stroke-width="0.7"/>
<line x1="94.23" y1="686.4" x2="94.69" y2="692.85" stroke="#8a8a8a" stroke-width="0.7"/>
<line x1="96.24" y1="691.67" x2="96.23" y2="698.79" stroke="#2a2a2a" stroke-width="0.7"/>
<line x1="110.11" y1="720.45" x2="110.13" y2="738" stroke="#2a2a2a" stroke-width="0.7"/>
<line x1="115.65" y1="735.59" x2="115.38" y2="740.55" stroke="#8a8a8a" stroke-width="0.7"/>
<line x1="113.07" y1="731.11" x2="112.82" y2="735.52" stroke="#2a2a2a" stroke-width="0.7"/>
<line x1="113.43" y1="726.95" x2="113.45" y2="737.44" stroke="#2a2a2a" stroke-width="0.7"/>
<line x1="98.78" y1="695.25" x2="99.18" y2="704.27" stroke="#8a8a8a" stroke-width="0.7"/>
<line x1="81.91" y1="667.64" x2="81.52" y2="674.45" stroke="#2a2a2a" stroke-width="0.7"/>
<line x1="88.86" y1="668.12" x2="88.21" y2="678.32" stroke="#8a8a8a" stroke-width="0.7"/>
<line x1="83.79" y1="668.68" x2="82.67" y2="684.51" stroke="#2a2a2a" stroke-width="0.7"/>
<line x1="85.87" y1="667.4" x2="86.31" y2="673.71" stroke="#8a8a8a" stroke-width="0.7"/>
<line x1="113.6" y1="727.71" x2="114.12" y2="742.34" stroke="#8a8a8a" stroke-width="0.7"/>
<line x1="91.65" y1="667.95" x2="91.38" y2="672.5" stroke="#2a2a2a" stroke-width="0.7"/>
<line x1="94.53" y1="688.68" x2="94.41" y2="697.37" stroke="#2a2a2a" stroke-width="0.7"/>
<line x1="98.44" y1="698.74" x2="98.69" y2="708.4" stroke="#8a8a8a" stroke-width="0.7"/>
<line x1="89.34" y1="667.4" x2="89.4" y2="675.02" stroke="#2a2a2a" stroke-width="0.7"/>
<line x1="95.64" y1="687.38" x2="96.19" y2="702.16" stroke="#8a8a8a" stroke-width="0.7"/>
<line x1="116.85" y1="736.65" x2="117.48" y2="740.57" stroke="#2a2a2a" stroke-width="0.7"/>
<line x1="103.23" y1="705.81" x2="102.82" y2="713.28" stroke="#8a8a8a" stroke-width="0.7"/>
<line x1="83.84" y1="672.02" x2="84.06" y2="680.9" stroke="#8a8a8a" stroke-width="0.7"/>
<line x1="106.9" y1="713.4" x2="106.96" y2="728.32" stroke="#2a2a2a" stroke-width="0.7"/>
<line x1="97.44" y1="696.97" x2="97.29" y2="700.58" stroke="#2a2a2a" stroke-width="0.7"/>
<line x1="116.31" y1="735.17" x2="116.55" y2="744.5" stroke="#2a2a2a" stroke-width="0.7"/>
<line x1="90.02" y1="667.4" x2="90.01" y2="678.89" stroke="#2a2a2a" stroke-width="0.7"/>
<line x1="108.93" y1="719.21" x2="108.81" y2="729.45" stroke="#2a2a2a" stroke-width="0.7"/>
<line x1="98.42" y1="698.06" x2="98.17" y2="710.82" stroke="#2a2a2a" stroke-width="0.7"/>
<line x1="81.67" y1="667.4" x2="81.92" y2="677.21" stroke="#8a8a8a" stroke-width="0.7"/>
<line x1="89.2" y1="667.4" x2="89.62" y2="677.3" stroke="#2a2a2a" stroke-width="0.7"/>
<line x1="92.87" y1="670.92" x2="92.59" y2="678.79" stroke="#8a8a8a" stroke-width="0.7"/>
<line x1="88.27" y1="669.18" x2="88.56" y2="682.86" stroke="#888" stroke-width="0.8"/>
<line x1="79.98" y1="668.11" x2="80.01" y2="676.28" stroke="#555" stroke-width="0.8"/>
<line x1="86.86" y1="669.38" x2="88.1" y2="686.13" stroke="#222" stroke-width="0.8"/>
<line x1="88.8" y1="668.92" x2="88.76" y2="691.26" stroke="#555" stroke-width="0.8"/>
<line x1="80.39" y1="667.5" x2="79.97" y2="684.34" stroke="#555" stroke-width="0.8"/>
<line x1="84.69" y1="668.11" x2="85.19" y2="690" stroke="#888" stroke-width="0.8"/>
<line x1="88.05" y1="668.24" x2="89.13" y2="679.04" stroke="#222" stroke-width="0.8"/>
<line x1="82.19" y1="667.63" x2="82.06" y2="688.61" stroke="#888" stroke-width="0.8"/>
<line x1="83.09" y1="668.85" x2="83.12" y2="678.33" stroke="#222" stroke-width="0.8"/>
<line x1="82.22" y1="668.99" x2="82.21" y2="677.61" stroke="#555" stroke-width="0.8"/>
<line x1="78.91" y1="668.24" x2="78.96" y2="683.62" stroke="#222" stroke-width="0.8"/>
<line x1="86.44" y1="669.3" x2="85.62" y2="690.18" stroke="#888" stroke-width="0.8"/>
<line x1="91.15" y1="668.86" x2="91.06" y2="677.96" stroke="#555" stroke-width="0.8"/>
<line x1="89.24" y1="667.95" x2="89.58" y2="682.52" stroke="#888" stroke-width="0.8"/>
<line x1="78.04" y1="668.97" x2="77.41" y2="679.99" stroke="#888" stroke-width="0.8"/>
<line x1="86.26" y1="669.08" x2="85.95" y2="688.48" stroke="#555" stroke-width="0.8"/>
<line x1="84.27" y1="668.56" x2="84.02" y2="678.34" stroke="#222" stroke-width="0.8"/>
<line x1="80.69" y1="668.01" x2="79.98" y2="687.51" stroke="#222" stroke-width="0.8"/>
<line x1="84.77" y1="668.74" x2="85.18" y2="682.08" stroke="#222" stroke-width="0.8"/>
<line x1="83.94" y1="669.01" x2="83.96" y2="685.72" stroke="#555" stroke-width="0.8"/>
<line x1="80.21" y1="667.79" x2="80.59" y2="675.55" stroke="#555" stroke-width="0.8"/>
<line x1="91.88" y1="669.31" x2="91.87" y2="691.7" stroke="#555" stroke-width="0.8"/>
<line x1="82.97" y1="668.58" x2="83.21" y2="689.35" stroke="#888" stroke-width="0.8"/>
<line x1="90.03" y1="668.57" x2="90.73" y2="690.72" stroke="#222" stroke-width="0.8"/>
<line x1="84.71" y1="669.29" x2="84.29" y2="694.99" stroke="#222" stroke-width="0.8"/>
<line x1="80.75" y1="667.74" x2="80.72" y2="675.92" stroke="#555" stroke-width="0.8"/>
<line x1="89.48" y1="669.06" x2="88.82" y2="690.18" stroke="#888" stroke-width="0.8"/>
<line x1="88.8" y1="668.65" x2="88.58" y2="675.38" stroke="#222" stroke-width="0.8"/>
<line x1="78.83" y1="668.05" x2="79.14" y2="691.68" stroke="#888" stroke-width="0.8"/>
<line x1="85.01" y1="668.48" x2="85.38" y2="679.17" stroke="#222" stroke-width="0.8"/>
<line x1="81.46" y1="668.03" x2="80.84" y2="688.81" stroke="#888" stroke-width="0.8"/>
<line x1="82.29" y1="668.69" x2="82.44" y2="685.98" stroke="#888" stroke-width="0.8"/>
<line x1="86.88" y1="668.69" x2="87.33" y2="683.77" stroke="#222" stroke-width="0.8"/>
<line x1="79.69" y1="667.82" x2="79.03" y2="687.93" stroke="#555" stroke-width="0.8"/>
<line x1="91.2" y1="668.28" x2="91.16" y2="690.16" stroke="#222" stroke-width="0.8"/>
<line x1="79.43" y1="668.9" x2="79.11" y2="687.28" stroke="#888" stroke-width="0.8"/>
<line x1="81.61" y1="668.55" x2="81.67" y2="689.72" stroke="#555" stroke-width="0.8"/>
<line x1="90.97" y1="667.86" x2="90.91" y2="679.59" stroke="#555" stroke-width="0.8"/>
<line x1="90.44" y1="667.77" x2="89.56" y2="680.75" stroke="#888" stroke-width="0.8"/>
<line x1="84.21" y1="668.72" x2="83.85" y2="683.62" stroke="#222" stroke-width="0.8"/>
<line x1="81.1" y1="667.56" x2="80.61" y2="686.16" stroke="#222" stroke-width="0.8"/>
<line x1="86.43" y1="667.73" x2="86.1" y2="687.53" stroke="#555" stroke-width="0.8"/>
<line x1="85.71" y1="669.24" x2="85.66" y2="693.67" stroke="#222" stroke-width="0.8"/>
<line x1="77.51" y1="669.05" x2="77.24" y2="675.85" stroke="#888" stroke-width="0.8"/>
<line x1="81.9" y1="668.62" x2="83.26" y2="676.52" stroke="#888" stroke-width="0.8"/>
<rect x="74.2" y="667.4" width="3.3" height="77.1" fill="#000"/>
<line x1="163.1" y1="667.4" x2="163.1" y2="744.8" stroke="#222" stroke-width="1"/>
<line x1="163.1" y1="744.8" x2="249.4" y2="744.8" stroke="#111" stroke-width="1.4"/>
<line x1="160.5" y1="744.8" x2="163.1" y2="744.8" stroke="#333" stroke-width="0.8"/>
<line x1="161.3" y1="742.23" x2="163.1" y2="742.23" stroke="#333" stroke-width="0.8"/>
<line x1="161.3" y1="739.66" x2="163.1" y2="739.66" stroke="#333" stroke-width="0.8"/>
<line x1="161.3" y1="737.09" x2="163.1" y2="737.09" stroke="#333" stroke-width="0.8"/>
<line x1="161.3" y1="734.52" x2="163.1" y2="734.52" stroke="#333" stroke-width="0.8"/>
<line x1="160.5" y1="731.95" x2="163.1" y2="731.95" stroke="#333" stroke-width="0.8"/>
<line x1="161.3" y1="729.38" x2="163.1" y2="729.38" stroke="#333" stroke-width="0.8"/>
<line x1="161.3" y1="726.81" x2="163.1" y2="726.81" stroke="#333" stroke-width="0.8"/>
<line x1="161.3" y1="724.24" x2="163.1" y2="724.24" stroke="#333" stroke-width="0.8"/>
<line x1="161.3" y1="721.67" x2="163.1" y2="721.67" stroke="#333" stroke-width="0.8"/>
<line x1="160.5" y1="719.1" x2="163.1" y2="719.1" stroke="#333" stroke-width="0.8"/>
<line x1="161.3" y1="716.53" x2="163.1" y2="716.53" stroke="#333" stroke-width="0.8"/>
<line x1="161.3" y1="713.96" x2="163.1" y2="713.96" stroke="#333" stroke-width="0.8"/>
<line x1="161.3" y1="711.39" x2="163.1" y2="711.39" stroke="#333" stroke-width="0.8"/>
<line x1="161.3" y1="708.82" x2="163.1" y2="708.82" stroke="#333" stroke-width="0.8"/>
<line x1="160.5" y1="706.25" x2="163.1" y2="706.25" stroke="#333" stroke-width="0.8"/>
<line x1="161.3" y1="703.68" x2="163.1" y2="703.68" stroke="#333" stroke-width="0.8"/>
<line x1="161.3" y1="701.11" x2="163.1" y2="701.11" stroke="#333" stroke-width="0.8"/>
<line x1="161.3" y1="698.54" x2="163.1" y2="698.54" stroke="#333" stroke-width="0.8"/>
<line x1="161.3" y1="695.97" x2="163.1" y2="695.97" stroke="#333" stroke-width="0.8"/>
<line x1="160.5" y1="693.4" x2="163.1" y2="693.4" stroke="#333" stroke-width="0.8"/>
<line x1="161.3" y1="690.83" x2="163.1" y2="690.83" stroke="#333" stroke-width="0.8"/>
<line x1="161.3" y1="688.26" x2="163.1" y2="688.26" stroke="#333" stroke-width="0.8"/>
<line x1="161.3" y1="685.69" x2="163.1" y2="685.69" stroke="#333" stroke-width="0.8"/>
<line x1="161.3" y1="683.12" x2="163.1" y2="683.12" stroke="#333" stroke-width="0.8"/>
<line x1="160.5" y1="680.55" x2="163.1" y2="680.55" stroke="#333" stroke-width="0.8"/>
<line x1="161.3" y1="677.98" x2="163.1" y2="677.98" stroke="#333" stroke-width="0.8"/>
<line x1="161.3" y1="675.41" x2="163.1" y2="675.41" stroke="#333" stroke-width="0.8"/>
<line x1="161.3" y1="672.84" x2="163.1" y2="672.84" stroke="#333" stroke-width="0.8"/>
<line x1="161.3" y1="670.27" x2="163.1" y2="670.27" stroke="#333" stroke-width="0.8"/>
<line x1="160.5" y1="667.7" x2="163.1" y2="667.7" stroke="#333" stroke-width="0.8"/>
<line x1="163.1" y1="744.8" x2="163.1" y2="748.2" stroke="#333" stroke-width="0.9"/>
<line x1="169.59" y1="744.8" x2="169.59" y2="747.2" stroke="#333" stroke-width="0.9"/>
<line x1="173.39" y1="744.8" x2="173.39" y2="747.2" stroke="#333" stroke-width="0.9"/>
<line x1="176.09" y1="744.8" x2="176.09" y2="747.2" stroke="#333" stroke-width="0.9"/>
<line x1="178.18" y1="744.8" x2="178.18" y2="747.2" stroke="#333" stroke-width="0.9"/>
<line x1="179.89" y1="744.8" x2="179.89" y2="747.2" stroke="#333" stroke-width="0.9"/>
<line x1="181.33" y1="744.8" x2="181.33" y2="747.2" stroke="#333" stroke-width="0.9"/>
<line x1="182.58" y1="744.8" x2="182.58" y2="747.2" stroke="#333" stroke-width="0.9"/>
<line x1="183.69" y1="744.8" x2="183.69" y2="747.2" stroke="#333" stroke-width="0.9"/>
<line x1="184.68" y1="744.8" x2="184.68" y2="748.2" stroke="#333" stroke-width="0.9"/>
<line x1="191.17" y1="744.8" x2="191.17" y2="747.2" stroke="#333" stroke-width="0.9"/>
<line x1="194.97" y1="744.8" x2="194.97" y2="747.2" stroke="#333" stroke-width="0.9"/>
<line x1="197.66" y1="744.8" x2="197.66" y2="747.2" stroke="#333" stroke-width="0.9"/>
<line x1="199.76" y1="744.8" x2="199.76" y2="747.2" stroke="#333" stroke-width="0.9"/>
<line x1="201.46" y1="744.8" x2="201.46" y2="747.2" stroke="#333" stroke-width="0.9"/>
<line x1="202.91" y1="744.8" x2="202.91" y2="747.2" stroke="#333" stroke-width="0.9"/>
<line x1="204.16" y1="744.8" x2="204.16" y2="747.2" stroke="#333" stroke-width="0.9"/>
<line x1="205.26" y1="744.8" x2="205.26" y2="747.2" stroke="#333" stroke-width="0.9"/>
<line x1="206.25" y1="744.8" x2="206.25" y2="748.2" stroke="#333" stroke-width="0.9"/>
<line x1="212.74" y1="744.8" x2="212.74" y2="747.2" stroke="#333" stroke-width="0.9"/>
<line x1="216.54" y1="744.8" x2="216.54" y2="747.2" stroke="#333" stroke-width="0.9"/>
<line x1="219.24" y1="744.8" x2="219.24" y2="747.2" stroke="#333" stroke-width="0.9"/>
<line x1="221.33" y1="744.8" x2="221.33" y2="747.2" stroke="#333" stroke-width="0.9"/>
<line x1="223.04" y1="744.8" x2="223.04" y2="747.2" stroke="#333" stroke-width="0.9"/>
<line x1="224.48" y1="744.8" x2="224.48" y2="747.2" stroke="#333" stroke-width="0.9"/>
<line x1="225.73" y1="744.8" x2="225.73" y2="747.2" stroke="#333" stroke-width="0.9"/>
<line x1="226.84" y1="744.8" x2="226.84" y2="747.2" stroke="#333" stroke-width="0.9"/>
<line x1="227.82" y1="744.8" x2="227.82" y2="748.2" stroke="#333" stroke-width="0.9"/>
<line x1="234.32" y1="744.8" x2="234.32" y2="747.2" stroke="#333" stroke-width="0.9"/>
<line x1="238.12" y1="744.8" x2="238.12" y2="747.2" stroke="#333" stroke-width="0.9"/>
<line x1="240.81" y1="744.8" x2="240.81" y2="747.2" stroke="#333" stroke-width="0.9"/>
<line x1="242.91" y1="744.8" x2="242.91" y2="747.2" stroke="#333" stroke-width="0.9"/>
<line x1="244.61" y1="744.8" x2="244.61" y2="747.2" stroke="#333" stroke-width="0.9"/>
<line x1="246.06" y1="744.8" x2="246.06" y2="747.2" stroke="#333" stroke-width="0.9"/>
<line x1="247.31" y1="744.8" x2="247.31" y2="747.2" stroke="#333" stroke-width="0.9"/>
<line x1="248.41" y1="744.8" x2="248.41" y2="747.2" stroke="#333" stroke-width="0.9"/>
<line x1="249.4" y1="744.8" x2="249.4" y2="748.2" stroke="#333" stroke-width="0.9"/>
<path d="M173.0 744.8 L173.0 744.2 L173.1 744.7 L172.9 744.4 L173.8 744.7 L174.4 742.7 L174.4 742.7 L174.7 743.2 L175.1 741.4 L174.7 741.8 L175.7 741.4 L174.9 740.9 L175.3 739.9 L176.0 740.1 L175.3 738.8 L175.5 740.0 L175.4 738.6 L175.7 738.6 L175.2 738.1 L175.7 737.9 L176.4 737.4 L176.1 737.2 L176.1 736.4 L176.3 736.2 L176.4 735.1 L176.4 734.8 L176.6 734.5 L176.1 734.0 L176.7 733.4 L176.5 733.4 L176.9 733.8 L176.7 733.2 L176.5 732.3 L176.8 732.4 L176.6 732.0 L177.2 733.0 L177.0 730.0 L177.2 730.7 L176.8 729.4 L177.5 730.5 L177.1 729.2 L177.5 729.2 L177.4 728.7 L177.0 728.5 L177.4 726.0 L177.2 726.6 L177.5 727.0 L177.8 725.7 L177.7 726.4 L177.8 726.4 L177.3 724.5 L177.7 724.6 L177.8 724.9 L178.0 725.2 L177.6 724.3 L178.0 723.7 L178.0 722.3 L177.5 722.5 L177.7 722.1 L178.1 721.3 L177.8 721.5 L177.8 720.6 L178.4 720.2 L178.3 721.3 L178.2 719.5 L178.3 720.3 L178.2 718.6 L178.2 718.4 L178.3 717.3 L178.5 717.3 L178.8 718.2 L178.3 716.8 L178.5 715.2 L178.5 716.9 L178.3 715.1 L178.7 715.0 L178.9 714.8 L178.5 713.3 L178.9 714.9 L178.6 714.4 L179.1 713.0 L179.1 713.0 L178.7 712.2 L178.4 711.6 L178.8 711.5 L178.6 710.3 L178.6 710.6 L178.9 710.1 L179.4 711.1 L179.0 708.7 L179.0 710.0 L178.7 709.2 L179.0 708.5 L178.9 707.6 L179.4 708.7 L179.1 708.1 L179.3 706.8 L179.3 706.3 L179.3 706.1 L179.6 706.7 L179.5 704.6 L179.4 704.8 L179.5 705.0 L179.7 703.1 L179.9 703.5 L179.6 703.8 L180.0 702.5 L179.5 702.2 L179.6 701.0 L179.3 701.7 L179.9 700.4 L179.5 700.5 L179.5 700.5 L180.0 699.5 L179.7 700.0 L179.7 699.5 L180.2 698.9 L179.9 698.8 L180.2 697.7 L179.9 696.1 L180.2 697.5 L180.3 697.1 L180.1 695.9 L180.6 695.3 L180.1 696.1 L180.1 694.7 L180.3 694.4 L180.5 693.9 L180.3 695.2 L180.3 693.0 L180.5 691.4 L180.8 692.5 L180.4 691.6 L180.2 690.7 L180.6 691.4 L180.8 690.6 L180.5 691.1 L180.8 689.9 L180.3 690.4 L180.8 689.9 L180.9 688.9 L181.0 689.0 L181.0 689.2 L181.2 688.1 L180.8 686.5 L181.2 687.0 L180.7 686.7 L181.0 686.9 L181.5 685.7 L181.5 686.0 L180.8 684.9 L181.5 684.5 L181.3 684.0 L181.2 683.7 L181.5 683.2 L181.5 683.1 L181.9 682.1 L181.2 681.5 L181.5 681.6 L181.6 681.4 L181.3 680.6 L182.1 680.7 L182.3 680.3 L181.7 680.6 L182.0 678.4 L181.9 680.0 L182.1 677.0 L181.9 676.9 L182.3 677.7 L181.8 676.6 L182.5 676.6 L182.3 676.1 L182.9 675.1 L181.9 674.7 L182.3 674.9 L182.1 674.9 L182.4 674.6 L182.6 674.0 L182.3 673.3 L182.3 673.8 L182.3 671.4 L182.8 672.3 L183.2 672.6 L183.2 672.4 L183.0 671.8 L182.8 671.5 L183.1 670.9 L182.9 670.0 L182.9 668.1 L183.6 668.8 L183.4 668.5 L183.6 669.2 L183.5 667.6 L184.0 668.1 L184.2 669.1 L183.7 668.5 L183.9 669.5 L183.9 670.2 L184.5 670.1 L184.6 670.7 L184.3 670.0 L185.1 670.8 L184.6 671.7 L184.3 673.0 L184.2 672.4 L184.7 672.5 L184.9 673.0 L184.7 674.3 L185.0 673.4 L185.2 674.8 L185.0 674.9 L185.3 675.5 L185.5 675.4 L185.3 676.3 L185.1 677.5 L185.4 676.9 L185.4 677.2 L185.9 676.4 L185.3 678.6 L185.1 678.3 L185.6 679.3 L185.6 679.6 L185.5 679.4 L185.8 679.9 L185.8 679.9 L186.0 682.3 L185.6 682.1 L185.7 682.4 L185.9 683.0 L185.8 683.5 L186.3 683.6 L186.2 684.1 L186.1 685.4 L186.5 683.3 L186.3 684.8 L186.5 684.8 L186.5 685.6 L186.3 684.4 L186.3 685.7 L186.4 687.2 L186.2 686.4 L186.4 687.9 L186.8 687.4 L186.7 688.2 L186.4 687.8 L187.3 688.8 L186.5 688.6 L187.0 690.3 L187.0 689.3 L187.2 690.9 L186.8 690.8 L187.0 691.5 L187.1 692.8 L187.4 692.2 L187.3 692.4 L187.4 693.2 L187.5 694.0 L187.9 693.6 L187.6 695.4 L187.7 694.9 L187.4 695.0 L187.8 695.2 L187.4 695.9 L188.0 696.7 L187.9 697.4 L187.7 697.2 L187.7 697.2 L188.0 698.0 L188.1 697.1 L188.0 699.5 L188.1 699.7 L188.2 699.5 L188.2 700.4 L188.3 699.8 L188.5 701.9 L188.9 701.2 L188.8 701.4 L188.5 703.4 L189.1 702.0 L189.1 703.3 L188.8 702.9 L189.2 703.5 L188.9 704.1 L188.9 704.3 L189.0 706.0 L189.6 706.2 L189.3 705.6 L189.5 707.8 L189.5 706.7 L189.4 707.1 L189.7 707.8 L189.9 707.4 L190.3 709.2 L189.7 708.3 L190.4 708.5 L190.3 710.3 L189.8 709.5 L190.6 710.3 L190.8 710.2 L190.8 711.0 L190.7 711.8 L190.8 710.7 L190.3 712.5 L190.9 712.4 L190.9 714.2 L190.7 714.9 L191.0 714.4 L190.8 714.9 L191.6 715.6 L190.8 716.0 L190.9 714.9 L190.6 715.3 L191.1 716.2 L191.2 716.1 L191.3 717.1 L191.1 717.8 L191.6 717.7 L191.4 718.8 L191.7 719.8 L191.4 719.4 L191.1 720.0 L191.5 720.1 L191.3 720.5 L191.8 720.7 L191.5 720.7 L191.6 722.1 L191.7 722.8 L191.4 722.6 L191.7 723.0 L192.1 722.6 L191.7 723.7 L191.9 724.4 L192.0 724.5 L191.8 725.0 L192.0 724.8 L192.2 725.1 L192.1 726.1 L192.2 727.5 L192.2 726.8 L192.0 726.5 L192.0 727.5 L192.9 728.1 L192.8 729.4 L192.4 729.7 L192.8 729.0 L192.8 729.3 L192.9 730.1 L192.6 730.7 L192.3 730.5 L192.4 732.1 L192.7 731.6 L193.2 732.5 L193.3 732.6 L192.9 733.4 L192.9 733.4 L193.3 734.1 L193.6 735.1 L192.9 734.9 L193.3 736.0 L193.3 734.8 L193.2 735.8 L193.2 735.7 L193.3 735.9 L193.4 737.1 L193.1 738.7 L193.5 738.1 L193.8 739.0 L193.9 737.6 L194.0 739.3 L193.9 738.9 L194.0 740.1 L194.5 741.0 L194.1 740.5 L194.3 741.8 L194.6 741.1 L194.4 742.0 L194.2 742.0 L194.4 742.8 L194.5 743.0 L194.7 742.2 L194.7 743.7 L195.2 744.0 L195.0 744.8Z" fill="#6e6e6e" stroke="#3a3a3a" stroke-width="0.8"/>
<path d="M175.0 744.8 L175.2 744.6 L175.8 744.2 L176.4 744.3 L176.4 743.1 L176.2 743.8 L177.0 744.1 L176.7 742.5 L176.8 744.1 L176.9 741.7 L177.1 741.4 L177.9 741.1 L176.9 740.3 L177.1 739.6 L178.1 739.6 L178.1 740.1 L178.4 739.3 L178.1 740.9 L178.6 739.1 L178.4 738.6 L178.5 738.1 L178.6 738.7 L179.0 738.1 L179.1 737.9 L179.1 738.0 L179.9 738.3 L179.6 735.9 L179.4 736.9 L179.2 736.1 L179.8 735.9 L179.4 734.8 L179.7 735.6 L179.8 735.2 L180.0 734.7 L180.5 733.3 L179.4 734.3 L181.2 732.5 L180.9 731.7 L180.8 733.4 L180.8 732.2 L181.4 727.1 L181.2 731.1 L182.0 731.4 L181.5 731.9 L181.3 730.5 L181.3 729.6 L181.9 729.1 L182.4 728.5 L181.7 729.2 L182.6 728.3 L182.6 729.2 L182.3 723.2 L182.9 728.9 L182.0 727.4 L181.9 727.3 L182.9 726.8 L183.1 726.4 L183.1 727.6 L183.1 725.3 L182.7 725.1 L183.5 725.0 L183.3 725.4 L183.8 723.6 L183.7 725.4 L183.3 723.0 L184.0 723.0 L184.2 723.2 L184.3 722.9 L183.9 721.6 L183.8 722.8 L184.6 723.3 L184.4 721.4 L184.5 721.7 L185.0 721.3 L185.1 722.6 L185.0 720.2 L184.8 720.1 L185.4 719.1 L184.6 719.3 L185.0 718.4 L185.2 716.0 L184.7 717.7 L185.0 718.3 L185.6 716.9 L185.3 720.8 L185.0 716.4 L186.0 717.1 L185.6 714.7 L185.6 714.4 L186.3 715.6 L185.2 716.0 L185.5 713.9 L185.5 712.2 L186.3 714.6 L185.6 713.7 L186.8 712.3 L186.2 713.8 L186.2 713.4 L186.5 711.3 L186.1 711.1 L185.9 711.7 L186.1 711.3 L186.4 711.6 L186.1 710.5 L186.5 711.4 L186.3 709.0 L186.5 708.2 L186.6 708.1 L187.3 707.6 L187.6 707.8 L187.5 706.9 L186.9 707.9 L186.8 707.9 L187.5 708.0 L187.6 705.8 L187.6 704.8 L187.1 705.2 L187.5 705.2 L187.3 704.4 L187.9 704.9 L187.9 704.5 L187.7 704.1 L187.5 702.7 L188.4 703.8 L187.9 702.0 L188.2 700.2 L188.1 701.8 L188.3 702.6 L188.5 701.2 L188.0 699.5 L188.0 700.2 L188.5 701.2 L187.2 699.9 L188.4 699.3 L188.3 698.0 L188.8 698.6 L188.7 697.8 L188.6 699.3 L188.3 697.9 L188.7 698.0 L188.7 695.5 L188.9 696.5 L189.0 696.9 L188.7 697.3 L189.2 696.6 L188.9 694.4 L189.3 697.3 L189.3 694.3 L189.7 693.8 L189.3 693.4 L190.0 692.4 L189.3 692.7 L189.2 692.1 L189.8 691.9 L189.2 691.3 L189.8 691.3 L189.9 691.8 L189.9 690.2 L190.0 689.5 L190.0 690.6 L190.5 689.7 L190.0 690.0 L189.4 688.3 L190.0 688.6 L190.5 687.6 L190.6 686.8 L190.6 687.2 L190.4 687.2 L190.1 687.2 L191.0 685.5 L190.3 686.8 L190.2 686.7 L189.8 685.8 L191.4 684.7 L190.8 684.0 L190.2 685.2 L191.2 683.3 L191.1 684.8 L190.4 681.8 L191.3 681.3 L191.1 683.0 L191.4 681.2 L191.7 682.8 L191.1 681.2 L192.0 680.8 L191.3 681.1 L191.2 681.4 L191.9 680.9 L191.3 679.6 L191.4 679.2 L191.9 679.8 L191.4 678.1 L191.3 677.6 L191.9 677.3 L191.9 680.5 L191.7 678.7 L192.3 677.5 L191.6 676.5 L192.4 676.9 L191.8 674.7 L192.4 675.5 L191.9 676.2 L192.6 674.3 L192.4 673.7 L192.4 674.3 L192.6 673.9 L192.6 674.9 L193.0 674.1 L192.5 673.1 L193.0 674.5 L192.8 671.9 L192.7 673.0 L192.9 672.1 L192.8 671.3 L193.4 670.6 L193.4 671.1 L193.6 671.7 L193.0 668.6 L193.5 669.8 L194.3 670.2 L194.3 668.4 L194.0 668.1 L194.1 675.4 L194.3 667.8 L194.7 668.1 L195.0 669.1 L194.7 669.4 L194.8 670.0 L194.8 670.4 L195.0 671.5 L195.6 670.9 L194.9 671.8 L195.5 670.7 L194.9 671.9 L195.1 671.6 L194.9 673.7 L195.3 673.1 L196.1 674.2 L196.1 673.3 L195.9 673.1 L195.6 674.9 L196.0 674.4 L195.3 673.6 L195.2 675.0 L195.4 674.9 L195.7 677.2 L195.2 676.2 L195.6 677.3 L196.4 677.5 L195.8 678.4 L195.8 681.5 L195.7 678.5 L196.2 678.8 L196.2 677.6 L196.1 679.1 L196.0 678.4 L195.3 678.8 L195.6 680.2 L196.0 679.0 L196.0 683.2 L196.1 682.0 L196.1 681.4 L196.9 682.5 L196.7 681.2 L195.9 682.5 L196.6 680.6 L196.5 682.2 L196.4 682.9 L196.3 685.4 L196.6 685.9 L197.1 682.9 L196.3 684.5 L196.5 684.6 L196.5 687.0 L196.0 686.7 L196.6 686.0 L196.4 687.4 L196.8 688.1 L196.9 686.8 L197.4 688.6 L196.7 688.6 L196.7 689.1 L197.1 687.4 L197.6 689.1 L197.0 687.5 L197.1 690.2 L197.2 689.6 L197.2 691.8 L196.9 692.2 L196.8 689.8 L196.9 693.0 L197.0 691.6 L197.3 693.2 L196.9 692.9 L197.0 692.8 L197.3 693.2 L197.3 693.4 L197.4 695.4 L196.9 694.6 L198.1 694.0 L197.4 695.8 L197.4 695.1 L197.2 696.3 L197.7 695.6 L197.9 696.9 L197.6 696.1 L197.6 696.6 L197.6 695.2 L198.5 698.7 L197.9 698.5 L197.6 698.6 L197.8 701.3 L198.2 699.3 L197.9 697.5 L198.0 700.6 L198.0 699.9 L197.9 699.5 L198.2 702.0 L198.6 702.2 L198.2 701.5 L198.0 701.7 L197.8 702.5 L198.1 703.8 L198.0 702.0 L197.9 704.8 L198.5 704.2 L198.4 704.7 L198.7 706.0 L198.5 704.8 L198.3 705.9 L198.8 705.7 L198.7 703.4 L199.2 706.2 L198.4 706.8 L198.7 706.9 L199.0 708.5 L199.5 707.3 L199.3 708.5 L198.8 708.8 L198.9 709.2 L199.5 707.6 L198.9 709.1 L199.3 709.4 L199.5 711.6 L199.5 710.2 L199.8 711.4 L200.1 711.4 L200.0 710.3 L199.5 710.9 L200.5 714.9 L200.4 713.2 L199.8 714.3 L200.0 713.1 L199.7 712.5 L200.7 713.9 L200.1 713.1 L200.5 715.9 L200.5 714.7 L200.8 715.3 L200.5 717.3 L200.4 716.4 L200.7 715.3 L200.9 717.1 L200.5 716.5 L200.6 716.3 L200.2 717.0 L201.2 716.9 L200.6 718.9 L201.2 718.1 L201.2 718.8 L201.2 720.4 L201.3 719.7 L200.8 719.8 L201.2 720.7 L200.9 720.4 L201.2 721.3 L201.1 721.4 L202.2 722.7 L201.5 722.0 L201.9 721.9 L201.4 722.7 L202.3 721.5 L201.7 723.6 L201.7 724.8 L201.8 723.7 L201.4 725.1 L201.3 726.2 L202.1 723.8 L201.8 729.7 L202.1 726.5 L202.9 727.6 L202.2 726.4 L203.1 727.6 L202.5 727.7 L202.1 727.5 L202.8 728.2 L203.1 729.9 L203.1 727.6 L202.6 729.0 L202.6 730.1 L203.4 731.2 L203.8 729.4 L203.9 729.5 L203.2 729.3 L203.4 731.7 L203.6 731.6 L204.0 732.1 L203.9 732.3 L204.0 731.2 L203.9 734.1 L203.1 734.3 L203.7 732.7 L204.3 733.6 L203.8 733.7 L205.1 734.2 L204.3 740.4 L204.9 736.4 L205.1 735.0 L205.3 739.7 L204.6 737.0 L205.1 737.1 L205.8 736.5 L205.4 736.9 L205.7 737.8 L204.8 740.8 L205.8 737.7 L205.9 738.3 L205.9 740.0 L205.4 739.8 L205.9 739.3 L206.2 742.7 L206.3 740.4 L206.1 740.4 L207.1 741.1 L207.2 742.1 L206.9 742.5 L207.7 743.1 L206.9 742.8 L207.6 738.3 L208.2 744.4 L208.0 743.4 L208.0 743.3 L208.4 744.8 L208.3 744.8 L208.5 744.8" fill="none" stroke="#8a8a8a" stroke-width="0.8"/>
<path d="M175.0 744.8 L174.9 744.1 L176.0 744.5 L175.6 744.3 L175.9 743.0 L176.3 743.8 L176.4 743.0 L177.1 743.7 L177.0 741.8 L177.7 743.0 L176.8 742.0 L177.4 741.0 L177.6 741.4 L177.6 740.7 L177.5 739.6 L177.6 739.3 L178.2 740.6 L178.0 739.6 L177.9 739.9 L178.2 740.1 L178.8 738.4 L179.0 738.0 L179.0 736.9 L179.3 737.8 L179.3 737.6 L179.4 736.0 L179.1 736.5 L179.4 736.9 L180.0 735.0 L180.0 734.5 L180.2 736.8 L180.4 735.8 L179.5 735.0 L180.6 735.2 L180.7 733.8 L180.7 734.0 L180.8 734.0 L180.5 733.1 L181.2 733.7 L181.3 731.9 L181.3 732.3 L181.6 731.8 L182.0 730.5 L181.7 730.3 L181.6 729.8 L181.9 731.4 L182.4 729.9 L182.4 728.7 L182.2 729.0 L182.3 728.2 L182.5 729.6 L182.2 727.3 L182.3 728.9 L182.8 727.2 L182.9 727.5 L182.8 726.4 L183.0 725.0 L183.0 727.0 L183.6 726.3 L183.2 725.9 L183.4 725.6 L183.4 725.7 L183.2 723.7 L183.0 723.7 L183.6 724.1 L184.6 722.7 L183.8 722.6 L184.2 721.9 L184.2 723.0 L184.7 721.4 L184.2 722.4 L184.1 721.7 L183.9 721.3 L185.1 720.4 L185.0 720.8 L184.2 718.9 L185.0 720.2 L184.7 718.1 L185.0 719.5 L184.9 718.5 L185.2 718.0 L185.7 718.3 L185.4 717.7 L185.5 717.0 L185.5 716.8 L185.4 715.0 L185.4 716.5 L185.9 715.2 L186.1 715.8 L185.9 714.8 L185.8 715.3 L186.0 713.7 L186.1 713.3 L186.0 713.8 L185.8 713.0 L186.3 712.2 L185.7 712.7 L186.3 711.3 L185.9 711.1 L186.0 711.5 L186.3 711.1 L186.1 710.5 L186.4 710.4 L186.6 709.2 L186.5 709.7 L186.7 709.2 L187.0 708.9 L186.7 708.3 L186.7 706.7 L187.0 706.0 L187.0 706.2 L186.6 706.8 L187.0 706.9 L186.8 707.7 L187.6 705.2 L186.9 706.0 L187.1 705.5 L187.4 705.3 L186.7 704.1 L186.9 705.0 L187.3 703.5 L187.5 703.3 L187.2 703.1 L187.7 703.3 L187.9 702.1 L188.0 702.3 L188.3 701.9 L188.1 701.4 L187.9 700.3 L188.5 700.9 L188.5 700.9 L188.1 700.3 L188.1 700.7 L188.5 699.5 L188.5 699.9 L188.9 699.0 L188.6 698.7 L188.9 699.0 L189.0 697.8 L188.8 696.9 L189.0 697.7 L188.5 697.0 L188.7 695.7 L189.0 695.5 L189.0 695.9 L189.1 695.9 L189.2 694.7 L188.8 695.1 L189.6 693.9 L189.5 694.7 L189.6 692.0 L188.9 693.7 L189.2 693.3 L189.1 692.6 L189.3 691.2 L189.7 691.6 L189.8 690.4 L190.1 691.7 L189.6 689.4 L190.2 690.4 L189.7 689.3 L190.2 688.1 L190.4 689.2 L189.8 690.2 L190.1 689.4 L190.4 687.7 L190.5 687.9 L190.0 687.7 L189.9 688.1 L190.1 686.8 L190.7 687.5 L190.8 686.0 L190.7 686.0 L190.9 685.4 L191.0 684.9 L190.9 684.8 L191.2 684.2 L190.3 685.5 L190.5 682.3 L190.6 684.6 L191.1 683.6 L190.5 682.8 L191.7 684.0 L191.7 682.8 L191.7 681.0 L190.8 680.2 L191.5 682.7 L191.5 681.2 L191.9 680.5 L191.5 681.7 L191.7 679.3 L191.3 678.7 L192.0 679.5 L192.3 678.6 L191.9 677.9 L191.3 677.2 L191.8 677.5 L191.7 676.2 L192.2 677.7 L192.1 675.5 L192.5 675.4 L192.5 675.3 L192.5 674.3 L192.8 676.2 L192.2 674.0 L193.0 674.8 L192.6 673.0 L192.5 675.5 L193.1 673.6 L193.0 673.5 L193.3 672.4 L193.4 672.6 L193.0 671.2 L193.5 671.3 L193.0 671.5 L193.5 669.8 L193.5 670.0 L193.4 671.2 L193.3 670.5 L194.0 669.5 L193.5 669.9 L193.9 668.9 L194.7 669.5 L194.8 667.8 L194.6 667.5 L194.4 668.5 L195.1 670.5 L194.7 668.6 L194.9 669.8 L195.2 670.4 L194.8 669.9 L194.7 671.3 L194.7 671.0 L194.9 672.1 L195.1 671.9 L195.4 673.2 L195.8 672.3 L195.5 671.7 L195.4 675.1 L195.8 674.9 L195.3 674.1 L196.0 674.5 L195.9 673.2 L196.2 676.7 L195.9 674.9 L195.9 676.6 L196.0 676.8 L196.0 676.2 L196.1 678.2 L196.0 676.5 L196.3 678.2 L195.8 678.0 L196.4 678.7 L195.9 677.4 L196.8 678.9 L195.9 679.9 L196.2 678.8 L196.9 680.4 L196.6 681.3 L196.0 681.6 L196.6 680.3 L196.3 682.4 L196.0 681.1 L196.9 682.8 L196.5 681.2 L197.1 682.5 L196.4 682.1 L196.6 684.9 L196.9 684.5 L196.4 683.4 L196.6 683.9 L196.1 685.6 L197.0 685.6 L197.1 685.5 L197.1 686.1 L196.8 686.7 L196.4 686.4 L197.3 685.8 L196.7 686.8 L196.8 688.2 L197.4 688.6 L197.1 689.3 L197.2 689.5 L197.7 689.2 L196.9 689.5 L197.3 691.1 L196.7 689.5 L197.1 690.2 L197.1 692.1 L197.2 692.0 L197.2 691.1 L196.7 690.7 L197.0 691.3 L197.5 693.1 L196.9 692.7 L197.7 693.9 L197.8 692.5 L196.9 694.7 L197.0 694.0 L198.0 695.0 L197.8 696.7 L197.3 695.9 L197.4 696.6 L197.5 695.4 L197.7 696.0 L197.3 695.9 L198.1 698.1 L197.5 697.0 L197.6 698.3 L197.9 699.6 L198.1 697.9 L197.9 699.0 L198.0 698.3 L198.4 700.1 L198.0 700.0 L198.0 701.1 L198.3 701.1 L198.3 702.0 L198.1 700.3 L198.0 701.0 L198.4 702.8 L198.4 702.8 L198.5 702.7 L198.1 702.6 L197.8 703.2 L198.0 703.1 L199.1 704.6 L198.3 703.9 L198.2 704.9 L198.4 704.2 L198.2 706.6 L198.4 711.3 L199.0 706.1 L199.1 706.2 L198.6 706.0 L198.9 707.6 L199.0 708.3 L199.2 709.3 L199.1 708.4 L199.2 707.8 L199.2 708.5 L199.3 709.6 L199.2 709.2 L199.7 709.0 L199.9 711.5 L199.3 710.4 L200.0 710.9 L199.7 713.1 L200.2 711.2 L200.2 712.7 L199.3 713.3 L199.6 713.0 L200.2 713.0 L200.3 713.4 L200.3 714.1 L200.0 713.8 L200.4 715.6 L199.7 716.4 L200.7 713.7 L200.6 716.3 L200.4 716.1 L200.8 716.6 L200.2 717.1 L200.8 717.1 L200.9 717.7 L200.7 717.2 L201.0 718.8 L200.7 719.3 L201.4 719.3 L200.2 720.2 L200.9 719.2 L201.1 720.6 L201.3 721.2 L201.6 720.3 L201.2 721.2 L201.1 721.1 L201.4 721.3 L201.3 723.4 L201.5 722.5 L201.4 722.4 L201.1 723.1 L202.0 723.7 L201.4 726.0 L202.0 728.8 L202.1 724.2 L201.8 725.1 L202.3 725.4 L201.7 725.4 L201.9 725.9 L202.2 726.1 L202.6 727.0 L202.1 727.9 L202.1 726.6 L202.6 727.2 L202.7 727.7 L202.2 729.0 L203.0 728.0 L203.3 728.5 L203.1 729.9 L203.3 729.0 L203.5 728.7 L202.9 731.1 L203.4 730.5 L203.2 731.6 L203.5 730.9 L203.6 730.7 L203.5 731.1 L203.4 734.2 L203.5 734.5 L203.4 734.4 L203.7 735.0 L203.9 733.8 L204.5 734.5 L204.5 733.1 L204.5 734.9 L204.2 735.9 L204.4 735.6 L204.7 737.7 L205.1 735.6 L204.5 736.9 L204.8 736.5 L205.3 737.0 L205.2 737.1 L205.7 737.9 L205.7 737.0 L205.5 739.2 L205.6 738.8 L205.7 738.6 L205.9 738.5 L206.4 740.0 L206.2 739.9 L206.2 740.5 L206.8 740.5 L206.7 742.0 L207.4 742.5 L207.2 741.3 L207.0 743.4 L207.6 743.0 L207.4 742.9 L207.8 743.7 L208.0 743.1 L208.5 744.2 L208.6 744.1 L208.4 744.8 L208.5 744.8" fill="none" stroke="#1a1a1a" stroke-width="1.25"/>
<line x1="205.05" y1="734.61" x2="205.59" y2="740.02" stroke="#8a8a8a" stroke-width="0.7"/>
<line x1="202.14" y1="722.85" x2="202.18" y2="727.36" stroke="#8a8a8a" stroke-width="0.7"/>
<line x1="181.05" y1="729.25" x2="181.04" y2="736.34" stroke="#2a2a2a" stroke-width="0.7"/>
<line x1="205.29" y1="735.84" x2="205.43" y2="740.51" stroke="#8a8a8a" stroke-width="0.7"/>
<line x1="195.45" y1="669.35" x2="195.5" y2="674.34" stroke="#2a2a2a" stroke-width="0.7"/>
<line x1="204.88" y1="733.09" x2="204.84" y2="742.31" stroke="#2a2a2a" stroke-width="0.7"/>
<line x1="183.2" y1="724.16" x2="183.24" y2="730.65" stroke="#8a8a8a" stroke-width="0.7"/>
<line x1="195.51" y1="671.01" x2="195.34" y2="676.57" stroke="#8a8a8a" stroke-width="0.7"/>
<line x1="178.09" y1="739.33" x2="177.93" y2="744.8" stroke="#2a2a2a" stroke-width="0.7"/>
<line x1="180.95" y1="729.79" x2="180.61" y2="733.79" stroke="#8a8a8a" stroke-width="0.7"/>
<line x1="196.8" y1="682.28" x2="196.77" y2="685.58" stroke="#2a2a2a" stroke-width="0.7"/>
<line x1="190.49" y1="683.2" x2="190.58" y2="688.06" stroke="#8a8a8a" stroke-width="0.7"/>
<line x1="180.7" y1="732.44" x2="181.55" y2="736.96" stroke="#8a8a8a" stroke-width="0.7"/>
<line x1="196.98" y1="685.97" x2="197.2" y2="691.76" stroke="#8a8a8a" stroke-width="0.7"/>
<line x1="194.6" y1="667.4" x2="194.97" y2="674.61" stroke="#8a8a8a" stroke-width="0.7"/>
<line x1="199.37" y1="707.63" x2="199.79" y2="710.98" stroke="#8a8a8a" stroke-width="0.7"/>
<line x1="179.36" y1="735.77" x2="179.58" y2="742.36" stroke="#2a2a2a" stroke-width="0.7"/>
<line x1="190.99" y1="679.62" x2="192.02" y2="683.81" stroke="#2a2a2a" stroke-width="0.7"/>
<line x1="204.75" y1="733.13" x2="204.92" y2="737.06" stroke="#8a8a8a" stroke-width="0.7"/>
<line x1="195.27" y1="668.13" x2="195.47" y2="676.57" stroke="#8a8a8a" stroke-width="0.7"/>
<line x1="194.55" y1="667.4" x2="194.45" y2="669.54" stroke="#8a8a8a" stroke-width="0.7"/>
<line x1="187.94" y1="698.41" x2="188.38" y2="705.46" stroke="#2a2a2a" stroke-width="0.7"/>
<line x1="182.13" y1="726.14" x2="181.77" y2="734.6" stroke="#8a8a8a" stroke-width="0.7"/>
<line x1="189.73" y1="689.08" x2="189.4" y2="695.89" stroke="#8a8a8a" stroke-width="0.7"/>
<line x1="181.73" y1="727.94" x2="181.27" y2="736.45" stroke="#2a2a2a" stroke-width="0.7"/>
<line x1="178.81" y1="735.56" x2="179.48" y2="742.16" stroke="#8a8a8a" stroke-width="0.7"/>
<line x1="182.64" y1="726.44" x2="182.44" y2="733.85" stroke="#2a2a2a" stroke-width="0.7"/>
<line x1="185.21" y1="714.52" x2="184.38" y2="722.39" stroke="#2a2a2a" stroke-width="0.7"/>
<line x1="183.69" y1="721.56" x2="184.45" y2="729.01" stroke="#2a2a2a" stroke-width="0.7"/>
<line x1="201.4" y1="719.76" x2="200.61" y2="726.56" stroke="#8a8a8a" stroke-width="0.7"/>
<line x1="183.04" y1="668.99" x2="183.23" y2="673.86" stroke="#888" stroke-width="0.8"/>
<line x1="182.79" y1="667.74" x2="182.42" y2="678.58" stroke="#222" stroke-width="0.8"/>
<line x1="184.4" y1="669.05" x2="184.38" y2="677.79" stroke="#555" stroke-width="0.8"/>
<line x1="184.42" y1="668.89" x2="184.21" y2="682.85" stroke="#888" stroke-width="0.8"/>
<line x1="183.87" y1="668.51" x2="183.93" y2="675.56" stroke="#888" stroke-width="0.8"/>
<line x1="182.83" y1="667.84" x2="183" y2="676.21" stroke="#888" stroke-width="0.8"/>
<line x1="181.53" y1="668.18" x2="182.28" y2="672.97" stroke="#888" stroke-width="0.8"/>
<line x1="182.88" y1="668.49" x2="183.51" y2="673.16" stroke="#555" stroke-width="0.8"/>
<line x1="182.92" y1="668.24" x2="183.67" y2="679.6" stroke="#555" stroke-width="0.8"/>
<line x1="184.49" y1="669.02" x2="184.51" y2="677.4" stroke="#888" stroke-width="0.8"/>
<rect x="190.7" y="667.4" width="2.6" height="77.4" fill="#000"/>
<rect x="75.1" y="526" width="11.5" height="11.8" fill="#6a6a6a" stroke="#111" stroke-width="1.2"/>
<text x="93.5" y="537" font-size="14" fill="#111">Medium</text>
<rect x="154.8" y="526.6" width="11" height="11.2" fill="#fff" stroke="#111" stroke-width="1.2"/>
<text x="173.5" y="537" font-size="14" fill="#111">CD40L</text>
<rect x="78" y="645" width="11" height="11.2" fill="#6a6a6a" stroke="#111" stroke-width="1.2"/>
<text x="98" y="655.3" font-size="14" fill="#111">Medium</text>
<rect x="156.3" y="645" width="11" height="11.2" fill="#fff" stroke="#111" stroke-width="1.2"/>
<text x="175" y="655.3" font-size="14" fill="#111">CD30L</text>
<text x="95.3" y="764.5" font-size="14" fill="#111">BAFF</text>
<text x="196" y="764.5" font-size="14" fill="#111">APRIL</text>
</svg>
</body></html>
